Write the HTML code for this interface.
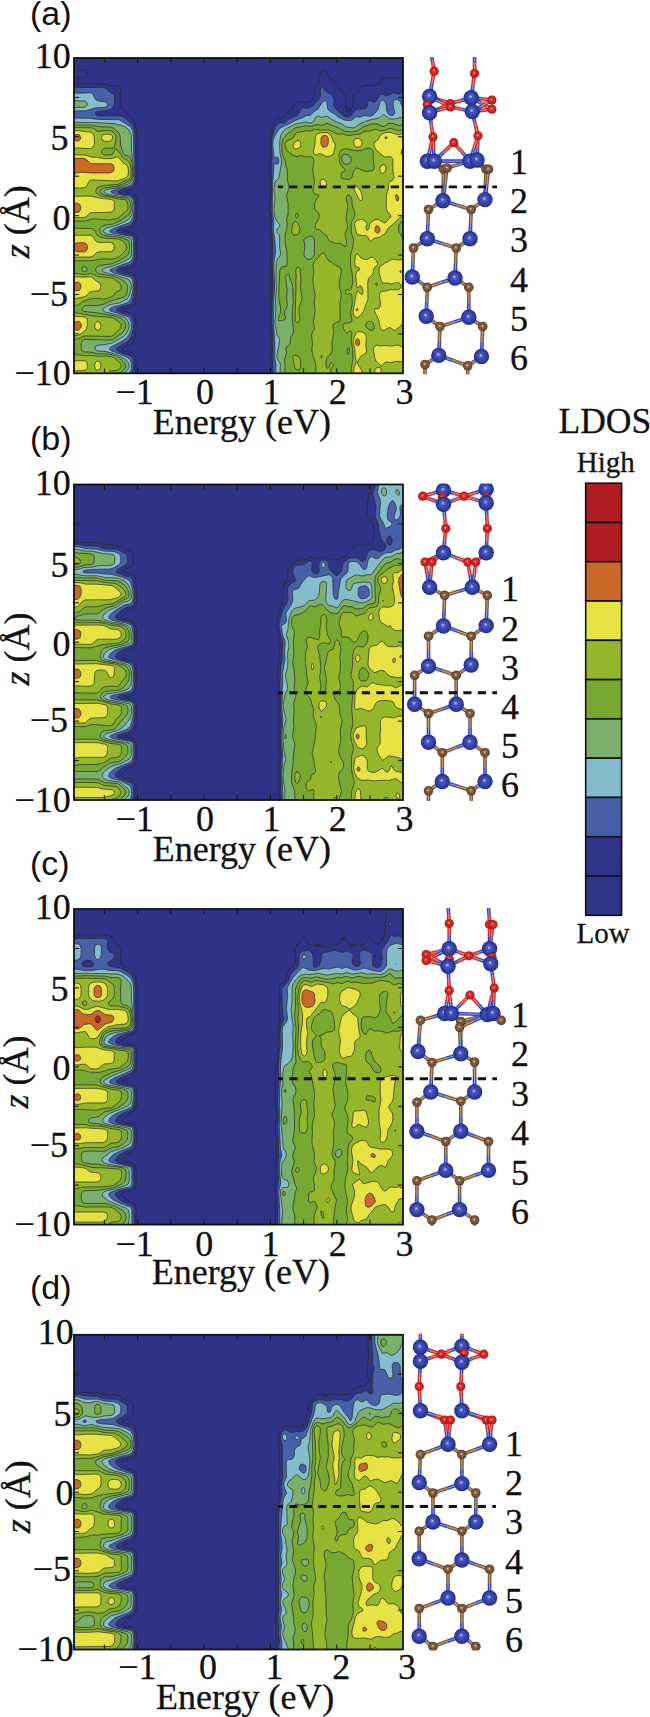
<!DOCTYPE html>
<html><head><meta charset="utf-8"><style>
html,body{margin:0;padding:0;background:#fff;}
svg{display:block;}
</style></head><body>
<svg width="650" height="1717" viewBox="0 0 650 1717">
<defs>
<radialGradient id="gB" cx="0.5" cy="0.5" r="0.5" fx="0.45" fy="0.42"><stop offset="0" stop-color="#c8d0f8"/><stop offset="0.25" stop-color="#4a58c0"/><stop offset="0.8" stop-color="#2c3a9c"/><stop offset="1" stop-color="#1f2a7a"/></radialGradient>
<radialGradient id="gN" cx="0.5" cy="0.5" r="0.5" fx="0.45" fy="0.42"><stop offset="0" stop-color="#e8d0b8"/><stop offset="0.3" stop-color="#8a6444"/><stop offset="0.85" stop-color="#6a4a30"/><stop offset="1" stop-color="#4a3220"/></radialGradient>
<radialGradient id="gO" cx="0.5" cy="0.5" r="0.5" fx="0.45" fy="0.42"><stop offset="0" stop-color="#f8b0b0"/><stop offset="0.3" stop-color="#d83030"/><stop offset="0.85" stop-color="#c01c1c"/><stop offset="1" stop-color="#901010"/></radialGradient>
</defs>
<rect width="650" height="1717" fill="#fff"/>

<svg x="74.0" y="58.0" width="329.0" height="315.3" viewBox="74.0 58.0 329.0 315.3" overflow="hidden">
<rect x="74.0" y="58.0" width="329.0" height="315.3" fill="#2e3388"/>
<path d="M78 69.9L83 69.9 86 70.7 87.4 73 86.8 76 85 77.3 83 77.7 78 77.6 75.9 77 74.2 75 74.1 73 75.2 71ZM322 70.8L324 70.5 325 71 326 72 328 76.1 332 79.1 335 84.4 338.6 87 341.5 92 345 94.4 346 95.6 346.5 97 345.4 98 345.7 109 346.4 111 348 112 350.3 111 349 110.4 349 109.3 350 109.4 351 110.3 351 109 352 108 353 106 353.2 100 354 95.9 355 94.5 358.6 92 362 86.6 365 85.6 375 85.5 378 84.7 379 85.2 380.3 84 380 83.7 379 84.6 378.8 84 380 81.6 381 82.4 381.3 81 381 79.7 382 78.6 384 77.9 406 77.7 406 376 270.8 376 270.4 365 271.2 357 270.5 342 271.1 332 270.3 324 270.3 303 271.2 289 270.4 264 270.8 237 270.3 230 270.3 221 269.5 209 270.3 196 270.3 185 269.8 180 269.8 149 270.2 148 269.7 140 270.7 132 272.2 127 276 119.3 278 118.1 283 117.8 284.5 117 288.6 111 291 109.5 292 110.1 292 108.7 293 109.2 292.6 108 294.1 104 296 102 298 101.6 305 102.1 305.7 103 307 103.2 307.6 103 308 102.2 311 101.4 312.7 100 314 97 314.2 91 315.1 89 314.7 88 315 87.4 316 87.5 317.2 86 317.3 85 319.7 82 320.1 74 320.9 72ZM96 84L105 84 111 86 117 85.9 119.7 87 120.8 90 120.5 103 121 107.4 122.1 109 126 111 129.3 116 133.1 120 135.2 124 136.3 129 136.9 136 137.4 169 137.3 177 136.6 183 135.7 186 134 188.5 132 189.7 125 191 124.9 192 132 193.4 134.5 195 135.9 197 136.7 200 137.1 206 136.5 219 135.4 224 133.7 227 131 228.6 123.9 230 123 231 124.8 232 131 232.5 133 233.1 135 234.4 136 236 136.8 240 136.6 258 135.6 263 134 266.1 131 267.9 124 269.4 122.8 270 122.8 271 125 271.9 132 272.9 134.9 275 135.9 277 136.5 280 136.6 290 135.7 301 134.5 305 132 307.2 124 308.8 122.7 310 123.8 311 131 312.8 134 315 135 317 135.7 320 136.1 328 134.7 338 133 343 130.9 345 124 347.2 122.5 348 121.9 349 122.1 350 123.6 351 132 352.7 134.6 355 135.6 358 136.1 364 135.6 376 71 376 71 84.2ZM347 106.3L347.6 108 347 108.2 346.5 108ZM348 108.6L348.5 109 348 109.1Z" fill="#2e3488" fill-rule="evenodd" stroke="#2a2a2a" stroke-width="0.7"/>
<path d="M72 87.8L102 87.3 106 88.3 109 91.6 113 93.7 114.2 95 114.8 99 114 106 112.7 108 110 109.8 106 110.8 98 111.2 96 112 95.4 113 95.4 114 97 115.5 99 115.9 118 115.8 122 116.3 124 117.3 131.6 124 133 126.1 134.2 130 135 136 135.1 154 135.7 168 135.7 177 134.8 182 133.5 185 132 186.6 130 187.5 122.7 189 118.3 191 117.6 192 118.8 193 121 193.7 130 195.1 133.2 197 134.6 200 135.2 205 135.3 210 134.6 217 133.2 222 131 224.9 128.5 226 120.8 228 117.2 230 116.7 231 117.6 232 122 233.6 132 235.1 134 237 134.6 239 134.7 256 134.2 259 133 262 132 263.4 130 264.9 119.5 268 116.6 270 116.6 271 117.7 272 121 273.4 130 275 132 275.9 133.6 278 134.4 281 134.5 290 133 300 132 302.7 130 304.4 123 306.2 118.6 308 116.9 309 116.4 310 117.1 311 118.9 312 127 314.2 130 315.6 132 317.8 133.2 321 133.7 325 133.5 329 132 335 130.2 339 127.2 342 117.5 347 116 349 116.5 350 119.7 352 124 353.9 130 355.5 132 357.1 133.2 360 133.8 365 132.4 376 71 376 71 87.8ZM321 87.8L322 87.3 323 87.5 325.8 91 332 95.2 333.2 97 334.1 100 334.1 102 333.4 105 333.7 107 343 115.6 346 116.8 349 116.5 351 115.7 355 110.6 357 109.1 364 108.9 366 108 366.7 107 368 101.8 369 100.9 370 100.8 374 102 376 101.5 379 95.8 381 94.2 383 94.3 385 95.6 387 96.1 393 93.1 395 93 399 94.2 403 91.8 406 91.5 406 376 272.8 376 272.8 332 271.9 323 272.1 301 273 289 272.2 263 273 254 272.7 238 271.7 228 272.1 221 271.1 210 272 154 271.4 143 272 137.2 274 130.2 276 125.9 278 123.3 280 122.8 283 123.2 285 122.7 290 118.6 295 116.5 297.5 115 299.1 113 301 109 302 107.9 303 107.6 307 108.5 309 108.3 311 107.3 315 103.8 320.1 97 320.7 94 320 90Z" fill="#4760a8" fill-rule="evenodd" stroke="#2a2a2a" stroke-width="0.7"/>
<path d="M88 92.9L91 92.9 92.9 94 95.2 99 97 100.7 106.3 102 107.7 104 107.2 106 105.7 107 104 107.4 96 107.8 86 110.7 71 111 71 93.2ZM395 99.4L397 99.3 399.9 101 402.7 108 404.5 110 406 110.8 406 376 275.7 376 276 365 274.8 358 274.8 341 273.4 323 273.7 300 274.6 289 273.9 263 275.7 252 274.8 239 273.4 230 273.8 222 272.4 211 272.5 189 274 163.4 275 162.8 275.9 164 277 164.5 278 164 279.1 161 278 157.6 277 157.1 275 158.2 274.1 156 272.7 144 273 140.7 274 137.4 277 132 280 128.1 292 122.6 296 120.2 303 117.5 307 115.2 310 115.6 313.6 112 318.1 109 321.6 103 324 100.8 326 100.8 326.8 102 327.5 108 328.5 110 330 111.5 334 113.5 338 116.9 343 119.4 346 120.4 350 120.6 352 120.1 356 116.7 360 117.2 364 115.6 370 116.3 373 115.2 378 109.7 380.2 102 381 100.6 382 100.1 384 101.1 385.4 103 386.1 105 386.9 111 388.2 114 390 115.5 391 115.8 393 115.4 394.4 114 394.7 112 393.1 106 393.1 103 393.6 101ZM72 118.1L89 118.2 98 119.4 119 119.7 130 126.2 131.9 129 133 132.7 133.5 137 133.6 154 134.6 169 134.5 177 133.7 181 132 184 130 185.4 113.8 190 111.2 191 110.7 192 112.1 193 116 194.2 128.1 196 131.9 198 133.4 201 134 206 133.9 211 133 216.9 131.1 221 129 222.8 112.6 229 110.5 230 109.6 231 110.1 232 112.3 233 131 236.5 132.6 238 133.2 240 133.2 255 132.7 258 131.6 260 130 261.7 128 262.7 116.1 267 111.3 269 110 270 110 271 114.1 273 130 277.3 132 279.4 133 283 132.9 290 131 298 129.4 301 127 302.6 120 305.2 112 307.2 109.5 309 109.4 310 110.5 311 127 316.4 129 318 131.1 322 131.7 326 131.3 329 129.8 333 127.5 337 124 340.1 110.8 347 109.8 348 109.5 349 110.1 350 111.9 351 119 353.6 128 357.9 130.3 360 131.6 364 131.5 368 131 370.1 128.5 374 127.8 376 71 376 71 118.1Z" fill="#84bccc" fill-rule="evenodd" stroke="#2a2a2a" stroke-width="0.7"/>
<path d="M72 100.7L85 101 87 102.8 87.2 105 86 106.6 84 107.3 71 107.5 71 100.7ZM383 114.6L384 114.8 389 118.5 391 119.1 395 118.9 400 117.6 406 118 406 376 279.8 376 280.5 364 277.6 359 276.9 356 279.8 340 279.1 338 277 335 274.9 323 275.7 310 275.5 299 276.4 288 275.9 280 276.2 264 277 260.1 279.8 256 280.6 254 279.6 247 279.6 237 279 234.8 277 232.1 276.7 230 277 229 279.3 227 279.9 226 279.9 225 276 220 274.6 216 273.9 209 274.9 199 273.9 190 274.9 182 278 179.2 279.1 177 281.5 163 281.6 160 280 153 279.6 146 279.9 140 280.9 135 282.7 132 286 128.7 296 123.8 306 121.9 310 123.2 312 122.8 313.7 121 315.8 117 317 116.1 318 116 322 117.5 326 116.2 327 116.3 336 121.8 341.6 124 346 127 353 127.9 355.5 127 361 123.2 368 120.5 380 117.6ZM72 122.5L91 122.5 114 123.5 124 126.4 127 127.9 130 131.8 131.3 135 131.6 152 133.6 168 133.6 176 132.7 180 131 182.5 129 183.7 119 187.4 106 189.7 104.1 191 104 192 104.8 193 107.6 194 118 196 126 196.7 130 198.4 131.8 201 132.6 205 132.8 209 132 214.2 130.2 218 128 219.8 121.9 223 114.5 226 106 228.2 104 229.5 103.4 231 104.5 233 106.9 234 119 235.6 130 238.1 131 239.1 131.5 241 131.6 253 131.2 256 130.1 258 129 258.9 122.8 262 113 266 105 268 103.2 269 102.4 270 102.6 271 103.8 272 106 272.8 114 274.7 127.6 279 129.1 280 130.5 282 131.3 285 131.2 289 129.1 296 127.2 299 119 303.1 110 304.5 103.9 308 103 309 102.8 310 103.4 311 105.2 312 115 314.4 123 316.8 125.4 318 127 319.6 128.3 322 129.2 325 129.2 327 128.3 330 126 334 124.2 336 122 337.6 112 343 105 344.6 97 345.3 95.9 346 94.9 348 95.6 350 97.3 351 105 351.3 117 354.5 120.1 356 127.1 361 129 364 129 367.4 127.6 370 124 373.1 123 376 71 376 71 122.5Z" fill="#7ab06a" fill-rule="evenodd" stroke="#2a2a2a" stroke-width="0.7"/>
<path d="M404 123L406 122.6 406 376 284.5 376 285.2 367 284.6 359 286.6 353 285.9 348 286.3 347 289 345.4 290 344.3 290.4 342 290.2 338 292.8 334 293.5 331 292.2 318 292.4 309 293.3 302 292.8 288 292 283.7 289.7 278 289 274.4 288 273.3 286 275.6 285.6 278 287.2 290 286.6 298 287.3 305 286.9 307 284.7 311 284.1 313 285.8 318 285.5 319 284 320 279 321.1 278.4 320 278.8 317 280.4 313 280.7 311 280.5 307 278.7 299 279.7 271 281 268 283 266.7 286 266.4 287 265.2 287.2 264 287.1 252 285.2 244 285.1 235 287.3 226 286.7 219 288.1 214 288 203 286.9 198 286.8 195 289.2 187 287.2 179 287.3 170 285.7 165 285.2 161 283 155.9 282.3 153 281.8 144 283 138.8 287 134.1 291 131.5 295 127.9 306 125.6 311 126.4 316 124.6 322 125.2 327 123.3 338 127.6 345 131.3 351 131.9 357.6 131 362.7 127 371.1 124 377 123.8 381 126.1 383 126.6 384.8 126 387 124.1 389 123.3 394 123.7 399 125.8 400 125.7ZM342.9 155L342 156.8 341.8 159 342 161 343 162.8 345 164 347 164.3 349 164 350 163.3 350.8 162 351.3 160 350.9 158 350 156.4 348.2 155 346 154.3 344 154.3ZM307.6 237L304 239 303.7 240 305 246 303.9 254 304.4 256 305.5 258 307 259.1 309 259.5 312 258.4 314.3 255 314.5 242 313.6 238 312 236.3 310 236.1ZM348.2 348L347 351 347.1 353 348 354.5 349 353.1 349.4 350 349 347.7ZM72 125.1L91 125.1 99 126.7 110 127 113.2 128 118 132 119.5 134 120.2 137 120.6 145 123 153 125 155 129 156.4 130 157.3 131 159.3 132 163.4 132.5 168 132.5 176 131.7 179 130.1 181 118 186.2 103.7 188 101.6 189 100.2 191 100.7 193 104 194.9 118 197.3 125.8 198 128.1 199 130 201.4 131 205 131.2 209 130.1 213 128.6 215 121 220.4 113.2 224 104 225.4 102 226.2 100.2 228 99.7 230 100.3 233 103 235.2 108 236.2 119 237 127.9 240 129 241.7 129.5 245 129.5 249 128.9 253 127 255.7 120 260.3 112 263.8 102 265.1 98.3 266 96 267.9 95.4 270 96.3 272 99 273.8 113 276.1 120.6 279 123.8 281 126.7 284 127.6 286 127.6 289 126.6 294 125.6 296 124 297.1 110 301.1 104.2 304 97 305.5 85 305.7 83 307 81.9 309 82 310 82.9 311 85 311.6 98 313 114 315.8 121.9 319 124.8 322 126 326 124.7 330 122 333.2 113.8 339 112 339.7 109 340.1 85 339.4 83.3 340 82.1 341 81.2 344 81.2 348 81.7 350 82.4 351 84 351.9 91 352.1 97 353.7 105 353.7 111 354.5 116 355.9 119.5 358 124.8 363 125.8 366 125.1 368 120.6 373 119.8 376 71 376 71 125.1ZM82.9 267L81.7 269 82.3 271 84 271.8 86.6 271 87.2 269 86.1 267 84 266.5Z" fill="#76a832" fill-rule="evenodd" stroke="#2a2a2a" stroke-width="0.7"/>
<path d="M72 127.6L91 127.7 93 128.3 98 131.4 105 130.6 111 130.8 113 131.7 115.1 134 115.9 136 116 139 114.1 148 104 148.3 102 150 101.5 152 101.8 153 103 154.4 104.7 155 110.6 155 113 153.9 115 149.4 116 149.4 118 150.6 122 156.5 124 158.2 128 160.6 130 163.3 131.1 168 130.8 177 129 179.3 123 181.6 118 184.4 104 185.4 99 186.6 96.9 188 95.6 191 96.3 193 97.3 194 101.3 196 112 197.5 118 199 124 199.6 125.4 200 126.6 201 128 205 127.9 209 126.5 211 118.5 218 110 219.9 94 218.9 91 219.2 85 221.1 71 220.9 71 127.6ZM406 127.8L406 220.5 403 220.6 400.8 222 399 225 398.4 229 399 232.3 401.5 236 402.7 240 404 241.3 406 241.7 406 376 351.8 376 351.1 369 352.8 360 352.6 349 351.2 340 352 332.8 351 331.1 350 331.1 347 332.9 346 332.7 343.5 329 342.8 326 343.3 324 351 322.2 351.9 321 352 320 350.5 313 352.3 303 352 296.2 351 293.8 350 293.2 348 294.3 347 294.3 346 293.5 345.3 292 345.9 290 347 289.2 350 290.6 351 289.5 352.7 283 352.1 273 350.4 265 350.6 256 351 253 352.6 248 353.8 240 351.4 233 351.1 225 351.6 222 354.6 216 354.9 214 354.3 211 352.1 205 351.9 199 351 196.9 349 195 348 195 347 195.7 346.2 198 347.8 206 346 218 347.7 226 347.2 229 345.5 232 345 234 346.5 241 346.3 244 345.6 246 345 247.1 341 243.6 335 243.3 329.5 241 326 235 323 233 319 229.3 316 229.5 315 228.5 315.5 224 318.5 219 319.3 216 318.6 213 314.8 209 314.3 205 315.4 201 318.9 196 318.8 195 315 194.1 313.9 193 313.1 191 313.1 189 314.7 182 312.6 170 314 161 313.6 159 313 158 311 156.7 306 156.9 301 155.7 297 156.7 293 155.3 287 150.5 285 146.3 284.8 144 285.7 142 287 140.8 293 138 295.2 134 297 132.2 303 131.6 306 130.6 310 131.3 315 129.2 321 130.1 328 129.8 332 131.3 337 134.3 341 133.7 349 135.8 353 134.7 359 134.2 364 131.6 371 130.7 375 129.3 377 129.4 379 130.5 381 130.9 385 130.2 389 128.6 391 128.5 399 131.1ZM343.9 149L342 149.7 340.5 151 339.3 153 339 155 339.3 161 340.2 164 342 166.5 345 169 345.3 170 344.8 171 342 172.5 341.1 174 340.9 177 342 178.8 349 179.4 351 178.6 352 177 353.6 171 356 168.1 358 168.2 365 171.5 372 170.8 373.5 170 374.3 167 373.3 160 373.3 153 372.8 151 371 148.6 369 148 366 148.3 362 150.4 360 150.6 354 150.5 347 148.8ZM375.8 283L375.6 284 376 284.9 377 285.7 377.7 285 377.4 284 377 283ZM367.6 322L366.6 323 365.6 325 366 327 368 328.8 370 329.9 372 330.4 373 330.2 374 329 374.4 327 373.2 323 371 321.5 369 321.5ZM296 213.8L297 213.4 298 214 298.2 216 297 217.5 296 217.5 295.4 216ZM295 221.3L296 221.4 298.3 224 299.4 226 299.9 229 299 233.4 298 234.5 296 235.1 294 234.9 293 234.3 292.1 233 291.6 231 291.9 228 293 223.8ZM72 228.2L92 228.5 94 229.7 97.1 235 100 237.2 105 238.1 119 239 122.6 241 125.8 244 126.5 247 126 249.7 119.2 257 117 258 112 259.1 99 259.1 93 260.5 89 260.8 71 260.7 71 228.2ZM323 252.9L324 252.9 325 253.7 326.6 258 328 260 331.3 262 334.6 265 340 267.1 341 269 341.3 271 339.1 284 339.4 288 341.5 294 339.9 303 340.2 320 339.5 321 333.5 324 332.9 325 333.6 332 333.2 336 331.9 342 332.4 350 331 353.9 327 357.3 326 361 326 366 327 368.1 328 368.3 329 367.6 330 364.2 331 362.7 332 362.5 333.3 364 333 366.3 330.8 369 330.5 370 331.2 376 316.2 376 315.6 363 313.3 357 311.8 350 312.5 343 311.5 335 312 333 314.4 329 314.4 327 313.4 322 315.1 311 314.2 303 315.2 296 313.8 289 312.9 280 313.9 272 313.1 265 313.6 263 314.8 261 318 258 321 254ZM321 356L321 358.1 322 357.2 322.2 356 322 355.2ZM297 267.5L298 267.2 299 267.6 300.2 270 300.9 279 300.3 288 302.1 297 301.7 300 299.6 306 299 309 299.7 320 298.5 322 297 322.6 295.6 321 295 318 296 289 295.8 281 296.2 276 295.7 271 296 269ZM72 273.2L77 273.5 84 274.6 91 273.5 93 274 98 276.7 112 278 114.1 279 120 283.7 121.2 286 121 288.6 120 290.1 116 292.3 113 295.9 111 297.1 104 299.1 97 298.4 91 298.7 83 301.2 79 304.4 77 305.4 71 305.6 71 273.1ZM72 312.6L78 313 92 315.9 112 317.5 114.9 319 120 322.9 121.2 325 121.2 327 120 329 116.3 332 113.6 335 111 336.4 85 335.9 83 336.4 78 338.9 71 339.5 71 312.5ZM72 354.3L77 354.4 84 355.7 91 355.5 97 356.2 106 356.1 112 356.8 114.5 358 120 363 121.1 365 121 366.8 120 368.5 118 370.1 110 371.1 108.3 373 107.7 376 71 376 71 354.3ZM294 355.1L298 356.1 299.2 357 300 358.6 300.7 362 300.8 366 300 369 299 369.9 297 370.1 296 369.5 294.5 367 292.8 358 293.1 356Z" fill="#94b62a" fill-rule="evenodd" stroke="#2a2a2a" stroke-width="0.7"/>
<path d="M73 131L79 130.6 85 131.7 90 132 92 132.8 93.7 135 94.4 138 94.4 144 93.4 147 92 148.1 90 148.6 77.7 148 71 148.5 71 131.4ZM321 132.8L326 132.4 329.7 134 331.3 136 333 140.7 334.9 144 335.4 146 333.5 153 332.2 155 331 155.7 328 156.5 326 156.4 320 153.4 316 155.1 314 154 313.5 153 313.4 151 314.9 145 315.6 136 317 133.9ZM385 132.8L390 132.2 397 134.5 399 134.7 404 132.9 406 132.7 406 209.2 401.7 216 392.1 225 388.3 228 385.6 233 380 237.2 374 238.5 371 241.3 370 241 367.6 237 366 235.5 360 235.4 357.1 234 356.1 232 354.8 226 354.7 223 355.9 221 357 220.4 361 219.4 364 220 366.9 223 367 224 365.8 228 366 229.4 367 230.2 368 229.8 369 228.4 369.7 224 370.3 223 374 220.2 376 219.4 378 219.4 385 223.1 390.6 217 390.5 215 387.6 212 386.2 209 386.4 196 386.6 194 388.4 189 388.3 185 388.7 183 390 181.5 393 179.9 394.2 178 392.7 169 393 159.6 392.3 158 391 156.9 389 156.5 385 157.2 384 156.8 377 150.7 375 147.9 373.9 145 374.2 143 374.9 142 378 139.7 380.6 135 382 133.9ZM103 134.8L106 134.1 111 134.5 112 135.3 112.7 137 112 139.9 111 140.8 109 141.4 105 141.3 103 140.6 101.5 138 101.9 136ZM355 138.7L358 138.4 359.9 139 361 140 361.8 142 361.9 144 361.1 146 360 146.9 358 147.3 356.3 147 354 145 353.7 141ZM297 140.6L299 140.4 300 141.6 300.8 144 300.8 146 300.1 147 297 149 295 149.2 293.3 147 293 145 294.2 143ZM72 154.8L85 155 92 157.1 97 157.3 105 158.7 112 158.5 117 156.9 118 157 123 162.5 127 165.7 127.9 167 128.4 171 128 175.9 126 177.7 117 181 91 179.9 89 181.3 86.8 186 85 187.6 80 188.1 71 187.5 71 154.8ZM383 164.7L384 164.7 385 165.2 385.8 167 385.9 169 384.8 172 383 173.4 382 173.3 381 172.7 380 171.1 379.8 168 381 165.7ZM321 179.5L322 179.2 324 179.6 326 181.1 326.6 183 326.5 185 325 187.5 323 187.6 322 187 320.6 185 320 182ZM355 185L359 188.2 361 191.9 362.6 198 362.1 200 361 200.9 360 200.7 359 199.2 354 189.4 353.7 186 354 185.3ZM85 196L91 196.1 101 198.4 110 199.2 112.8 200 113.8 201 114.3 203 114.2 208 113.7 210 112 211.9 110 212.3 91 212.7 89 213.9 86 217 84 217.6 71 217.4 71 196.6ZM72 234.9L78 235.3 91 235.2 93 236.9 95.6 241 97 242 99 242.4 110 242.3 112.5 243 114 245.5 113.9 249 113 250.5 111 251.6 100 251.8 97 252.4 93.2 256 91 257 71 257.2 71 234.8ZM357 253.7L358 254.3 360.9 258 364 259.3 367 259.5 371 257.3 373 257.3 376.6 261 377.6 264 377.2 265 374.1 268 372.9 274 369 277.8 368.1 280 367.7 284 368 299 363.7 311 361.6 314 358 317.4 357 317.8 355 316.9 354 315.5 353 312 356 295.2 357 291.4 358 291.1 361 294.3 362 294.4 362.5 294 363.1 292 362.6 289 361 286.1 360 285.8 359 286.3 358 287.9 357 287.7 355.8 278 355.8 274 357 270.9 359 270.4 359.6 269 359 267.5 356 267.1 354.6 264 355.3 257 356 254.5ZM406 256.6L406 283 404.8 284 404.1 286 404.8 287 406 287.5 406 318.4 401 325.5 395 330.5 394 330.3 390 327.4 389 327.5 384 330.4 382 330.3 381 329.5 380.3 328 378.7 320 377 315.9 375.2 313 374.5 310 375 308.6 378 308.9 379 308.3 380.3 306 380.5 303 379.4 297 379.5 294 380.9 292 382 291.3 386 291 390 289.7 397 289.8 399 289.4 400.7 288 401.6 286 400 283.7 397 282.2 391 284 387 282.8 384 283.3 382.9 283 381.4 281 379.1 273 379 270 379.6 267 384.8 263 388 261.7 391 259.8 393 259.3 400 260 402 259.3ZM400 271L400 272 401 272.5 401.5 272 401 270.5ZM72 276.7L83 277.2 90 276.8 92 277.2 96 280.7 100 283.3 100.9 286 100.3 289 99.6 290 98 290.9 92 291.3 90 292 86.1 296 85 296.6 78 298.2 71 298.9 71 276.6ZM72 316.1L85 317 86.8 318 87.4 319 87.3 325 86.3 329 84.6 331 81 333.8 78 335.4 71 336 71 316ZM97 321.8L99.1 322 100.1 323 100.8 325 100.8 327 100.1 329 98 330.3 96 329.7 94.7 327 95 323.8 96 322.3ZM358 331.6L363 332.2 364.3 333 365.8 335 366.3 338 365.8 345 366.5 351 365.8 353 361 356.2 357.3 362 358.2 365 361.7 370 361.9 376 353.7 376 353.9 368 356.4 362 355.2 356 354.8 349 353.6 344 353.4 341 354 337.8 356 333.3ZM397 345L402 346.6 406 346.4 406 359.8 401 361.9 396 361.3 391 362.6 386 361.9 384.3 363 382 365.7 381 366 375.9 361 374.7 358 373.5 350 373.7 348 375 345.8 377 345.2 381 346 384 345.4 392 346ZM72 360.8L83 360.6 85.1 361 86.6 362 87.5 364 87.6 366 87 368.6 86 369.9 84 370.6 71 370.8 71 360.8ZM98 361L100 362.1 100.8 364 100.9 366 100 369 98 370.2 96.7 370 95.5 369 94.6 366 94.8 364 95.7 362 97 361.1ZM377 367.6L380 367.3 380.8 368 381.6 376 374 376 375 370 376 368.3Z" fill="#e6e244" fill-rule="evenodd" stroke="#2a2a2a" stroke-width="0.7"/>
<path d="M75 134.9L78 134.3 80 135.4 80.7 138 79.9 140 79 140.7 77 141.1 74.6 140 74 139 73.7 137ZM323 135.6L326 135.4 327.1 136 328.2 138 328.3 142 327.8 145 327 146.3 325 147.1 323 147 322 146.2 320.9 144 321.1 138 322 136.2ZM386 136.8L387.1 137 387.1 138 386 138.6 385 138.4 385 137.2ZM402 149.1L403.1 150 404.3 155 406 155.7 406 160.8 405 159.5 403.7 156 401.5 154 401.1 153ZM72 158.3L82 158.3 85 158.7 87 160 90 163 92 163.6 111 163.7 113 164.8 113.7 166 114.1 168 113.9 170 112.6 172 110 172.9 92 173 82 172.3 77 172.7 75 174 72.3 179 71 180 71 158.3ZM406 169.1L406 176.1 405.1 174 404.9 172ZM396 194.7L397 194.7 398.5 197 398.8 199 398 200.8 397 200.9 395.9 199 395.5 196ZM72 203.1L78 203.4 80 204.7 80.9 208 80 211.1 78.9 212 77 212.5 71 212.6 71 203.1ZM377 225.6L379 226.8 380.2 230 379.7 232 378 233.1 376.9 233 375.5 232 374.9 230 375.4 227 376 226.1ZM77 242.8L83 242.6 86 243.5 87.5 246 87.5 248 87 250 85 251.7 83 252 78 251.9 75.4 251 74.1 249 74 246 75 243.9ZM75 282.8L78 282.1 79.7 283 80.4 284 80.9 286 80.8 288 80 289.7 79 290.5 76 290.7 74.1 289 73.5 286 74.1 284ZM405 292.6L406 292.4 406 297 404 295 404 293.6ZM357 308.3L358 309 357.9 310 357 311.1 356.1 310ZM76 321.7L79 321.6 80 322.2 81.2 324 81.4 326 80.7 328 78 330.3 75.4 330 73.8 328 73.5 326 73.8 324 75 322.2ZM357 338.7L358 338.7 359 339.7 359.7 342 359.5 344 359 345.1 358 345.8 357 345.7 356.3 345 355.5 343 355.8 340Z" fill="#c8692a" fill-rule="evenodd" stroke="#2a2a2a" stroke-width="0.7"/>
</svg>
<path d="M104.4 58.0v5M104.4 373.3v-5M137.6 58.0v5M137.6 373.3v-5M170.8 58.0v5M170.8 373.3v-5M204.0 58.0v5M204.0 373.3v-5M237.2 58.0v5M237.2 373.3v-5M270.4 58.0v5M270.4 373.3v-5M303.6 58.0v5M303.6 373.3v-5M336.8 58.0v5M336.8 373.3v-5M370.0 58.0v5M370.0 373.3v-5M74.0 333.9h5M403.0 333.9h-5M74.0 294.5h5M403.0 294.5h-5M74.0 255.1h5M403.0 255.1h-5M74.0 215.7h5M403.0 215.7h-5M74.0 176.2h5M403.0 176.2h-5M74.0 136.8h5M403.0 136.8h-5M74.0 97.4h5M403.0 97.4h-5" stroke="#111" stroke-width="1" fill="none"/>
<rect x="74.0" y="58.0" width="329.0" height="315.3" fill="none" stroke="#111" stroke-width="1.8"/>
<text x="52.7" y="68.2" text-anchor="middle" style="font-family:'Liberation Serif',serif;stroke:#111;stroke-width:0.3px;font-size:36px" fill="#111">10</text>
<text x="59.6" y="150.3" text-anchor="middle" style="font-family:'Liberation Serif',serif;stroke:#111;stroke-width:0.3px;font-size:36px" fill="#111">5</text>
<text x="61.6" y="229.5" text-anchor="middle" style="font-family:'Liberation Serif',serif;stroke:#111;stroke-width:0.3px;font-size:36px" fill="#111">0</text>
<text x="48.85" y="305.8" text-anchor="middle" style="font-family:'Liberation Serif',serif;stroke:#111;stroke-width:0.3px;font-size:36px" fill="#111">−5</text>
<text x="42.7" y="385.4" text-anchor="middle" style="font-family:'Liberation Serif',serif;stroke:#111;stroke-width:0.3px;font-size:36px" fill="#111">−10</text>
<text x="134.6" y="404.4" text-anchor="middle" style="font-family:'Liberation Serif',serif;stroke:#111;stroke-width:0.3px;font-size:36px" fill="#111">−1</text>
<text x="205" y="404.4" text-anchor="middle" style="font-family:'Liberation Serif',serif;stroke:#111;stroke-width:0.3px;font-size:36px" fill="#111">0</text>
<text x="271.4" y="404.4" text-anchor="middle" style="font-family:'Liberation Serif',serif;stroke:#111;stroke-width:0.3px;font-size:36px" fill="#111">1</text>
<text x="337.8" y="404.4" text-anchor="middle" style="font-family:'Liberation Serif',serif;stroke:#111;stroke-width:0.3px;font-size:36px" fill="#111">2</text>
<text x="404.5" y="404.4" text-anchor="middle" style="font-family:'Liberation Serif',serif;stroke:#111;stroke-width:0.3px;font-size:36px" fill="#111">3</text>
<text x="152.8" y="433.9" style="font-family:'Liberation Serif',serif;stroke:#111;stroke-width:0.3px;font-size:36px" fill="#111">Energy (eV)</text>
<text transform="translate(29 221.7) rotate(-90)" text-anchor="middle" style="font-family:'Liberation Serif',serif;stroke:#111;stroke-width:0.3px;font-size:36px" fill="#111"><tspan font-style="italic">z</tspan> (Å)</text>
<text x="30" y="24.5" style="font-family:'Liberation Sans',sans-serif;font-size:34px" fill="#111">(a)</text>
<clipPath id="cla"><rect x="380" y="57.0" width="150" height="317.3"/></clipPath><g clip-path="url(#cla)">
<line x1="431.0" y1="53.0" x2="432.6" y2="62.1" stroke="#3645ad" stroke-width="3.7"/><line x1="431.0" y1="53.0" x2="432.6" y2="62.1" stroke="#8f98e6" stroke-width="1.1"/><line x1="432.6" y1="62.1" x2="434.2" y2="71.2" stroke="#cc2a2a" stroke-width="3.7"/><line x1="432.6" y1="62.1" x2="434.2" y2="71.2" stroke="#f08a8a" stroke-width="1.1"/><line x1="474.6" y1="53.0" x2="474.6" y2="63.2" stroke="#3645ad" stroke-width="3.7"/><line x1="474.6" y1="53.0" x2="474.6" y2="63.2" stroke="#8f98e6" stroke-width="1.1"/><line x1="474.6" y1="63.2" x2="474.6" y2="73.5" stroke="#cc2a2a" stroke-width="3.7"/><line x1="474.6" y1="63.2" x2="474.6" y2="73.5" stroke="#f08a8a" stroke-width="1.1"/><line x1="434.2" y1="71.2" x2="431.9" y2="83.8" stroke="#cc2a2a" stroke-width="3.7"/><line x1="434.2" y1="71.2" x2="431.9" y2="83.8" stroke="#f08a8a" stroke-width="1.1"/><line x1="431.9" y1="83.8" x2="429.6" y2="96.5" stroke="#3645ad" stroke-width="3.7"/><line x1="431.9" y1="83.8" x2="429.6" y2="96.5" stroke="#8f98e6" stroke-width="1.1"/><line x1="474.6" y1="73.5" x2="472.9" y2="85.6" stroke="#cc2a2a" stroke-width="3.7"/><line x1="474.6" y1="73.5" x2="472.9" y2="85.6" stroke="#f08a8a" stroke-width="1.1"/><line x1="472.9" y1="85.6" x2="471.2" y2="97.7" stroke="#3645ad" stroke-width="3.7"/><line x1="472.9" y1="85.6" x2="471.2" y2="97.7" stroke="#8f98e6" stroke-width="1.1"/><line x1="429.6" y1="96.5" x2="429.6" y2="104.6" stroke="#3645ad" stroke-width="3.7"/><line x1="429.6" y1="96.5" x2="429.6" y2="104.6" stroke="#8f98e6" stroke-width="1.1"/><line x1="429.6" y1="104.6" x2="429.6" y2="112.7" stroke="#3645ad" stroke-width="3.7"/><line x1="429.6" y1="104.6" x2="429.6" y2="112.7" stroke="#8f98e6" stroke-width="1.1"/><line x1="471.2" y1="97.7" x2="471.8" y2="104.6" stroke="#3645ad" stroke-width="3.7"/><line x1="471.2" y1="97.7" x2="471.8" y2="104.6" stroke="#8f98e6" stroke-width="1.1"/><line x1="471.8" y1="104.6" x2="472.3" y2="111.5" stroke="#3645ad" stroke-width="3.7"/><line x1="471.8" y1="104.6" x2="472.3" y2="111.5" stroke="#8f98e6" stroke-width="1.1"/><line x1="429.6" y1="96.5" x2="440.0" y2="100.0" stroke="#3645ad" stroke-width="3.7"/><line x1="429.6" y1="96.5" x2="440.0" y2="100.0" stroke="#8f98e6" stroke-width="1.1"/><line x1="440.0" y1="100.0" x2="450.4" y2="103.5" stroke="#cc2a2a" stroke-width="3.7"/><line x1="440.0" y1="100.0" x2="450.4" y2="103.5" stroke="#f08a8a" stroke-width="1.1"/><line x1="429.6" y1="96.5" x2="440.0" y2="101.7" stroke="#3645ad" stroke-width="3.7"/><line x1="429.6" y1="96.5" x2="440.0" y2="101.7" stroke="#8f98e6" stroke-width="1.1"/><line x1="440.0" y1="101.7" x2="450.4" y2="106.9" stroke="#cc2a2a" stroke-width="3.7"/><line x1="440.0" y1="101.7" x2="450.4" y2="106.9" stroke="#f08a8a" stroke-width="1.1"/><line x1="429.6" y1="112.7" x2="440.0" y2="108.1" stroke="#3645ad" stroke-width="3.7"/><line x1="429.6" y1="112.7" x2="440.0" y2="108.1" stroke="#8f98e6" stroke-width="1.1"/><line x1="440.0" y1="108.1" x2="450.4" y2="103.5" stroke="#cc2a2a" stroke-width="3.7"/><line x1="440.0" y1="108.1" x2="450.4" y2="103.5" stroke="#f08a8a" stroke-width="1.1"/><line x1="429.6" y1="112.7" x2="440.0" y2="109.8" stroke="#3645ad" stroke-width="3.7"/><line x1="429.6" y1="112.7" x2="440.0" y2="109.8" stroke="#8f98e6" stroke-width="1.1"/><line x1="440.0" y1="109.8" x2="450.4" y2="106.9" stroke="#cc2a2a" stroke-width="3.7"/><line x1="440.0" y1="109.8" x2="450.4" y2="106.9" stroke="#f08a8a" stroke-width="1.1"/><line x1="450.4" y1="103.5" x2="460.8" y2="100.6" stroke="#cc2a2a" stroke-width="3.7"/><line x1="450.4" y1="103.5" x2="460.8" y2="100.6" stroke="#f08a8a" stroke-width="1.1"/><line x1="460.8" y1="100.6" x2="471.2" y2="97.7" stroke="#3645ad" stroke-width="3.7"/><line x1="460.8" y1="100.6" x2="471.2" y2="97.7" stroke="#8f98e6" stroke-width="1.1"/><line x1="450.4" y1="106.9" x2="461.4" y2="109.2" stroke="#cc2a2a" stroke-width="3.7"/><line x1="450.4" y1="106.9" x2="461.4" y2="109.2" stroke="#f08a8a" stroke-width="1.1"/><line x1="461.4" y1="109.2" x2="472.3" y2="111.5" stroke="#3645ad" stroke-width="3.7"/><line x1="461.4" y1="109.2" x2="472.3" y2="111.5" stroke="#8f98e6" stroke-width="1.1"/><line x1="471.2" y1="97.7" x2="481.5" y2="98.8" stroke="#3645ad" stroke-width="3.7"/><line x1="471.2" y1="97.7" x2="481.5" y2="98.8" stroke="#8f98e6" stroke-width="1.1"/><line x1="481.5" y1="98.8" x2="491.9" y2="100.0" stroke="#cc2a2a" stroke-width="3.7"/><line x1="481.5" y1="98.8" x2="491.9" y2="100.0" stroke="#f08a8a" stroke-width="1.1"/><line x1="471.2" y1="97.7" x2="481.5" y2="103.5" stroke="#3645ad" stroke-width="3.7"/><line x1="471.2" y1="97.7" x2="481.5" y2="103.5" stroke="#8f98e6" stroke-width="1.1"/><line x1="481.5" y1="103.5" x2="491.9" y2="109.2" stroke="#cc2a2a" stroke-width="3.7"/><line x1="481.5" y1="103.5" x2="491.9" y2="109.2" stroke="#f08a8a" stroke-width="1.1"/><line x1="472.3" y1="111.5" x2="482.1" y2="105.8" stroke="#3645ad" stroke-width="3.7"/><line x1="472.3" y1="111.5" x2="482.1" y2="105.8" stroke="#8f98e6" stroke-width="1.1"/><line x1="482.1" y1="105.8" x2="491.9" y2="100.0" stroke="#cc2a2a" stroke-width="3.7"/><line x1="482.1" y1="105.8" x2="491.9" y2="100.0" stroke="#f08a8a" stroke-width="1.1"/><line x1="472.3" y1="111.5" x2="482.1" y2="110.3" stroke="#3645ad" stroke-width="3.7"/><line x1="472.3" y1="111.5" x2="482.1" y2="110.3" stroke="#8f98e6" stroke-width="1.1"/><line x1="482.1" y1="110.3" x2="491.9" y2="109.2" stroke="#cc2a2a" stroke-width="3.7"/><line x1="482.1" y1="110.3" x2="491.9" y2="109.2" stroke="#f08a8a" stroke-width="1.1"/><line x1="427.3" y1="104.6" x2="428.5" y2="100.5" stroke="#cc2a2a" stroke-width="3.7"/><line x1="427.3" y1="104.6" x2="428.5" y2="100.5" stroke="#f08a8a" stroke-width="1.1"/><line x1="428.5" y1="100.5" x2="429.6" y2="96.5" stroke="#3645ad" stroke-width="3.7"/><line x1="428.5" y1="100.5" x2="429.6" y2="96.5" stroke="#8f98e6" stroke-width="1.1"/><line x1="427.3" y1="104.6" x2="428.5" y2="108.7" stroke="#cc2a2a" stroke-width="3.7"/><line x1="427.3" y1="104.6" x2="428.5" y2="108.7" stroke="#f08a8a" stroke-width="1.1"/><line x1="428.5" y1="108.7" x2="429.6" y2="112.7" stroke="#3645ad" stroke-width="3.7"/><line x1="428.5" y1="108.7" x2="429.6" y2="112.7" stroke="#8f98e6" stroke-width="1.1"/><line x1="429.6" y1="112.7" x2="431.3" y2="124.8" stroke="#3645ad" stroke-width="3.7"/><line x1="429.6" y1="112.7" x2="431.3" y2="124.8" stroke="#8f98e6" stroke-width="1.1"/><line x1="431.3" y1="124.8" x2="433.0" y2="136.9" stroke="#cc2a2a" stroke-width="3.7"/><line x1="431.3" y1="124.8" x2="433.0" y2="136.9" stroke="#f08a8a" stroke-width="1.1"/><line x1="472.3" y1="111.5" x2="475.1" y2="123.7" stroke="#3645ad" stroke-width="3.7"/><line x1="472.3" y1="111.5" x2="475.1" y2="123.7" stroke="#8f98e6" stroke-width="1.1"/><line x1="475.1" y1="123.7" x2="478.0" y2="135.8" stroke="#cc2a2a" stroke-width="3.7"/><line x1="475.1" y1="123.7" x2="478.0" y2="135.8" stroke="#f08a8a" stroke-width="1.1"/><line x1="433.0" y1="136.9" x2="430.1" y2="149.1" stroke="#cc2a2a" stroke-width="3.7"/><line x1="433.0" y1="136.9" x2="430.1" y2="149.1" stroke="#f08a8a" stroke-width="1.1"/><line x1="430.1" y1="149.1" x2="427.3" y2="161.2" stroke="#3645ad" stroke-width="3.7"/><line x1="430.1" y1="149.1" x2="427.3" y2="161.2" stroke="#8f98e6" stroke-width="1.1"/><line x1="433.0" y1="136.9" x2="433.6" y2="149.1" stroke="#cc2a2a" stroke-width="3.7"/><line x1="433.0" y1="136.9" x2="433.6" y2="149.1" stroke="#f08a8a" stroke-width="1.1"/><line x1="433.6" y1="149.1" x2="434.2" y2="161.2" stroke="#3645ad" stroke-width="3.7"/><line x1="433.6" y1="149.1" x2="434.2" y2="161.2" stroke="#8f98e6" stroke-width="1.1"/><line x1="478.0" y1="135.8" x2="477.5" y2="147.9" stroke="#cc2a2a" stroke-width="3.7"/><line x1="478.0" y1="135.8" x2="477.5" y2="147.9" stroke="#f08a8a" stroke-width="1.1"/><line x1="477.5" y1="147.9" x2="477.0" y2="160.0" stroke="#3645ad" stroke-width="3.7"/><line x1="477.5" y1="147.9" x2="477.0" y2="160.0" stroke="#8f98e6" stroke-width="1.1"/><line x1="478.0" y1="135.8" x2="474.0" y2="148.5" stroke="#cc2a2a" stroke-width="3.7"/><line x1="478.0" y1="135.8" x2="474.0" y2="148.5" stroke="#f08a8a" stroke-width="1.1"/><line x1="474.0" y1="148.5" x2="470.0" y2="161.2" stroke="#3645ad" stroke-width="3.7"/><line x1="474.0" y1="148.5" x2="470.0" y2="161.2" stroke="#8f98e6" stroke-width="1.1"/><line x1="453.8" y1="142.7" x2="444.0" y2="151.9" stroke="#cc2a2a" stroke-width="3.7"/><line x1="453.8" y1="142.7" x2="444.0" y2="151.9" stroke="#f08a8a" stroke-width="1.1"/><line x1="444.0" y1="151.9" x2="434.2" y2="161.2" stroke="#3645ad" stroke-width="3.7"/><line x1="444.0" y1="151.9" x2="434.2" y2="161.2" stroke="#8f98e6" stroke-width="1.1"/><line x1="453.8" y1="142.7" x2="461.9" y2="151.9" stroke="#cc2a2a" stroke-width="3.7"/><line x1="453.8" y1="142.7" x2="461.9" y2="151.9" stroke="#f08a8a" stroke-width="1.1"/><line x1="461.9" y1="151.9" x2="470.0" y2="161.2" stroke="#3645ad" stroke-width="3.7"/><line x1="461.9" y1="151.9" x2="470.0" y2="161.2" stroke="#8f98e6" stroke-width="1.1"/><line x1="434.2" y1="161.2" x2="452.1" y2="161.2" stroke="#3645ad" stroke-width="3.7"/><line x1="434.2" y1="161.2" x2="452.1" y2="161.2" stroke="#8f98e6" stroke-width="1.1"/><line x1="452.1" y1="161.2" x2="470.0" y2="161.2" stroke="#3645ad" stroke-width="3.7"/><line x1="452.1" y1="161.2" x2="470.0" y2="161.2" stroke="#8f98e6" stroke-width="1.1"/><line x1="427.3" y1="161.2" x2="435.4" y2="165.2" stroke="#3645ad" stroke-width="3.7"/><line x1="427.3" y1="161.2" x2="435.4" y2="165.2" stroke="#8f98e6" stroke-width="1.1"/><line x1="435.4" y1="165.2" x2="443.5" y2="169.2" stroke="#7a5a3c" stroke-width="3.7"/><line x1="435.4" y1="165.2" x2="443.5" y2="169.2" stroke="#c0a080" stroke-width="1.1"/><line x1="434.2" y1="161.2" x2="438.9" y2="165.2" stroke="#3645ad" stroke-width="3.7"/><line x1="434.2" y1="161.2" x2="438.9" y2="165.2" stroke="#8f98e6" stroke-width="1.1"/><line x1="438.9" y1="165.2" x2="443.5" y2="169.2" stroke="#7a5a3c" stroke-width="3.7"/><line x1="438.9" y1="165.2" x2="443.5" y2="169.2" stroke="#c0a080" stroke-width="1.1"/><line x1="470.0" y1="161.2" x2="458.5" y2="164.6" stroke="#3645ad" stroke-width="3.7"/><line x1="470.0" y1="161.2" x2="458.5" y2="164.6" stroke="#8f98e6" stroke-width="1.1"/><line x1="458.5" y1="164.6" x2="447.0" y2="168.0" stroke="#7a5a3c" stroke-width="3.7"/><line x1="458.5" y1="164.6" x2="447.0" y2="168.0" stroke="#c0a080" stroke-width="1.1"/><line x1="477.0" y1="160.0" x2="481.5" y2="164.6" stroke="#3645ad" stroke-width="3.7"/><line x1="477.0" y1="160.0" x2="481.5" y2="164.6" stroke="#8f98e6" stroke-width="1.1"/><line x1="481.5" y1="164.6" x2="486.0" y2="169.2" stroke="#7a5a3c" stroke-width="3.7"/><line x1="481.5" y1="164.6" x2="486.0" y2="169.2" stroke="#c0a080" stroke-width="1.1"/><line x1="470.0" y1="161.2" x2="479.2" y2="165.2" stroke="#3645ad" stroke-width="3.7"/><line x1="470.0" y1="161.2" x2="479.2" y2="165.2" stroke="#8f98e6" stroke-width="1.1"/><line x1="479.2" y1="165.2" x2="488.5" y2="169.2" stroke="#7a5a3c" stroke-width="3.7"/><line x1="479.2" y1="165.2" x2="488.5" y2="169.2" stroke="#c0a080" stroke-width="1.1"/><line x1="443.5" y1="169.2" x2="443.2" y2="185.0" stroke="#7a5a3c" stroke-width="3.7"/><line x1="443.5" y1="169.2" x2="443.2" y2="185.0" stroke="#c0a080" stroke-width="1.1"/><line x1="443.2" y1="185.0" x2="443.0" y2="200.8" stroke="#3645ad" stroke-width="3.7"/><line x1="443.2" y1="185.0" x2="443.0" y2="200.8" stroke="#8f98e6" stroke-width="1.1"/><line x1="447.0" y1="168.0" x2="445.0" y2="184.4" stroke="#7a5a3c" stroke-width="3.7"/><line x1="447.0" y1="168.0" x2="445.0" y2="184.4" stroke="#c0a080" stroke-width="1.1"/><line x1="445.0" y1="184.4" x2="443.0" y2="200.8" stroke="#3645ad" stroke-width="3.7"/><line x1="445.0" y1="184.4" x2="443.0" y2="200.8" stroke="#8f98e6" stroke-width="1.1"/><line x1="486.0" y1="169.2" x2="485.5" y2="184.4" stroke="#7a5a3c" stroke-width="3.7"/><line x1="486.0" y1="169.2" x2="485.5" y2="184.4" stroke="#c0a080" stroke-width="1.1"/><line x1="485.5" y1="184.4" x2="485.0" y2="199.6" stroke="#3645ad" stroke-width="3.7"/><line x1="485.5" y1="184.4" x2="485.0" y2="199.6" stroke="#8f98e6" stroke-width="1.1"/><line x1="488.5" y1="169.2" x2="486.8" y2="184.4" stroke="#7a5a3c" stroke-width="3.7"/><line x1="488.5" y1="169.2" x2="486.8" y2="184.4" stroke="#c0a080" stroke-width="1.1"/><line x1="486.8" y1="184.4" x2="485.0" y2="199.6" stroke="#3645ad" stroke-width="3.7"/><line x1="486.8" y1="184.4" x2="485.0" y2="199.6" stroke="#8f98e6" stroke-width="1.1"/><line x1="443.0" y1="200.8" x2="435.8" y2="205.2" stroke="#3645ad" stroke-width="3.7"/><line x1="443.0" y1="200.8" x2="435.8" y2="205.2" stroke="#8f98e6" stroke-width="1.1"/><line x1="435.8" y1="205.2" x2="428.5" y2="209.5" stroke="#7a5a3c" stroke-width="3.7"/><line x1="435.8" y1="205.2" x2="428.5" y2="209.5" stroke="#c0a080" stroke-width="1.1"/><line x1="443.0" y1="200.8" x2="457.1" y2="205.2" stroke="#3645ad" stroke-width="3.7"/><line x1="443.0" y1="200.8" x2="457.1" y2="205.2" stroke="#8f98e6" stroke-width="1.1"/><line x1="457.1" y1="205.2" x2="471.2" y2="209.5" stroke="#7a5a3c" stroke-width="3.7"/><line x1="457.1" y1="205.2" x2="471.2" y2="209.5" stroke="#c0a080" stroke-width="1.1"/><line x1="485.0" y1="199.6" x2="478.1" y2="204.6" stroke="#3645ad" stroke-width="3.7"/><line x1="485.0" y1="199.6" x2="478.1" y2="204.6" stroke="#8f98e6" stroke-width="1.1"/><line x1="478.1" y1="204.6" x2="471.2" y2="209.5" stroke="#7a5a3c" stroke-width="3.7"/><line x1="478.1" y1="204.6" x2="471.2" y2="209.5" stroke="#c0a080" stroke-width="1.1"/><line x1="428.5" y1="209.5" x2="427.9" y2="224.2" stroke="#7a5a3c" stroke-width="3.7"/><line x1="428.5" y1="209.5" x2="427.9" y2="224.2" stroke="#c0a080" stroke-width="1.1"/><line x1="427.9" y1="224.2" x2="427.3" y2="238.8" stroke="#3645ad" stroke-width="3.7"/><line x1="427.9" y1="224.2" x2="427.3" y2="238.8" stroke="#8f98e6" stroke-width="1.1"/><line x1="471.2" y1="209.5" x2="470.6" y2="224.2" stroke="#7a5a3c" stroke-width="3.7"/><line x1="471.2" y1="209.5" x2="470.6" y2="224.2" stroke="#c0a080" stroke-width="1.1"/><line x1="470.6" y1="224.2" x2="470.0" y2="238.8" stroke="#3645ad" stroke-width="3.7"/><line x1="470.6" y1="224.2" x2="470.0" y2="238.8" stroke="#8f98e6" stroke-width="1.1"/><line x1="427.3" y1="238.8" x2="420.4" y2="243.4" stroke="#3645ad" stroke-width="3.7"/><line x1="427.3" y1="238.8" x2="420.4" y2="243.4" stroke="#8f98e6" stroke-width="1.1"/><line x1="420.4" y1="243.4" x2="413.5" y2="248.0" stroke="#7a5a3c" stroke-width="3.7"/><line x1="420.4" y1="243.4" x2="413.5" y2="248.0" stroke="#c0a080" stroke-width="1.1"/><line x1="427.3" y1="238.8" x2="441.8" y2="243.4" stroke="#3645ad" stroke-width="3.7"/><line x1="427.3" y1="238.8" x2="441.8" y2="243.4" stroke="#8f98e6" stroke-width="1.1"/><line x1="441.8" y1="243.4" x2="456.2" y2="248.0" stroke="#7a5a3c" stroke-width="3.7"/><line x1="441.8" y1="243.4" x2="456.2" y2="248.0" stroke="#c0a080" stroke-width="1.1"/><line x1="470.0" y1="238.8" x2="463.1" y2="243.4" stroke="#3645ad" stroke-width="3.7"/><line x1="470.0" y1="238.8" x2="463.1" y2="243.4" stroke="#8f98e6" stroke-width="1.1"/><line x1="463.1" y1="243.4" x2="456.2" y2="248.0" stroke="#7a5a3c" stroke-width="3.7"/><line x1="463.1" y1="243.4" x2="456.2" y2="248.0" stroke="#c0a080" stroke-width="1.1"/><line x1="413.5" y1="248.0" x2="412.9" y2="262.5" stroke="#7a5a3c" stroke-width="3.7"/><line x1="413.5" y1="248.0" x2="412.9" y2="262.5" stroke="#c0a080" stroke-width="1.1"/><line x1="412.9" y1="262.5" x2="412.3" y2="277.0" stroke="#3645ad" stroke-width="3.7"/><line x1="412.9" y1="262.5" x2="412.3" y2="277.0" stroke="#8f98e6" stroke-width="1.1"/><line x1="456.2" y1="248.0" x2="455.6" y2="263.0" stroke="#7a5a3c" stroke-width="3.7"/><line x1="456.2" y1="248.0" x2="455.6" y2="263.0" stroke="#c0a080" stroke-width="1.1"/><line x1="455.6" y1="263.0" x2="455.0" y2="278.0" stroke="#3645ad" stroke-width="3.7"/><line x1="455.6" y1="263.0" x2="455.0" y2="278.0" stroke="#8f98e6" stroke-width="1.1"/><line x1="412.3" y1="277.0" x2="419.8" y2="282.1" stroke="#3645ad" stroke-width="3.7"/><line x1="412.3" y1="277.0" x2="419.8" y2="282.1" stroke="#8f98e6" stroke-width="1.1"/><line x1="419.8" y1="282.1" x2="427.3" y2="287.3" stroke="#7a5a3c" stroke-width="3.7"/><line x1="419.8" y1="282.1" x2="427.3" y2="287.3" stroke="#c0a080" stroke-width="1.1"/><line x1="455.0" y1="278.0" x2="441.1" y2="282.6" stroke="#3645ad" stroke-width="3.7"/><line x1="455.0" y1="278.0" x2="441.1" y2="282.6" stroke="#8f98e6" stroke-width="1.1"/><line x1="441.1" y1="282.6" x2="427.3" y2="287.3" stroke="#7a5a3c" stroke-width="3.7"/><line x1="441.1" y1="282.6" x2="427.3" y2="287.3" stroke="#c0a080" stroke-width="1.1"/><line x1="455.0" y1="278.0" x2="461.9" y2="282.6" stroke="#3645ad" stroke-width="3.7"/><line x1="455.0" y1="278.0" x2="461.9" y2="282.6" stroke="#8f98e6" stroke-width="1.1"/><line x1="461.9" y1="282.6" x2="468.8" y2="287.3" stroke="#7a5a3c" stroke-width="3.7"/><line x1="461.9" y1="282.6" x2="468.8" y2="287.3" stroke="#c0a080" stroke-width="1.1"/><line x1="427.3" y1="287.3" x2="426.8" y2="301.8" stroke="#7a5a3c" stroke-width="3.7"/><line x1="427.3" y1="287.3" x2="426.8" y2="301.8" stroke="#c0a080" stroke-width="1.1"/><line x1="426.8" y1="301.8" x2="426.2" y2="316.2" stroke="#3645ad" stroke-width="3.7"/><line x1="426.8" y1="301.8" x2="426.2" y2="316.2" stroke="#8f98e6" stroke-width="1.1"/><line x1="468.8" y1="287.3" x2="468.8" y2="302.3" stroke="#7a5a3c" stroke-width="3.7"/><line x1="468.8" y1="287.3" x2="468.8" y2="302.3" stroke="#c0a080" stroke-width="1.1"/><line x1="468.8" y1="302.3" x2="468.8" y2="317.3" stroke="#3645ad" stroke-width="3.7"/><line x1="468.8" y1="302.3" x2="468.8" y2="317.3" stroke="#8f98e6" stroke-width="1.1"/><line x1="426.2" y1="316.2" x2="433.1" y2="321.4" stroke="#3645ad" stroke-width="3.7"/><line x1="426.2" y1="316.2" x2="433.1" y2="321.4" stroke="#8f98e6" stroke-width="1.1"/><line x1="433.1" y1="321.4" x2="440.0" y2="326.5" stroke="#7a5a3c" stroke-width="3.7"/><line x1="433.1" y1="321.4" x2="440.0" y2="326.5" stroke="#c0a080" stroke-width="1.1"/><line x1="468.8" y1="317.3" x2="454.4" y2="321.9" stroke="#3645ad" stroke-width="3.7"/><line x1="468.8" y1="317.3" x2="454.4" y2="321.9" stroke="#8f98e6" stroke-width="1.1"/><line x1="454.4" y1="321.9" x2="440.0" y2="326.5" stroke="#7a5a3c" stroke-width="3.7"/><line x1="454.4" y1="321.9" x2="440.0" y2="326.5" stroke="#c0a080" stroke-width="1.1"/><line x1="468.8" y1="317.3" x2="475.8" y2="321.9" stroke="#3645ad" stroke-width="3.7"/><line x1="468.8" y1="317.3" x2="475.8" y2="321.9" stroke="#8f98e6" stroke-width="1.1"/><line x1="475.8" y1="321.9" x2="482.7" y2="326.5" stroke="#7a5a3c" stroke-width="3.7"/><line x1="475.8" y1="321.9" x2="482.7" y2="326.5" stroke="#c0a080" stroke-width="1.1"/><line x1="440.0" y1="326.5" x2="439.4" y2="340.9" stroke="#7a5a3c" stroke-width="3.7"/><line x1="440.0" y1="326.5" x2="439.4" y2="340.9" stroke="#c0a080" stroke-width="1.1"/><line x1="439.4" y1="340.9" x2="438.8" y2="355.4" stroke="#3645ad" stroke-width="3.7"/><line x1="439.4" y1="340.9" x2="438.8" y2="355.4" stroke="#8f98e6" stroke-width="1.1"/><line x1="482.7" y1="326.5" x2="482.1" y2="341.5" stroke="#7a5a3c" stroke-width="3.7"/><line x1="482.7" y1="326.5" x2="482.1" y2="341.5" stroke="#c0a080" stroke-width="1.1"/><line x1="482.1" y1="341.5" x2="481.5" y2="356.5" stroke="#3645ad" stroke-width="3.7"/><line x1="482.1" y1="341.5" x2="481.5" y2="356.5" stroke="#8f98e6" stroke-width="1.1"/><line x1="438.8" y1="355.4" x2="431.9" y2="360.0" stroke="#3645ad" stroke-width="3.7"/><line x1="438.8" y1="355.4" x2="431.9" y2="360.0" stroke="#8f98e6" stroke-width="1.1"/><line x1="431.9" y1="360.0" x2="425.0" y2="364.6" stroke="#7a5a3c" stroke-width="3.7"/><line x1="431.9" y1="360.0" x2="425.0" y2="364.6" stroke="#c0a080" stroke-width="1.1"/><line x1="438.8" y1="355.4" x2="453.2" y2="360.6" stroke="#3645ad" stroke-width="3.7"/><line x1="438.8" y1="355.4" x2="453.2" y2="360.6" stroke="#8f98e6" stroke-width="1.1"/><line x1="453.2" y1="360.6" x2="467.7" y2="365.8" stroke="#7a5a3c" stroke-width="3.7"/><line x1="453.2" y1="360.6" x2="467.7" y2="365.8" stroke="#c0a080" stroke-width="1.1"/><line x1="481.5" y1="356.5" x2="474.6" y2="361.1" stroke="#3645ad" stroke-width="3.7"/><line x1="481.5" y1="356.5" x2="474.6" y2="361.1" stroke="#8f98e6" stroke-width="1.1"/><line x1="474.6" y1="361.1" x2="467.7" y2="365.8" stroke="#7a5a3c" stroke-width="3.7"/><line x1="474.6" y1="361.1" x2="467.7" y2="365.8" stroke="#c0a080" stroke-width="1.1"/><line x1="425.0" y1="364.6" x2="425.0" y2="374.8" stroke="#7a5a3c" stroke-width="3.7"/><line x1="425.0" y1="364.6" x2="425.0" y2="374.8" stroke="#c0a080" stroke-width="1.1"/><line x1="425.0" y1="374.8" x2="425.0" y2="385.0" stroke="#3645ad" stroke-width="3.7"/><line x1="425.0" y1="374.8" x2="425.0" y2="385.0" stroke="#8f98e6" stroke-width="1.1"/><line x1="467.7" y1="365.8" x2="467.7" y2="375.4" stroke="#7a5a3c" stroke-width="3.7"/><line x1="467.7" y1="365.8" x2="467.7" y2="375.4" stroke="#c0a080" stroke-width="1.1"/><line x1="467.7" y1="375.4" x2="467.7" y2="385.0" stroke="#3645ad" stroke-width="3.7"/><line x1="467.7" y1="375.4" x2="467.7" y2="385.0" stroke="#8f98e6" stroke-width="1.1"/>
<circle cx="434.2" cy="71.2" r="4.6" fill="url(#gO)"/><circle cx="474.6" cy="73.5" r="4.6" fill="url(#gO)"/><circle cx="429.6" cy="96.5" r="7.7" fill="url(#gB)"/><circle cx="471.2" cy="97.7" r="7.7" fill="url(#gB)"/><circle cx="427.3" cy="104.6" r="4.6" fill="url(#gO)"/><circle cx="450.4" cy="103.5" r="4.6" fill="url(#gO)"/><circle cx="450.4" cy="106.9" r="4.6" fill="url(#gO)"/><circle cx="491.9" cy="100.0" r="4.6" fill="url(#gO)"/><circle cx="491.9" cy="109.2" r="4.6" fill="url(#gO)"/><circle cx="429.6" cy="112.7" r="7.7" fill="url(#gB)"/><circle cx="472.3" cy="111.5" r="7.7" fill="url(#gB)"/><circle cx="433.0" cy="136.9" r="4.6" fill="url(#gO)"/><circle cx="478.0" cy="135.8" r="4.6" fill="url(#gO)"/><circle cx="453.8" cy="142.7" r="4.6" fill="url(#gO)"/><circle cx="427.3" cy="161.2" r="7.7" fill="url(#gB)"/><circle cx="434.2" cy="161.2" r="7.7" fill="url(#gB)"/><circle cx="470.0" cy="161.2" r="7.7" fill="url(#gB)"/><circle cx="477.0" cy="160.0" r="7.7" fill="url(#gB)"/><circle cx="443.5" cy="169.2" r="4.8" fill="url(#gN)"/><circle cx="447.0" cy="168.0" r="4.8" fill="url(#gN)"/><circle cx="486.0" cy="169.2" r="4.8" fill="url(#gN)"/><circle cx="488.5" cy="169.2" r="4.8" fill="url(#gN)"/><circle cx="443.0" cy="200.8" r="7.7" fill="url(#gB)"/><circle cx="485.0" cy="199.6" r="7.7" fill="url(#gB)"/><circle cx="428.5" cy="209.5" r="4.8" fill="url(#gN)"/><circle cx="471.2" cy="209.5" r="4.8" fill="url(#gN)"/><circle cx="427.3" cy="238.8" r="7.7" fill="url(#gB)"/><circle cx="470.0" cy="238.8" r="7.7" fill="url(#gB)"/><circle cx="413.5" cy="248.0" r="4.8" fill="url(#gN)"/><circle cx="456.2" cy="248.0" r="4.8" fill="url(#gN)"/><circle cx="412.3" cy="277.0" r="7.7" fill="url(#gB)"/><circle cx="455.0" cy="278.0" r="7.7" fill="url(#gB)"/><circle cx="427.3" cy="287.3" r="4.8" fill="url(#gN)"/><circle cx="468.8" cy="287.3" r="4.8" fill="url(#gN)"/><circle cx="426.2" cy="316.2" r="7.7" fill="url(#gB)"/><circle cx="468.8" cy="317.3" r="7.7" fill="url(#gB)"/><circle cx="440.0" cy="326.5" r="4.8" fill="url(#gN)"/><circle cx="482.7" cy="326.5" r="4.8" fill="url(#gN)"/><circle cx="438.8" cy="355.4" r="7.7" fill="url(#gB)"/><circle cx="481.5" cy="356.5" r="7.7" fill="url(#gB)"/><circle cx="425.0" cy="364.6" r="4.8" fill="url(#gN)"/><circle cx="467.7" cy="365.8" r="4.8" fill="url(#gN)"/>
</g>
<line x1="278" y1="186.9" x2="497" y2="186.9" stroke="#111" stroke-width="2.9" stroke-dasharray="8.2 6.3" stroke-dashoffset="3.2"/>
<text x="510" y="173.5" style="font-family:'Liberation Serif',serif;stroke:#111;stroke-width:0.3px;font-size:36px" fill="#111">1</text>
<text x="510" y="212.5" style="font-family:'Liberation Serif',serif;stroke:#111;stroke-width:0.3px;font-size:36px" fill="#111">2</text>
<text x="510" y="252" style="font-family:'Liberation Serif',serif;stroke:#111;stroke-width:0.3px;font-size:36px" fill="#111">3</text>
<text x="510" y="291.5" style="font-family:'Liberation Serif',serif;stroke:#111;stroke-width:0.3px;font-size:36px" fill="#111">4</text>
<text x="510" y="330.5" style="font-family:'Liberation Serif',serif;stroke:#111;stroke-width:0.3px;font-size:36px" fill="#111">5</text>
<text x="510" y="370" style="font-family:'Liberation Serif',serif;stroke:#111;stroke-width:0.3px;font-size:36px" fill="#111">6</text>
<svg x="74.0" y="484.5" width="329.0" height="315.5" viewBox="74.0 484.5 329.0 315.5" overflow="hidden">
<rect x="74.0" y="484.5" width="329.0" height="315.5" fill="#2e3388"/>
<path d="M373 481.5L406 481.5 406 802.5 279.7 802.5 279.1 789.5 279 698.5 278 690.5 277.9 668.5 278.3 662.5 279 658.5 279.4 649.5 280 647.6 280.3 643.5 280 640.8 279 640.8 278.8 639.5 279.3 638.5 278.4 636.5 277.8 633.5 277.2 624.5 278.4 613.5 280 609.5 280 608.5 281 607.6 280.9 606.5 281.7 605.5 284.1 586.5 285.5 583.5 285 583.1 284 583.9 283.5 583.5 286.4 580.5 287.6 578.5 287.7 571.5 288.8 568.5 296 560.8 298 560.2 303 560 309 557.7 312 557.7 317 559 321 557.5 324 557.1 327 557.8 330 559.5 332 559.9 337 559.3 341 558.2 342 558.4 345 556.6 348 553.7 351.5 551.5 354 546.4 356 544.3 359 543.7 361 546.2 362 546.5 366.3 545.5 365 545.1 365 543.9 370 544.1 371.9 543.5 372.9 542.5 373.8 538.5 373.8 523.5 368.3 518.5 367.2 515.5 367.1 512.5 367.3 502.5 368.3 498.5 368.6 494.5 368.5 492.5 367.4 491.5 368.6 488.5 371.6 484.5 372 481.5ZM285.6 582.5L286 582.9 286.4 582.5 286 582ZM72 541.7L79 541.7 86 542.6 98 542.6 105 544.5 118 544.9 120 546 124 549.4 131 551.6 132.2 552.5 133.3 554.5 133.7 561.5 132.8 565.5 130 567.7 123.7 569.5 122.3 570.5 122.1 571.5 124 572.8 132 574.3 133.8 575.5 135 577.5 135.7 580.5 136.6 591.5 136.4 603.5 135.9 605.5 134.5 607.5 128 610.3 122.3 615.5 121.5 617.5 122.3 618.5 124 619.2 132 620.7 134 621.9 135.2 623.5 136.5 629.5 136.6 643.5 136 645.5 134.6 647.5 127.7 650.5 122.6 654.5 121.4 656.5 121.8 657.5 123.4 658.5 131 659.8 133 660.6 135 662.6 136.2 666.5 136.8 682.5 135.8 691.5 134.8 693.5 133 695 130 696 125.8 696.5 124.6 697.5 133 699 135 700.5 136.2 702.5 136.7 705.5 136.8 714.5 135.6 728.5 134.6 731.5 133 733.3 131 734.3 124.6 735.5 123.4 736.5 126 737.5 132 738.2 134 739 135.5 740.5 136.7 744.5 136.7 756.5 136.1 761.5 134.8 764.5 133 766 127.8 768.5 122 773.5 121.3 775.5 121.8 776.5 123.1 777.5 132 779.4 134.5 781.5 135.6 784.5 136.1 790.5 135.6 802.5 71 802.5 71 541.7ZM283 584.5L283.6 585.5 283 585.7 282.6 585.5Z" fill="#2e3488" fill-rule="evenodd" stroke="#2a2a2a" stroke-width="0.7"/>
<path d="M376 481.5L406 481.5 406 802.5 281.4 802.5 280.5 769.5 281.3 756.5 280.5 737.5 281.4 721.5 280.4 707.5 280.8 697.5 279.8 689.5 280.7 665.5 282.3 658.5 282.2 650.5 282.7 643.5 282.4 640.5 279.9 632.5 279.1 625.5 280 619.6 282.8 610.5 284 607.6 286.8 603.5 287.5 601.5 288 597.5 287.3 591.5 288 587.5 290 584.6 294.8 581.5 295.3 580.5 295 578.5 292.8 573.5 292.9 569.5 294 567.1 296 565.5 299 564.9 304 565 308 561.4 310 560.8 311.7 561.5 312.3 562.5 311.7 569.5 312 571.5 314 573.7 317 573.9 319 572.5 319.3 571.5 318.8 565.5 319.3 562.5 321 560.4 324 559.8 326 560.4 327.4 561.5 328.3 563.5 329 568.2 329.7 569.5 335 575 336 575.5 337 575.3 339.5 573.5 341.1 571.5 342.6 564.5 343.7 562.5 349 558.2 352 557.5 356 557.7 358 558.4 363 561.6 364 561.3 365 560.1 367.8 552.5 370 550.3 374 549.4 378 551.2 380 551.6 383 550.8 384.7 549.5 385.9 546.5 385.6 543.5 382.1 540.5 381 538.7 378.6 528.5 377.9 522.5 375 516.5 376 506.5 373 494.5 373.2 492.5 375 487.5 375.4 481.5ZM388.7 536.5L387 538.5 386.6 541.5 387.3 543.5 390 545.3 391 544.9 391.8 543.5 392.3 539.5 391 536.7 390 536.2ZM72 544.3L78 544.3 85 545.9 97 546.1 104 548.6 117 549.4 125 553.5 126.3 554.5 127.4 556.5 127.6 561.5 127 563.5 124.6 565.5 117.2 569.5 116.1 571.5 116.8 572.5 118.3 573.5 123 575.3 130 577.1 132 578.8 133.2 582.5 134.5 591.5 134.6 596.5 134.2 602.5 133.5 604.5 132.5 605.5 125.9 607.5 118.9 612.5 116 615.5 115.3 617.5 116 618.5 117.7 619.5 129.9 622.5 132.8 624.5 133.7 626.5 134.4 630.5 134.7 642.5 134.1 644.5 133 645.8 123.3 649.5 119.5 651.5 116.3 654.5 115.4 656.5 115.8 657.5 117.1 658.5 119.4 659.5 131 662.4 132.4 663.5 133.6 665.5 134.5 670.5 134.8 680.5 134.5 686.5 133.5 690.5 133 691.5 131 693 121 695 117.6 696.5 117.3 697.5 118.7 698.5 121.6 699.5 130 700.5 133 701.8 134.2 703.5 134.7 705.5 134.7 715.5 133.3 725.5 131.9 729.5 129.1 731.5 119 734.5 117.4 735.5 116.8 736.5 117.7 737.5 120.1 738.5 131 740.2 133.3 741.5 134.7 744.5 134.7 754.5 134.2 759.5 133 762.5 131 764 125.3 766.5 119.9 769.5 116.6 772.5 115.3 774.5 115.2 775.5 115.8 776.5 117.3 777.5 124 780.5 130 782.2 132 783.8 133.1 786.5 133.8 791.5 133.6 795.5 132.4 802.5 71 802.5 71 544.3Z" fill="#4760a8" fill-rule="evenodd" stroke="#2a2a2a" stroke-width="0.7"/>
<path d="M379 481.5L392.5 481.5 393 482.8 394 483 394.8 481.5 403.8 481.5 404.6 491.5 405 492.9 406 494 406 503.6 403 503.8 401.8 504.5 400.1 506.5 399.8 508.5 400.5 512.5 400.3 515.5 399 518.2 397 519.7 395 520.1 394.1 518.5 394.6 514.5 396.4 509.5 396.2 506.5 394 501.8 393 500.7 392 500.5 390 502.9 388.2 507.5 387.2 514.5 387.2 517.5 388 519.9 391.7 522.5 391.9 523.5 391.2 525.5 390.3 526.5 386 528.3 385 527.7 383.7 523.5 380.6 518.5 379.5 515.5 380.5 501.5 380.2 499.5 378.3 495.5 377.8 492.5 378.6 481.5ZM404 546.4L406 546.1 406 802.5 282.6 802.5 282.7 791.5 281.9 773.5 282.8 756.5 281.7 737.5 282.9 720.5 281.8 706.5 282.4 696.5 282 690.5 282.7 683.5 282.5 672.5 285.1 659.5 284.5 651.5 285.3 643.5 284.9 640.5 282.6 634.5 281.3 627.5 282 624.8 285 623.6 286 622 286.4 619.5 285.9 614.5 286.2 612.5 290.8 605.5 292.3 602.5 292.9 598.5 292.4 592.5 293 590.5 294 589.6 297 589 299 587.9 302 582.4 308 576 309 575.8 313 577.3 316 577.4 329 574.7 331 575.6 332.7 578.5 333.3 595.5 334.5 598.5 336.3 599.5 337 599.2 338 597.4 338.3 591.5 339.8 585.5 340.6 579.5 341.8 577.5 347.3 572.5 348.2 569.5 348.2 564.5 349 562.4 351 561.3 357 561.8 359 563.4 362.3 568.5 364 569.5 365 569.4 366 568.7 366.7 567.5 368 560.5 370 557.2 372 556.7 375 558.5 377 558.7 379 557.8 382 555.1 385 553.4 387 552.7 391 552.6 395 550.2 399 549.4ZM360.6 586.5L359 587.5 358.1 589.5 358.1 593.5 358.8 596.5 360 598 362 598.9 364 598.7 367.2 597.5 369 595.6 369.4 593.5 369.1 590.5 368 587.5 367 586.4 365 585.7ZM72 546.5L78 546.7 85 548.6 97 549.2 104 551.1 113 551.4 116 552.2 118.6 553.5 119.7 554.5 120.8 556.5 120.7 562.5 119.3 564.5 114 567.8 110 569 98 569.2 86 570 83.6 570.5 82.9 571.5 83.6 572.5 85 572.9 98 573.1 104 574 111 574.3 121 576.8 127 579 129.3 580.5 130.9 583.5 132.2 588.5 133.1 595.5 132.8 599.5 132 602.5 130 603.9 124 605 113.7 611.5 110.2 614.5 108.8 616.5 108.7 617.5 109.1 618.5 110.5 619.5 113 620.4 126 623.1 129.8 624.5 131 625.5 132 627.3 133 632.3 133.2 641.5 132 644.4 130 645.5 119.6 648.5 114.4 650.5 110.6 653.5 108.6 656.5 108.9 657.5 110.4 658.5 127 662.8 130 664.1 131.9 666.5 132.9 670.5 133.2 683.5 132.5 687.5 131 690.3 128.9 691.5 111.8 695.5 110.1 696.5 109.9 697.5 111.3 698.5 114.6 699.5 130 702.1 132 703.2 133.1 705.5 133 716.5 131.2 723.5 129.9 726.5 128 728.5 126.2 729.5 112.7 734.5 110.6 735.5 109.8 736.5 110.5 737.5 112.9 738.5 130 741.6 132 742.6 133 744.5 133.1 755.5 132.2 759.5 131 761.4 129 762.6 114.7 768.5 110 772.5 108.5 775.5 109 776.8 111 778.2 120 780.6 128 784.6 130 786.2 131.4 789.5 131.6 794.5 130.7 797.5 127.8 802.5 71 802.5 71 546.5ZM323 562.4L324 562.5 325 563.5 325.2 564.5 324.8 566.5 324 567.6 323 567.9 322 567.3 321.4 565.5 321.7 563.5Z" fill="#84bccc" fill-rule="evenodd" stroke="#2a2a2a" stroke-width="0.7"/>
<path d="M383 487.9L384 487.6 385 488 386.5 490.5 386.5 493.5 386 495 385 496.1 383 495.6 381.6 493.5 381.4 490.5 382 488.9ZM396 490.3L397 489.6 398 489.7 399 490.9 399.6 493.5 399 495.3 397.1 494.5 396 493.3 395.6 491.5ZM72 548.8L78 549.5 84 550.9 93 551.3 103 553.6 112 554.1 114 555.3 114.7 556.5 114.6 562.5 113.2 564.5 111 565.4 98 565.8 92 567.2 84 567.5 77 569.7 71 569.9 71 548.8ZM403 552.3L406 551.6 406 802.5 284.4 802.5 284.8 789.5 283.4 780.5 283.2 775.5 284 764.8 285.8 759.5 284 751.3 282.8 736.5 284 726.5 286.1 719.5 283.6 709.5 283.1 704.5 285 694.5 287.1 690.5 287.6 688.5 287.5 685.5 285.8 678.5 285.4 674.5 287.5 667.5 287.9 660.5 287.4 653.5 288.8 647.5 288.9 644.5 288.5 641.5 286.3 634.5 287.9 629.5 289.2 617.5 290.5 613.5 292 610.6 294 608.5 303 606.2 305 604.9 309 600.7 314 600.3 317 598.2 318.4 596.5 319.1 594.5 320 583.8 321 582.2 323 581.4 325 581.7 326.2 582.5 326.7 583.5 325.7 599.5 326.9 603.5 329 605.6 333 606.1 336 607.7 337 607.7 338.5 606.5 342 601.1 344 599.8 346 599.3 362 602.9 364 602.5 369 600.4 371.3 598.5 372.1 595.5 371.7 586.5 370.6 583.5 369 582.6 364 581.9 354 583.4 352.7 584.5 351.4 589.5 350.2 590.5 349 590.6 347 589.7 346 587.5 346 582.5 347 579.8 355 575.1 357 574.9 362 576 367 574.8 371 574.7 372.4 573.5 376.5 567.5 383 559.4 385 557.5 387 557.1 391 557.2 396 553.7 400 553.3ZM72 574.2L77 574.3 84 575.7 98 575.9 105 577.5 113 577.7 119.2 578.5 123.7 580.5 127 582.9 129 586 131 591.5 131.4 596.5 131 598.5 130 600.2 128 601.2 123 602.5 117.6 606.5 108.5 610.5 104 614.3 102.5 617.5 102.9 618.5 104.2 619.5 109.5 621.5 121.7 623.5 127.8 625.5 130 627.8 131.3 632.5 131.5 640.5 131 642.5 130 643.5 121 646.3 113 648.1 109.3 649.5 105 652.7 103.9 654.5 103.4 656.5 104.1 658.5 105.7 659.5 119.9 662.5 127 664.5 128.6 665.5 130 667.2 131.3 671.5 131.4 682.5 130.8 685.5 129 688.3 127 689.5 120 691.9 107 694 105 694.9 103.8 696.5 103.9 697.5 104.8 698.5 108 699.8 129 703.6 130.5 704.5 131.4 706.5 131.5 712.5 130.9 716.5 129 720 123.4 726.5 121 728.5 117.2 730.5 105 734.2 103.9 735.5 103.8 736.5 104.3 737.5 105.9 738.5 108.9 739.5 129 743.1 131 744.5 131.3 745.5 131.3 754.5 130.4 757.5 129 759.4 121 763.5 113.4 765.5 110 767 104.5 771.5 103 773.5 102.2 775.5 102.8 777.5 105 779.3 109.1 780.5 119 782 121.7 783.5 127.9 788.5 129.2 791.5 128.9 794.5 127.8 796.5 124 799.8 123 802.5 71 802.5 71 574.2Z" fill="#7ab06a" fill-rule="evenodd" stroke="#2a2a2a" stroke-width="0.7"/>
<path d="M72 551.3L78 553.1 90 553.7 92.9 554.5 94.2 556.5 94.1 562.5 93 563.9 91 564.7 85 565 78 567.1 71 567.3 71 551.1ZM397 558.5L406 561.8 406 802.5 295.6 802.5 294.5 790.5 292.1 783.5 291.4 778.5 292 770.5 293 764.5 293.2 755.5 294.9 745.5 292.7 735.5 293.9 726.5 293.4 719.5 294.1 712.5 293.7 704.5 294.1 701.5 295.6 697.5 295.9 695.5 294.1 688.5 294.9 679.5 294 669.5 292.6 662.5 293.9 654.5 293.4 641.5 294.5 633.5 294.2 631.5 292 626.5 291.6 624.5 291.7 620.5 292.4 617.5 294 615.4 299 614.4 305 611.4 308.1 607.5 310 606 315 606.8 320 604.2 321 604.1 323 605.4 329 611.9 331 612.8 336 613.6 338 613.1 342 607.2 344 605.6 345 605.5 348 606.6 352 606.8 355 608.6 357 609.1 363 608.4 368 604.5 374 603.3 375 602.4 375.4 600.5 374.8 579.5 375.9 575.5 385 563.8 387 562.9 391 562.1 395 559.1ZM72 577.6L97 578.1 104 580.1 113 580.4 118 581.1 121.1 582.5 125 585.5 127.7 589.5 129.1 593.5 128.9 596.5 127.1 598.5 122 600.6 115 605.4 104.8 608.5 98 613.5 96 613.9 85 614.1 76.4 616.5 75 617.6 74.9 618.5 75.7 619.5 78 620.1 98 620.2 111 623.5 122 625 125 626.2 126.7 627.5 128.5 630.5 129.3 633.5 129.2 638.5 127.9 641.5 121 644.5 109.5 646.5 104 648.3 102.4 649.5 101 651.5 100 656.5 100.6 658.5 101.4 659.5 104 660.9 115 662.7 124.7 665.5 127.3 667.5 129 670.8 129.5 674.5 128.9 679.5 127.5 682.5 123.4 687.5 120.6 689.5 118 690.3 107 691.1 104 691.8 102 693.5 100.5 696.5 101.1 698.5 104 700.4 110 702 121.2 703.5 126.5 705.5 127.5 706.5 128 710.5 127.3 714.5 120.8 721.5 116.1 727.5 114 729.1 112 729.9 105 730.7 102.6 731.5 101 732.9 100.2 735.5 100.7 737.5 101.6 738.5 104 739.8 111 741.6 119.4 742.5 125.7 744.5 127.1 745.5 127.7 746.5 127.8 752.5 126.5 755.5 121.1 760.5 118 761.8 110 763.2 104 766.6 99 770.8 97 771.5 71 771.5 71 577.6ZM286 734.4L286.3 737.5 286 738.4 285 738.9 284.7 736.5 285 734.6ZM72 778.9L97 779 99 779.6 105 782.5 117.2 783.5 120 784.9 124.6 789.5 125.7 791.5 125.7 793.5 124.4 795.5 120.7 799.5 119.8 802.5 71 802.5 71 778.9Z" fill="#76a832" fill-rule="evenodd" stroke="#2a2a2a" stroke-width="0.7"/>
<path d="M71.9 554.5L75 557.2 79 559.1 80 560.1 80.6 561.5 80 563.5 77 564.7 71 564.8 71 554.2ZM395 565.4L398 565.6 402 565.1 406 565.7 406 802.5 391.4 802.5 390.7 800.5 389 798.6 386 797.3 384 798.1 383 799.3 382 802.5 351.2 802.5 351.8 790.5 354.4 782.5 351.3 769.5 351.7 756.5 353.5 748.5 351.3 740.5 350.6 734.5 350.8 732.5 352.9 724.5 351.7 708.5 353.5 683.5 353 680.8 351.3 677.5 350.9 675.5 352.6 665.5 352.6 656.5 353.7 650.5 355.7 647.5 358 646.3 363 647 364 646.5 366 644.4 367.7 640.5 368 635.5 367.5 633.5 366.1 631.5 365 630.9 363 631.1 360.3 633.5 357 640.5 355 642.2 353 641.8 350 638.3 348 637.1 343 637.1 342 636.7 341.4 635.5 341 629.5 339.2 624.5 339.4 621.5 340.9 615.5 343 612.7 344 612.3 347 612.7 351 612.4 353 613.4 355 615.4 357 616.1 360.5 614.5 364 613.8 365 613.2 367.4 609.5 369 608 375 607.1 377 606.2 378.4 603.5 378.6 596.5 380.8 589.5 380.5 587.5 378 581.5 378 577.5 379.4 575.5 383.9 572.5 388 568.7ZM361.1 668.5L360 669.9 359.1 672.5 358.8 675.5 359.2 678.5 360 679.8 361.1 680.5 364 681.1 366 680.8 367.2 679.5 368.5 676.5 368.8 674.5 368.3 672.5 366 669.4 364 667.7 363 667.6ZM72 580.3L97 580.8 104 582.4 114 583.1 117.4 584.5 122.8 588.5 125.1 591.5 125.8 594.5 125.5 595.5 124 597 113 603.6 104 604.9 97 606.7 86 606.9 84 607.6 81 610.6 79 611.9 71 613.5 71 580.3ZM324 614.4L325.4 615.5 326.5 617.5 326.8 619.5 326.1 625.5 326.4 628.5 327.7 635.5 330.4 640.5 330.4 641.5 329 643.7 328 643.8 324 642.8 320 643.7 319 644.6 318 646.6 318 649.5 319.6 655.5 320.8 666.5 320.8 669.5 319.5 677.5 321 684.5 320.5 690.5 321 693 322 694.1 323 694.3 324 693.8 325.1 692.5 325.6 690.5 326.4 679.5 324.5 667.5 328 652.4 330 650.3 333 649.4 334.3 646.5 335.2 641.5 336 640.3 337 640 338 640.1 339 641.3 341 649.5 339.8 656.5 340.5 663.5 340.2 670.5 338.7 677.5 340.4 684.5 340.4 687.5 339 690.8 335 693.1 334 695.5 335 699.3 339.1 704.5 339.6 707.5 339.6 713.5 341.6 718.5 342.1 721.5 340.3 729.5 340.7 740.5 338.9 748.5 338.7 751.5 339.4 755.5 343.1 761.5 343.8 765.5 343 768.5 340 771.6 338.6 775.5 338.7 779.5 341.6 791.5 339.5 797.5 339 802.5 314.5 802.5 313.7 796.5 313.9 790.5 313 789.2 310 790.4 308 790.4 306.8 789.5 305.9 786.5 306 784.5 307 782.2 311 778.7 310.7 775.5 311 775 314 773.6 315.5 771.5 315.5 769.5 314.4 765.5 313.9 760.5 312.1 753.5 315.1 739.5 315.4 733.5 316.3 726.5 315.7 722.5 313.3 716.5 313.4 708.5 311.7 703.5 310.7 698.5 306.4 694.5 305.5 692.5 305.6 690.5 308.1 682.5 306.7 675.5 306.4 669.5 305.5 663.5 305.4 653.5 307.4 646.5 306 639.5 307 638.1 310 637.2 317 639.6 318 639.7 319 639.1 319.7 636.5 319.8 629.5 321 623.5 321.1 617.5 322 615.4 323 614.6ZM330.6 761.5L331 762.9 331.7 762.5 331.5 761.5 331 761.2ZM72 621.8L78 622.8 99 622.7 105 623.6 111 625.4 120 626.4 123 628 125 630.5 126 633.5 125.9 636.5 125 638.5 123.3 640.5 120.1 642.5 118 643.1 103 644.5 91 647.8 71 647.5 71 621.6ZM81 660.5L96 660.3 104 662.7 112 663.5 116.1 664.5 120.5 666.5 125 669.9 126.3 672.5 126.2 675.5 125.1 677.5 122.2 680.5 119 685.6 117 686.4 110 686.1 104 686.9 102 688.1 99 691.8 97 693.1 71 692.8 71 660.6ZM72 700L97 699.8 111 704.1 118 704.8 120 705.5 121 706.5 121.5 708.5 121.2 713.5 120 715.7 115.9 719.5 113 724.3 111 725.6 109 725.8 94 724.4 91 724.7 85 726.6 71 726.4 71 700ZM72 739.1L97 739.3 110 743.3 119 744.5 120.7 745.5 121.3 746.5 121.5 750.5 121.2 753.5 120 755.7 118 757.2 111 758 105 762.2 99 764 96 764.5 79 764.6 71 766.5 71 739.1ZM296 772.4L297 771.9 298.8 772.5 299.7 773.5 300.4 775.5 299.9 778.5 298 782.7 297 783.8 295.7 782.5 294.7 778.5 294.9 774.5ZM72 782.4L96.3 782.5 99 783.1 104 785.6 115 786.3 117 787 119 788.7 120.6 791.5 120.5 793.5 119.3 795.5 117.3 797.5 115 798.6 110 799.7 108.8 800.5 107.9 802.5 71 802.5 71 782.4Z" fill="#94b62a" fill-rule="evenodd" stroke="#2a2a2a" stroke-width="0.7"/>
<path d="M403 568.5L406 568.2 406 629.2 403 630.2 396 630.7 393.2 629.5 391.4 627.5 391 626.4 390 625.7 388 626.4 387 626.3 384.8 624.5 381 622.5 379.6 619.5 378.7 612.5 379.8 609.5 382 607.3 383 606.8 387 607.3 391 606.8 393 605.6 393.8 604.5 394.6 601.5 394.6 597.5 392.2 586.5 393.5 581.5 393 574.1 394 572.6 397 572.9 399 572.3 401.4 569.5ZM382 577.5L385 576.6 386.7 577.5 387.3 580.5 386 583.1 384 583.6 382 582.3 381 579.5ZM72 582.5L79 582.7 86 584.1 97 584.2 111.9 585.5 113.8 586.5 119.5 591.5 120.9 593.5 121 594.5 120 596 118 597.4 111 599.7 85 599.9 83 601 78 606.3 76 606.9 71 606.8 71 582.5ZM383 600.2L383.3 600.5 383 601.5ZM370 614.3L371 613.6 372 613.6 373.1 615.5 372.7 618.5 372 619.6 371 620.1 369 619.6 368.5 618.5 368.8 616.5ZM72 624.9L78 625.2 97 625 104 625.5 111 629.1 117 629.4 119 630.1 121 632.5 121.2 635.5 120 637.7 117 639.2 98 639.2 96 640.2 92.7 643.5 90 644.4 71 644 71 624.8ZM381 641.3L382 641.1 383 641.7 386 645.1 388 646.6 395 646.8 400 645.8 404 648.4 406 648.5 406 679.5 403 677.1 398 677.7 391 676.6 388 674.9 385 671.4 383 670.6 380 670.5 375 672.6 374 672.5 369 667.5 368.1 665.5 368 662.5 369.2 648.5 370 647.3 372 646 377 645.3ZM400.3 655.5L399.8 656.5 399.9 657.5 401 657.6 401.3 655.5 401 655ZM393.3 658.5L392.8 659.5 392.8 661.5 394 662.8 395.3 661.5 395.5 659.5 394.9 658.5 394 658.1ZM357 655.2L358 654.6 359 655 360 657.5 359.7 660.5 358 661.9 356.6 661.5 355.7 659.5 356 656.5ZM312 663.4L313 664 313.5 665.5 313.6 668.5 313 669.9 312 669.2 311.3 666.5 311.3 664.5ZM72 664.1L96 663.7 112 665.5 113.9 666.5 114.5 667.5 114.1 674.5 113.3 676.5 112.3 677.5 110 677.5 108.9 676.5 107 672.3 105.2 670.5 103 669.9 98 670.1 96 671 94.9 672.5 94.2 682.5 93.5 684.5 92 685.8 87 686.3 71 685.6 71 664.1ZM371 683.4L373 682.7 377 684.3 387 685.6 391 685.4 396 688.1 406 682.7 406 711.3 396.5 707.5 395 705.7 393.5 702.5 392 701.1 386 700.6 381 700.5 377 701.8 375.5 703.5 373.4 708.5 372 709.9 370 710.9 368 711 361 708.2 360 708.2 356 709.9 354.9 708.5 354.5 705.5 355 695.6 356.5 690.5 357.1 689.5 361 686.5 363 686 367 687 368 686.5ZM321 701L325 701 326 701.9 326.6 703.5 326.5 705.5 325.5 707.5 322 711 321 711.1 320 709.8 318.9 706.5 319.3 702.5ZM80 703.5L97 703.2 105 704.7 106.5 705.5 107.6 707.5 107.7 712.5 107.1 715.5 106 716.9 104 717.7 91 718.2 89 719.3 86 722.4 84 723.1 71 722.9 71 703.6ZM321 715.8L321.3 717.5 321 718.1 320.6 716.5ZM398 716.3L406 715.8 406 760.9 398 757.5 390 755.9 388 756.3 384 759.9 383 760.1 381 758.4 379.1 755.5 377.6 752.5 376.9 749.5 377.4 747.5 379.6 744.5 380.3 742.5 379.9 735.5 380.6 729.5 380.3 723.5 380.6 720.5 382 718.2 384 717.1 390 717.2 394 718ZM361 726.4L363 725.8 365 725.9 366 727.3 366.3 729.5 366.1 736.5 366.8 741.5 366.6 744.5 365 747.3 363 748.7 362 748.8 359 748 357 746.3 354.2 740.5 353.4 736.5 353.9 732.5 356 728.3 357 727.5ZM72 742.6L97 742.6 105 744.1 107 745.4 107.5 746.5 107.3 753.5 105.3 756.5 103 757.4 81 757.3 77 757.7 75 758.7 72.5 761.5 71 762.4 71 742.6ZM362 755.3L363 755.3 364.8 756.5 366.8 759.5 367.5 762.5 367.3 768.5 367.9 770.5 369 771.4 373 772.5 375 772.5 382 768.4 383 768.7 385.6 771.5 387 772.1 388 771.8 389.2 770.5 391 766.1 392 766 393.7 769.5 395 770.8 396.6 771.5 401 772.4 406 770.7 406 779.8 403 782.9 402 783.3 397 779.4 395 778.5 389 780.6 386 780.2 373 780.8 368 780 362 780.3 360 779.8 357 777.2 355 774.1 353.8 769.5 353.8 765.5 355 758.7 356 757.1ZM72 787.3L97 787.4 103 789.1 112 789.6 113.6 790.5 114.4 792.5 113.3 794.5 112 795.3 104 797.6 71 797.5 71 787.3ZM357 789.4L358 788.7 359 788.6 360.2 790.5 360.8 795.5 360.7 802.5 354.2 802.5 355.6 792.5ZM397 793L398 793.1 399.4 795.5 399.6 797.5 399 798.9 398 799 396.4 796.5 396.2 794.5ZM335 797.2L335 802.2 334 798.5 334.2 797.5Z" fill="#e6e244" fill-rule="evenodd" stroke="#2a2a2a" stroke-width="0.7"/>
<path d="M404 571.5L406 570.9 406 598.2 404 598.3 402 597.6 401 595.5 399.5 588.5 398.6 580.5 399.3 577.5ZM72 585.2L78.4 585.5 80.2 586.5 80.8 587.5 81.2 591.5 80.8 595.5 79.8 597.5 78 599 76 599.5 71 599.6 71 585.2ZM72 629.5L78 629.7 80 630.9 80.7 632.5 80.9 635.5 80.1 637.5 79.1 638.5 77 639.1 71 639.2 71 629.5ZM72 668.9L78 669.2 80 670.5 80.8 672.5 80.9 674.5 80.3 676.5 79.4 677.5 77 678.3 71 678.4 71 668.9ZM72 708.4L77 708.5 79.6 709.5 80.9 712.5 80.9 714.5 80 716.6 78.9 717.5 77 718 71 718.1 71 708.4ZM357 734.1L358 734.2 359.1 735.5 359.1 737.5 358 739 357 738.7 356 736.5ZM358 766.9L359 767.2 359.9 768.5 359.8 770.5 359 771.2 358 771.2 357 769.7 357 768.1Z" fill="#c8692a" fill-rule="evenodd" stroke="#2a2a2a" stroke-width="0.7"/>
<path d="M406 576.3L406 580.6 405 580.3 404.4 578.5 405 577Z" fill="#b01e24" fill-rule="evenodd" stroke="#2a2a2a" stroke-width="0.7"/>
</svg>
<path d="M104.4 484.5v5M104.4 800.0v-5M137.6 484.5v5M137.6 800.0v-5M170.8 484.5v5M170.8 800.0v-5M204.0 484.5v5M204.0 800.0v-5M237.2 484.5v5M237.2 800.0v-5M270.4 484.5v5M270.4 800.0v-5M303.6 484.5v5M303.6 800.0v-5M336.8 484.5v5M336.8 800.0v-5M370.0 484.5v5M370.0 800.0v-5M74.0 760.6h5M403.0 760.6h-5M74.0 721.1h5M403.0 721.1h-5M74.0 681.7h5M403.0 681.7h-5M74.0 642.2h5M403.0 642.2h-5M74.0 602.8h5M403.0 602.8h-5M74.0 563.4h5M403.0 563.4h-5M74.0 523.9h5M403.0 523.9h-5" stroke="#111" stroke-width="1" fill="none"/>
<rect x="74.0" y="484.5" width="329.0" height="315.5" fill="none" stroke="#111" stroke-width="1.8"/>
<text x="52.7" y="494.7" text-anchor="middle" style="font-family:'Liberation Serif',serif;stroke:#111;stroke-width:0.3px;font-size:36px" fill="#111">10</text>
<text x="59.6" y="576.9" text-anchor="middle" style="font-family:'Liberation Serif',serif;stroke:#111;stroke-width:0.3px;font-size:36px" fill="#111">5</text>
<text x="61.6" y="656.0" text-anchor="middle" style="font-family:'Liberation Serif',serif;stroke:#111;stroke-width:0.3px;font-size:36px" fill="#111">0</text>
<text x="48.85" y="732.4" text-anchor="middle" style="font-family:'Liberation Serif',serif;stroke:#111;stroke-width:0.3px;font-size:36px" fill="#111">−5</text>
<text x="42.7" y="812.1" text-anchor="middle" style="font-family:'Liberation Serif',serif;stroke:#111;stroke-width:0.3px;font-size:36px" fill="#111">−10</text>
<text x="134.6" y="831.4" text-anchor="middle" style="font-family:'Liberation Serif',serif;stroke:#111;stroke-width:0.3px;font-size:36px" fill="#111">−1</text>
<text x="205" y="831.4" text-anchor="middle" style="font-family:'Liberation Serif',serif;stroke:#111;stroke-width:0.3px;font-size:36px" fill="#111">0</text>
<text x="271.4" y="831.4" text-anchor="middle" style="font-family:'Liberation Serif',serif;stroke:#111;stroke-width:0.3px;font-size:36px" fill="#111">1</text>
<text x="337.8" y="831.4" text-anchor="middle" style="font-family:'Liberation Serif',serif;stroke:#111;stroke-width:0.3px;font-size:36px" fill="#111">2</text>
<text x="404.5" y="831.4" text-anchor="middle" style="font-family:'Liberation Serif',serif;stroke:#111;stroke-width:0.3px;font-size:36px" fill="#111">3</text>
<text x="152.8" y="861.4" style="font-family:'Liberation Serif',serif;stroke:#111;stroke-width:0.3px;font-size:36px" fill="#111">Energy (eV)</text>
<text transform="translate(29 649.0) rotate(-90)" text-anchor="middle" style="font-family:'Liberation Serif',serif;stroke:#111;stroke-width:0.3px;font-size:36px" fill="#111"><tspan font-style="italic">z</tspan> (Å)</text>
<text x="30" y="450" style="font-family:'Liberation Sans',sans-serif;font-size:34px" fill="#111">(b)</text>
<clipPath id="clb"><rect x="380" y="483.5" width="150" height="317.5"/></clipPath><g clip-path="url(#clb)">
<line x1="422.7" y1="496.2" x2="433.1" y2="493.3" stroke="#cc2a2a" stroke-width="3.7"/><line x1="422.7" y1="496.2" x2="433.1" y2="493.3" stroke="#f08a8a" stroke-width="1.1"/><line x1="433.1" y1="493.3" x2="443.5" y2="490.4" stroke="#3645ad" stroke-width="3.7"/><line x1="433.1" y1="493.3" x2="443.5" y2="490.4" stroke="#8f98e6" stroke-width="1.1"/><line x1="422.7" y1="496.2" x2="433.1" y2="500.2" stroke="#cc2a2a" stroke-width="3.7"/><line x1="422.7" y1="496.2" x2="433.1" y2="500.2" stroke="#f08a8a" stroke-width="1.1"/><line x1="433.1" y1="500.2" x2="443.5" y2="504.2" stroke="#3645ad" stroke-width="3.7"/><line x1="433.1" y1="500.2" x2="443.5" y2="504.2" stroke="#8f98e6" stroke-width="1.1"/><line x1="443.5" y1="490.4" x2="453.9" y2="493.3" stroke="#3645ad" stroke-width="3.7"/><line x1="443.5" y1="490.4" x2="453.9" y2="493.3" stroke="#8f98e6" stroke-width="1.1"/><line x1="453.9" y1="493.3" x2="464.2" y2="496.2" stroke="#cc2a2a" stroke-width="3.7"/><line x1="453.9" y1="493.3" x2="464.2" y2="496.2" stroke="#f08a8a" stroke-width="1.1"/><line x1="443.5" y1="504.2" x2="453.9" y2="500.2" stroke="#3645ad" stroke-width="3.7"/><line x1="443.5" y1="504.2" x2="453.9" y2="500.2" stroke="#8f98e6" stroke-width="1.1"/><line x1="453.9" y1="500.2" x2="464.2" y2="496.2" stroke="#cc2a2a" stroke-width="3.7"/><line x1="453.9" y1="500.2" x2="464.2" y2="496.2" stroke="#f08a8a" stroke-width="1.1"/><line x1="464.2" y1="496.2" x2="475.2" y2="492.7" stroke="#cc2a2a" stroke-width="3.7"/><line x1="464.2" y1="496.2" x2="475.2" y2="492.7" stroke="#f08a8a" stroke-width="1.1"/><line x1="475.2" y1="492.7" x2="486.2" y2="489.2" stroke="#3645ad" stroke-width="3.7"/><line x1="475.2" y1="492.7" x2="486.2" y2="489.2" stroke="#8f98e6" stroke-width="1.1"/><line x1="464.2" y1="496.2" x2="475.2" y2="499.6" stroke="#cc2a2a" stroke-width="3.7"/><line x1="464.2" y1="496.2" x2="475.2" y2="499.6" stroke="#f08a8a" stroke-width="1.1"/><line x1="475.2" y1="499.6" x2="486.2" y2="503.0" stroke="#3645ad" stroke-width="3.7"/><line x1="475.2" y1="499.6" x2="486.2" y2="503.0" stroke="#8f98e6" stroke-width="1.1"/><line x1="486.2" y1="489.2" x2="486.2" y2="493.2" stroke="#3645ad" stroke-width="3.7"/><line x1="486.2" y1="489.2" x2="486.2" y2="493.2" stroke="#8f98e6" stroke-width="1.1"/><line x1="486.2" y1="493.2" x2="486.2" y2="497.3" stroke="#cc2a2a" stroke-width="3.7"/><line x1="486.2" y1="493.2" x2="486.2" y2="497.3" stroke="#f08a8a" stroke-width="1.1"/><line x1="486.2" y1="503.0" x2="486.2" y2="500.1" stroke="#3645ad" stroke-width="3.7"/><line x1="486.2" y1="503.0" x2="486.2" y2="500.1" stroke="#8f98e6" stroke-width="1.1"/><line x1="486.2" y1="500.1" x2="486.2" y2="497.3" stroke="#cc2a2a" stroke-width="3.7"/><line x1="486.2" y1="500.1" x2="486.2" y2="497.3" stroke="#f08a8a" stroke-width="1.1"/><line x1="443.5" y1="490.4" x2="443.5" y2="497.3" stroke="#3645ad" stroke-width="3.7"/><line x1="443.5" y1="490.4" x2="443.5" y2="497.3" stroke="#8f98e6" stroke-width="1.1"/><line x1="443.5" y1="497.3" x2="443.5" y2="504.2" stroke="#3645ad" stroke-width="3.7"/><line x1="443.5" y1="497.3" x2="443.5" y2="504.2" stroke="#8f98e6" stroke-width="1.1"/><line x1="486.2" y1="489.2" x2="486.2" y2="496.1" stroke="#3645ad" stroke-width="3.7"/><line x1="486.2" y1="489.2" x2="486.2" y2="496.1" stroke="#8f98e6" stroke-width="1.1"/><line x1="486.2" y1="496.1" x2="486.2" y2="503.0" stroke="#3645ad" stroke-width="3.7"/><line x1="486.2" y1="496.1" x2="486.2" y2="503.0" stroke="#8f98e6" stroke-width="1.1"/><line x1="442.3" y1="497.3" x2="442.9" y2="493.9" stroke="#cc2a2a" stroke-width="3.7"/><line x1="442.3" y1="497.3" x2="442.9" y2="493.9" stroke="#f08a8a" stroke-width="1.1"/><line x1="442.9" y1="493.9" x2="443.5" y2="490.4" stroke="#3645ad" stroke-width="3.7"/><line x1="442.9" y1="493.9" x2="443.5" y2="490.4" stroke="#8f98e6" stroke-width="1.1"/><line x1="443.5" y1="504.2" x2="444.6" y2="516.4" stroke="#3645ad" stroke-width="3.7"/><line x1="443.5" y1="504.2" x2="444.6" y2="516.4" stroke="#8f98e6" stroke-width="1.1"/><line x1="444.6" y1="516.4" x2="445.8" y2="528.5" stroke="#cc2a2a" stroke-width="3.7"/><line x1="444.6" y1="516.4" x2="445.8" y2="528.5" stroke="#f08a8a" stroke-width="1.1"/><line x1="445.8" y1="528.5" x2="444.6" y2="540.6" stroke="#cc2a2a" stroke-width="3.7"/><line x1="445.8" y1="528.5" x2="444.6" y2="540.6" stroke="#f08a8a" stroke-width="1.1"/><line x1="444.6" y1="540.6" x2="443.5" y2="552.7" stroke="#3645ad" stroke-width="3.7"/><line x1="444.6" y1="540.6" x2="443.5" y2="552.7" stroke="#8f98e6" stroke-width="1.1"/><line x1="486.2" y1="503.0" x2="486.8" y2="515.8" stroke="#3645ad" stroke-width="3.7"/><line x1="486.2" y1="503.0" x2="486.8" y2="515.8" stroke="#8f98e6" stroke-width="1.1"/><line x1="486.8" y1="515.8" x2="487.3" y2="528.5" stroke="#cc2a2a" stroke-width="3.7"/><line x1="486.8" y1="515.8" x2="487.3" y2="528.5" stroke="#f08a8a" stroke-width="1.1"/><line x1="487.3" y1="528.5" x2="486.8" y2="540.6" stroke="#cc2a2a" stroke-width="3.7"/><line x1="487.3" y1="528.5" x2="486.8" y2="540.6" stroke="#f08a8a" stroke-width="1.1"/><line x1="486.8" y1="540.6" x2="486.2" y2="552.7" stroke="#3645ad" stroke-width="3.7"/><line x1="486.8" y1="540.6" x2="486.2" y2="552.7" stroke="#8f98e6" stroke-width="1.1"/><line x1="443.5" y1="552.7" x2="434.2" y2="557.4" stroke="#3645ad" stroke-width="3.7"/><line x1="443.5" y1="552.7" x2="434.2" y2="557.4" stroke="#8f98e6" stroke-width="1.1"/><line x1="434.2" y1="557.4" x2="425.0" y2="562.0" stroke="#cc2a2a" stroke-width="3.7"/><line x1="434.2" y1="557.4" x2="425.0" y2="562.0" stroke="#f08a8a" stroke-width="1.1"/><line x1="443.5" y1="552.7" x2="437.8" y2="557.4" stroke="#3645ad" stroke-width="3.7"/><line x1="443.5" y1="552.7" x2="437.8" y2="557.4" stroke="#8f98e6" stroke-width="1.1"/><line x1="437.8" y1="557.4" x2="432.0" y2="562.0" stroke="#cc2a2a" stroke-width="3.7"/><line x1="437.8" y1="557.4" x2="432.0" y2="562.0" stroke="#f08a8a" stroke-width="1.1"/><line x1="443.5" y1="552.7" x2="455.6" y2="557.4" stroke="#3645ad" stroke-width="3.7"/><line x1="443.5" y1="552.7" x2="455.6" y2="557.4" stroke="#8f98e6" stroke-width="1.1"/><line x1="455.6" y1="557.4" x2="467.7" y2="562.0" stroke="#cc2a2a" stroke-width="3.7"/><line x1="455.6" y1="557.4" x2="467.7" y2="562.0" stroke="#f08a8a" stroke-width="1.1"/><line x1="486.2" y1="552.7" x2="481.0" y2="557.4" stroke="#3645ad" stroke-width="3.7"/><line x1="486.2" y1="552.7" x2="481.0" y2="557.4" stroke="#8f98e6" stroke-width="1.1"/><line x1="481.0" y1="557.4" x2="475.8" y2="562.0" stroke="#cc2a2a" stroke-width="3.7"/><line x1="481.0" y1="557.4" x2="475.8" y2="562.0" stroke="#f08a8a" stroke-width="1.1"/><line x1="425.0" y1="562.0" x2="427.3" y2="574.6" stroke="#cc2a2a" stroke-width="3.7"/><line x1="425.0" y1="562.0" x2="427.3" y2="574.6" stroke="#f08a8a" stroke-width="1.1"/><line x1="427.3" y1="574.6" x2="429.6" y2="587.3" stroke="#3645ad" stroke-width="3.7"/><line x1="427.3" y1="574.6" x2="429.6" y2="587.3" stroke="#8f98e6" stroke-width="1.1"/><line x1="432.0" y1="562.0" x2="430.8" y2="574.6" stroke="#cc2a2a" stroke-width="3.7"/><line x1="432.0" y1="562.0" x2="430.8" y2="574.6" stroke="#f08a8a" stroke-width="1.1"/><line x1="430.8" y1="574.6" x2="429.6" y2="587.3" stroke="#3645ad" stroke-width="3.7"/><line x1="430.8" y1="574.6" x2="429.6" y2="587.3" stroke="#8f98e6" stroke-width="1.1"/><line x1="467.7" y1="562.0" x2="470.0" y2="574.6" stroke="#cc2a2a" stroke-width="3.7"/><line x1="467.7" y1="562.0" x2="470.0" y2="574.6" stroke="#f08a8a" stroke-width="1.1"/><line x1="470.0" y1="574.6" x2="472.3" y2="587.3" stroke="#3645ad" stroke-width="3.7"/><line x1="470.0" y1="574.6" x2="472.3" y2="587.3" stroke="#8f98e6" stroke-width="1.1"/><line x1="475.8" y1="562.0" x2="474.1" y2="574.6" stroke="#cc2a2a" stroke-width="3.7"/><line x1="475.8" y1="562.0" x2="474.1" y2="574.6" stroke="#f08a8a" stroke-width="1.1"/><line x1="474.1" y1="574.6" x2="472.3" y2="587.3" stroke="#3645ad" stroke-width="3.7"/><line x1="474.1" y1="574.6" x2="472.3" y2="587.3" stroke="#8f98e6" stroke-width="1.1"/><line x1="429.6" y1="587.3" x2="437.1" y2="591.3" stroke="#3645ad" stroke-width="3.7"/><line x1="429.6" y1="587.3" x2="437.1" y2="591.3" stroke="#8f98e6" stroke-width="1.1"/><line x1="437.1" y1="591.3" x2="444.6" y2="595.4" stroke="#7a5a3c" stroke-width="3.7"/><line x1="437.1" y1="591.3" x2="444.6" y2="595.4" stroke="#c0a080" stroke-width="1.1"/><line x1="472.3" y1="587.3" x2="458.5" y2="591.3" stroke="#3645ad" stroke-width="3.7"/><line x1="472.3" y1="587.3" x2="458.5" y2="591.3" stroke="#8f98e6" stroke-width="1.1"/><line x1="458.5" y1="591.3" x2="444.6" y2="595.4" stroke="#7a5a3c" stroke-width="3.7"/><line x1="458.5" y1="591.3" x2="444.6" y2="595.4" stroke="#c0a080" stroke-width="1.1"/><line x1="472.3" y1="587.3" x2="479.8" y2="591.3" stroke="#3645ad" stroke-width="3.7"/><line x1="472.3" y1="587.3" x2="479.8" y2="591.3" stroke="#8f98e6" stroke-width="1.1"/><line x1="479.8" y1="591.3" x2="487.3" y2="595.4" stroke="#7a5a3c" stroke-width="3.7"/><line x1="479.8" y1="591.3" x2="487.3" y2="595.4" stroke="#c0a080" stroke-width="1.1"/><line x1="444.6" y1="595.4" x2="444.1" y2="610.7" stroke="#7a5a3c" stroke-width="3.7"/><line x1="444.6" y1="595.4" x2="444.1" y2="610.7" stroke="#c0a080" stroke-width="1.1"/><line x1="444.1" y1="610.7" x2="443.5" y2="626.0" stroke="#3645ad" stroke-width="3.7"/><line x1="444.1" y1="610.7" x2="443.5" y2="626.0" stroke="#8f98e6" stroke-width="1.1"/><line x1="487.3" y1="595.4" x2="486.8" y2="610.5" stroke="#7a5a3c" stroke-width="3.7"/><line x1="487.3" y1="595.4" x2="486.8" y2="610.5" stroke="#c0a080" stroke-width="1.1"/><line x1="486.8" y1="610.5" x2="486.2" y2="625.6" stroke="#3645ad" stroke-width="3.7"/><line x1="486.8" y1="610.5" x2="486.2" y2="625.6" stroke="#8f98e6" stroke-width="1.1"/><line x1="443.5" y1="626.0" x2="436.0" y2="631.1" stroke="#3645ad" stroke-width="3.7"/><line x1="443.5" y1="626.0" x2="436.0" y2="631.1" stroke="#8f98e6" stroke-width="1.1"/><line x1="436.0" y1="631.1" x2="428.5" y2="636.2" stroke="#7a5a3c" stroke-width="3.7"/><line x1="436.0" y1="631.1" x2="428.5" y2="636.2" stroke="#c0a080" stroke-width="1.1"/><line x1="443.5" y1="626.0" x2="457.4" y2="631.1" stroke="#3645ad" stroke-width="3.7"/><line x1="443.5" y1="626.0" x2="457.4" y2="631.1" stroke="#8f98e6" stroke-width="1.1"/><line x1="457.4" y1="631.1" x2="471.2" y2="636.2" stroke="#7a5a3c" stroke-width="3.7"/><line x1="457.4" y1="631.1" x2="471.2" y2="636.2" stroke="#c0a080" stroke-width="1.1"/><line x1="486.2" y1="625.6" x2="478.7" y2="630.9" stroke="#3645ad" stroke-width="3.7"/><line x1="486.2" y1="625.6" x2="478.7" y2="630.9" stroke="#8f98e6" stroke-width="1.1"/><line x1="478.7" y1="630.9" x2="471.2" y2="636.2" stroke="#7a5a3c" stroke-width="3.7"/><line x1="478.7" y1="630.9" x2="471.2" y2="636.2" stroke="#c0a080" stroke-width="1.1"/><line x1="428.5" y1="636.2" x2="428.5" y2="651.2" stroke="#7a5a3c" stroke-width="3.7"/><line x1="428.5" y1="636.2" x2="428.5" y2="651.2" stroke="#c0a080" stroke-width="1.1"/><line x1="428.5" y1="651.2" x2="428.5" y2="666.2" stroke="#3645ad" stroke-width="3.7"/><line x1="428.5" y1="651.2" x2="428.5" y2="666.2" stroke="#8f98e6" stroke-width="1.1"/><line x1="471.2" y1="636.2" x2="471.2" y2="650.6" stroke="#7a5a3c" stroke-width="3.7"/><line x1="471.2" y1="636.2" x2="471.2" y2="650.6" stroke="#c0a080" stroke-width="1.1"/><line x1="471.2" y1="650.6" x2="471.2" y2="665.0" stroke="#3645ad" stroke-width="3.7"/><line x1="471.2" y1="650.6" x2="471.2" y2="665.0" stroke="#8f98e6" stroke-width="1.1"/><line x1="428.5" y1="666.2" x2="421.6" y2="670.8" stroke="#3645ad" stroke-width="3.7"/><line x1="428.5" y1="666.2" x2="421.6" y2="670.8" stroke="#8f98e6" stroke-width="1.1"/><line x1="421.6" y1="670.8" x2="414.6" y2="675.4" stroke="#7a5a3c" stroke-width="3.7"/><line x1="421.6" y1="670.8" x2="414.6" y2="675.4" stroke="#c0a080" stroke-width="1.1"/><line x1="428.5" y1="666.2" x2="442.4" y2="670.8" stroke="#3645ad" stroke-width="3.7"/><line x1="428.5" y1="666.2" x2="442.4" y2="670.8" stroke="#8f98e6" stroke-width="1.1"/><line x1="442.4" y1="670.8" x2="456.2" y2="675.4" stroke="#7a5a3c" stroke-width="3.7"/><line x1="442.4" y1="670.8" x2="456.2" y2="675.4" stroke="#c0a080" stroke-width="1.1"/><line x1="471.2" y1="665.0" x2="463.7" y2="670.2" stroke="#3645ad" stroke-width="3.7"/><line x1="471.2" y1="665.0" x2="463.7" y2="670.2" stroke="#8f98e6" stroke-width="1.1"/><line x1="463.7" y1="670.2" x2="456.2" y2="675.4" stroke="#7a5a3c" stroke-width="3.7"/><line x1="463.7" y1="670.2" x2="456.2" y2="675.4" stroke="#c0a080" stroke-width="1.1"/><line x1="414.6" y1="675.4" x2="414.6" y2="689.8" stroke="#7a5a3c" stroke-width="3.7"/><line x1="414.6" y1="675.4" x2="414.6" y2="689.8" stroke="#c0a080" stroke-width="1.1"/><line x1="414.6" y1="689.8" x2="414.6" y2="704.2" stroke="#3645ad" stroke-width="3.7"/><line x1="414.6" y1="689.8" x2="414.6" y2="704.2" stroke="#8f98e6" stroke-width="1.1"/><line x1="456.2" y1="675.4" x2="456.2" y2="689.8" stroke="#7a5a3c" stroke-width="3.7"/><line x1="456.2" y1="675.4" x2="456.2" y2="689.8" stroke="#c0a080" stroke-width="1.1"/><line x1="456.2" y1="689.8" x2="456.2" y2="704.2" stroke="#3645ad" stroke-width="3.7"/><line x1="456.2" y1="689.8" x2="456.2" y2="704.2" stroke="#8f98e6" stroke-width="1.1"/><line x1="414.6" y1="704.2" x2="421.6" y2="708.9" stroke="#3645ad" stroke-width="3.7"/><line x1="414.6" y1="704.2" x2="421.6" y2="708.9" stroke="#8f98e6" stroke-width="1.1"/><line x1="421.6" y1="708.9" x2="428.5" y2="713.5" stroke="#7a5a3c" stroke-width="3.7"/><line x1="421.6" y1="708.9" x2="428.5" y2="713.5" stroke="#c0a080" stroke-width="1.1"/><line x1="456.2" y1="704.2" x2="442.4" y2="708.9" stroke="#3645ad" stroke-width="3.7"/><line x1="456.2" y1="704.2" x2="442.4" y2="708.9" stroke="#8f98e6" stroke-width="1.1"/><line x1="442.4" y1="708.9" x2="428.5" y2="713.5" stroke="#7a5a3c" stroke-width="3.7"/><line x1="442.4" y1="708.9" x2="428.5" y2="713.5" stroke="#c0a080" stroke-width="1.1"/><line x1="456.2" y1="704.2" x2="463.1" y2="708.9" stroke="#3645ad" stroke-width="3.7"/><line x1="456.2" y1="704.2" x2="463.1" y2="708.9" stroke="#8f98e6" stroke-width="1.1"/><line x1="463.1" y1="708.9" x2="470.0" y2="713.5" stroke="#7a5a3c" stroke-width="3.7"/><line x1="463.1" y1="708.9" x2="470.0" y2="713.5" stroke="#c0a080" stroke-width="1.1"/><line x1="428.5" y1="713.5" x2="428.5" y2="727.9" stroke="#7a5a3c" stroke-width="3.7"/><line x1="428.5" y1="713.5" x2="428.5" y2="727.9" stroke="#c0a080" stroke-width="1.1"/><line x1="428.5" y1="727.9" x2="428.5" y2="742.3" stroke="#3645ad" stroke-width="3.7"/><line x1="428.5" y1="727.9" x2="428.5" y2="742.3" stroke="#8f98e6" stroke-width="1.1"/><line x1="470.0" y1="713.5" x2="470.0" y2="727.9" stroke="#7a5a3c" stroke-width="3.7"/><line x1="470.0" y1="713.5" x2="470.0" y2="727.9" stroke="#c0a080" stroke-width="1.1"/><line x1="470.0" y1="727.9" x2="470.0" y2="742.3" stroke="#3645ad" stroke-width="3.7"/><line x1="470.0" y1="727.9" x2="470.0" y2="742.3" stroke="#8f98e6" stroke-width="1.1"/><line x1="428.5" y1="742.3" x2="435.4" y2="747.5" stroke="#3645ad" stroke-width="3.7"/><line x1="428.5" y1="742.3" x2="435.4" y2="747.5" stroke="#8f98e6" stroke-width="1.1"/><line x1="435.4" y1="747.5" x2="442.3" y2="752.7" stroke="#7a5a3c" stroke-width="3.7"/><line x1="435.4" y1="747.5" x2="442.3" y2="752.7" stroke="#c0a080" stroke-width="1.1"/><line x1="470.0" y1="742.3" x2="456.1" y2="747.5" stroke="#3645ad" stroke-width="3.7"/><line x1="470.0" y1="742.3" x2="456.1" y2="747.5" stroke="#8f98e6" stroke-width="1.1"/><line x1="456.1" y1="747.5" x2="442.3" y2="752.7" stroke="#7a5a3c" stroke-width="3.7"/><line x1="456.1" y1="747.5" x2="442.3" y2="752.7" stroke="#c0a080" stroke-width="1.1"/><line x1="470.0" y1="742.3" x2="477.5" y2="747.5" stroke="#3645ad" stroke-width="3.7"/><line x1="470.0" y1="742.3" x2="477.5" y2="747.5" stroke="#8f98e6" stroke-width="1.1"/><line x1="477.5" y1="747.5" x2="485.0" y2="752.7" stroke="#7a5a3c" stroke-width="3.7"/><line x1="477.5" y1="747.5" x2="485.0" y2="752.7" stroke="#c0a080" stroke-width="1.1"/><line x1="442.3" y1="752.7" x2="442.3" y2="767.1" stroke="#7a5a3c" stroke-width="3.7"/><line x1="442.3" y1="752.7" x2="442.3" y2="767.1" stroke="#c0a080" stroke-width="1.1"/><line x1="442.3" y1="767.1" x2="442.3" y2="781.5" stroke="#3645ad" stroke-width="3.7"/><line x1="442.3" y1="767.1" x2="442.3" y2="781.5" stroke="#8f98e6" stroke-width="1.1"/><line x1="485.0" y1="752.7" x2="485.0" y2="767.1" stroke="#7a5a3c" stroke-width="3.7"/><line x1="485.0" y1="752.7" x2="485.0" y2="767.1" stroke="#c0a080" stroke-width="1.1"/><line x1="485.0" y1="767.1" x2="485.0" y2="781.5" stroke="#3645ad" stroke-width="3.7"/><line x1="485.0" y1="767.1" x2="485.0" y2="781.5" stroke="#8f98e6" stroke-width="1.1"/><line x1="442.3" y1="781.5" x2="435.4" y2="786.1" stroke="#3645ad" stroke-width="3.7"/><line x1="442.3" y1="781.5" x2="435.4" y2="786.1" stroke="#8f98e6" stroke-width="1.1"/><line x1="435.4" y1="786.1" x2="428.5" y2="790.8" stroke="#7a5a3c" stroke-width="3.7"/><line x1="435.4" y1="786.1" x2="428.5" y2="790.8" stroke="#c0a080" stroke-width="1.1"/><line x1="442.3" y1="781.5" x2="456.8" y2="786.1" stroke="#3645ad" stroke-width="3.7"/><line x1="442.3" y1="781.5" x2="456.8" y2="786.1" stroke="#8f98e6" stroke-width="1.1"/><line x1="456.8" y1="786.1" x2="471.2" y2="790.8" stroke="#7a5a3c" stroke-width="3.7"/><line x1="456.8" y1="786.1" x2="471.2" y2="790.8" stroke="#c0a080" stroke-width="1.1"/><line x1="485.0" y1="781.5" x2="478.1" y2="786.1" stroke="#3645ad" stroke-width="3.7"/><line x1="485.0" y1="781.5" x2="478.1" y2="786.1" stroke="#8f98e6" stroke-width="1.1"/><line x1="478.1" y1="786.1" x2="471.2" y2="790.8" stroke="#7a5a3c" stroke-width="3.7"/><line x1="478.1" y1="786.1" x2="471.2" y2="790.8" stroke="#c0a080" stroke-width="1.1"/><line x1="428.5" y1="790.8" x2="428.5" y2="800.4" stroke="#7a5a3c" stroke-width="3.7"/><line x1="428.5" y1="790.8" x2="428.5" y2="800.4" stroke="#c0a080" stroke-width="1.1"/><line x1="428.5" y1="800.4" x2="428.5" y2="810.0" stroke="#3645ad" stroke-width="3.7"/><line x1="428.5" y1="800.4" x2="428.5" y2="810.0" stroke="#8f98e6" stroke-width="1.1"/><line x1="471.2" y1="790.8" x2="471.2" y2="800.4" stroke="#7a5a3c" stroke-width="3.7"/><line x1="471.2" y1="790.8" x2="471.2" y2="800.4" stroke="#c0a080" stroke-width="1.1"/><line x1="471.2" y1="800.4" x2="471.2" y2="810.0" stroke="#3645ad" stroke-width="3.7"/><line x1="471.2" y1="800.4" x2="471.2" y2="810.0" stroke="#8f98e6" stroke-width="1.1"/>
<circle cx="443.5" cy="490.4" r="7.7" fill="url(#gB)"/><circle cx="486.2" cy="489.2" r="7.7" fill="url(#gB)"/><circle cx="422.7" cy="496.2" r="4.6" fill="url(#gO)"/><circle cx="442.3" cy="497.3" r="4.6" fill="url(#gO)"/><circle cx="464.2" cy="496.2" r="4.6" fill="url(#gO)"/><circle cx="486.2" cy="497.3" r="4.6" fill="url(#gO)"/><circle cx="443.5" cy="504.2" r="7.7" fill="url(#gB)"/><circle cx="486.2" cy="503.0" r="7.7" fill="url(#gB)"/><circle cx="445.8" cy="528.5" r="4.6" fill="url(#gO)"/><circle cx="487.3" cy="528.5" r="4.6" fill="url(#gO)"/><circle cx="443.5" cy="552.7" r="7.7" fill="url(#gB)"/><circle cx="486.2" cy="552.7" r="7.7" fill="url(#gB)"/><circle cx="425.0" cy="562.0" r="4.6" fill="url(#gO)"/><circle cx="432.0" cy="562.0" r="4.6" fill="url(#gO)"/><circle cx="467.7" cy="562.0" r="4.6" fill="url(#gO)"/><circle cx="475.8" cy="562.0" r="4.6" fill="url(#gO)"/><circle cx="429.6" cy="587.3" r="7.7" fill="url(#gB)"/><circle cx="472.3" cy="587.3" r="7.7" fill="url(#gB)"/><circle cx="444.6" cy="595.4" r="4.8" fill="url(#gN)"/><circle cx="487.3" cy="595.4" r="4.8" fill="url(#gN)"/><circle cx="443.5" cy="626.0" r="7.7" fill="url(#gB)"/><circle cx="486.2" cy="625.6" r="7.7" fill="url(#gB)"/><circle cx="428.5" cy="636.2" r="4.8" fill="url(#gN)"/><circle cx="471.2" cy="636.2" r="4.8" fill="url(#gN)"/><circle cx="428.5" cy="666.2" r="7.7" fill="url(#gB)"/><circle cx="471.2" cy="665.0" r="7.7" fill="url(#gB)"/><circle cx="414.6" cy="675.4" r="4.8" fill="url(#gN)"/><circle cx="456.2" cy="675.4" r="4.8" fill="url(#gN)"/><circle cx="414.6" cy="704.2" r="7.7" fill="url(#gB)"/><circle cx="456.2" cy="704.2" r="7.7" fill="url(#gB)"/><circle cx="428.5" cy="713.5" r="4.8" fill="url(#gN)"/><circle cx="470.0" cy="713.5" r="4.8" fill="url(#gN)"/><circle cx="428.5" cy="742.3" r="7.7" fill="url(#gB)"/><circle cx="470.0" cy="742.3" r="7.7" fill="url(#gB)"/><circle cx="442.3" cy="752.7" r="4.8" fill="url(#gN)"/><circle cx="485.0" cy="752.7" r="4.8" fill="url(#gN)"/><circle cx="442.3" cy="781.5" r="7.7" fill="url(#gB)"/><circle cx="485.0" cy="781.5" r="7.7" fill="url(#gB)"/><circle cx="428.5" cy="790.8" r="4.8" fill="url(#gN)"/><circle cx="471.2" cy="790.8" r="4.8" fill="url(#gN)"/>
</g>
<line x1="278" y1="692.7" x2="497" y2="692.7" stroke="#111" stroke-width="2.9" stroke-dasharray="8.2 6.3" stroke-dashoffset="3.2"/>
<text x="501" y="601" style="font-family:'Liberation Serif',serif;stroke:#111;stroke-width:0.3px;font-size:36px" fill="#111">1</text>
<text x="501" y="640.5" style="font-family:'Liberation Serif',serif;stroke:#111;stroke-width:0.3px;font-size:36px" fill="#111">2</text>
<text x="501" y="679.5" style="font-family:'Liberation Serif',serif;stroke:#111;stroke-width:0.3px;font-size:36px" fill="#111">3</text>
<text x="501" y="719" style="font-family:'Liberation Serif',serif;stroke:#111;stroke-width:0.3px;font-size:36px" fill="#111">4</text>
<text x="501" y="758" style="font-family:'Liberation Serif',serif;stroke:#111;stroke-width:0.3px;font-size:36px" fill="#111">5</text>
<text x="501" y="797" style="font-family:'Liberation Serif',serif;stroke:#111;stroke-width:0.3px;font-size:36px" fill="#111">6</text>
<svg x="74.0" y="909.0" width="329.0" height="315.5999999999999" viewBox="74.0 909.0 329.0 315.5999999999999" overflow="hidden">
<rect x="74.0" y="909.0" width="329.0" height="315.5999999999999" fill="#2e3388"/>
<path d="M387 906L405.8 906 406 906.5 406 1227 275.3 1227 275.4 1213 275.9 1207 275.2 1189 275.9 1178 275.8 1165 276.4 1157 276.1 1150 276.6 1144 275.4 1134 275.4 1123 276.5 1116 275.4 1105 275.4 1075 275.8 1066 278 1059 278.2 1027 279.2 1023 278.7 1022 279 1019.9 280 1020.2 280.1 1019 279.4 1015 279.1 1008 279.3 986 281 983.7 284 981.7 285.7 980 287.2 973 288.1 971 292.5 967 294 964.1 295 963.8 295.7 960 295.3 954 295.5 949 296 947.6 297.4 946 296.1 945 297 944.6 298 945.5 298.5 945 298.1 944 299.2 943 301 939 303 937.4 305.3 938 308 943.3 310 944.8 320.9 945 315 945.6 314.3 946 317 946.6 322 946.3 327 947.1 331 945.2 337 944.8 339 943.3 341 938.9 342 939.8 344 939 346 939.1 348 943.4 349 944.4 350.9 945 349.9 946 351 946.4 354.4 946 352.4 945 357 944.7 363 944.9 365 944 368 938.3 370 937.3 372 938.3 375 943.3 378 944.3 379 944 378.3 943 379 942.4 380 943.3 382.6 940 382 939.6 381 940.3 380.7 940 382 938.2 383 939.3 384.4 937 383.8 936 385 935.9 385.3 935 384.7 934 385.2 922 386.5 916 386.6 906ZM83 935L106 935.1 109 935.7 111.4 937 113.1 939 115 943 119 945.3 120.4 947 120.9 950 120.5 959 121.3 964 122 965.1 124 966.6 130 968.6 132.1 970 134.8 974 136.2 979 136.9 986 137.4 1019 136.8 1029 135 1032.6 133 1033.8 127.3 1036 122.2 1040 121.6 1042 122.6 1043 124 1043.3 133 1044.4 135.4 1046 136.8 1049 136.9 1065 136.5 1069 135.5 1072 134 1074.7 132 1076.9 129 1078.5 124 1080 122.5 1081 122.3 1082 124 1083 132 1083.9 134 1084.7 135.3 1086 136.3 1088 136.8 1091 136.5 1105 135.5 1109 134 1111 128 1114 122.2 1119 121.6 1121 122.5 1122 124 1122.5 133 1123.7 135.7 1126 136.7 1130 136.6 1143 135.7 1148 134.5 1150 127.4 1154 122.6 1158 121.5 1160 121.9 1161 124 1162 132 1163.3 134 1164.4 135.2 1166 136.1 1170 136.2 1185 135.1 1189 133 1190.8 131 1191.4 124 1192.1 121.9 1193 121.4 1194 122 1195.8 123.1 1197 128 1201 134 1203.8 135.6 1206 136.3 1210 136.3 1227 71 1227 71 935.2ZM342 937.8L344 937.4 345.1 938 344 939 342 938.3ZM294 947.7L294.4 950 294 952.4Z" fill="#2e3488" fill-rule="evenodd" stroke="#2a2a2a" stroke-width="0.7"/>
<path d="M390 921.8L391 922.5 391.4 924 391 926.4 390 926.8 388.9 924 389 922.7ZM391 934.7L394 936.5 399 936 403 938.1 406 938.5 406 1227 277.6 1227 277.8 1207 277.1 1191 278.3 1181 278 1164 279.1 1155 278.4 1149 278.5 1142 277.6 1126 278.4 1116 277.5 1102 278.5 1079 278.1 1066 279.2 1054 280.5 1046 280 1036 280.4 1028 283.5 1019 282 1005 282.2 998 281.6 991 282.2 988 287.8 982 291 973.8 296 968.9 298.2 966 299 963 299.1 955 300 952.9 302 951.2 308 950.3 310 950.9 311 951.7 312.3 954 313 957 313.3 966 314.3 967 316 967.3 318 966.5 319.4 965 321.2 960 322 955 323 953.2 325 952.2 328 951.9 334 950.3 342 952.4 347 951 348 951.1 351.5 953 352.5 954 353.2 956 352.1 962 352.7 964 355 966.3 358 966.5 359.9 965 360.6 963 359.3 956 359.7 952 360.5 951 362 950.4 366 950.5 372.2 953 372.9 955 373 958 372.2 965 374 967 378 967.6 379.7 967 380.6 966 381.6 963 382.3 958 381.5 951 381.8 949 388.1 941 390 935.8ZM72 938.8L89 938.4 104 938.6 106.1 939 107.8 941 107.4 948 107.8 950 109 951.4 113 953 114 954 114.6 956 114.2 958 113.5 959 110 960.9 108.8 962 108.2 964 108.5 965 109.3 966 111 966.8 119 967.6 129 972.9 132.3 976 134.2 981 135 987 135.1 1006 135.7 1019 135.4 1026 134.8 1029 133.6 1031 132 1032 122.7 1035 118.9 1037 116 1040 115.4 1042 116.1 1043 118 1044 121 1044.9 132 1046.2 134.3 1048 135.2 1051 135.1 1064 134.5 1068 133.2 1071 130 1073.7 118.6 1079 116.3 1081 116.1 1082 117.1 1083 121 1084.4 131 1085.9 133 1086.9 133.9 1088 134.6 1090 134.8 1094 134.7 1101 134 1106 133.1 1108 132 1109.1 123.7 1113 118.8 1116 115.9 1119 115.4 1121 116.2 1122 118.1 1123 121.2 1124 132 1125.7 133.6 1127 134.5 1129 134.7 1140 134.3 1144 133.4 1147 131.3 1149 124.6 1152 119.4 1155 116.3 1158 115.4 1160 115.7 1161 117.1 1162 119.7 1163 131 1165.6 132.8 1167 133.6 1169 133.9 1184 133 1187.4 132 1188.3 130 1189.1 123 1190 119.4 1191 115.9 1193 115.3 1194 115.4 1195 116.7 1197 120 1200 125.6 1203 131 1205 133.3 1207 133.9 1210 134 1227 71 1227 71 938.8ZM84 961L82.8 962 81.8 964 82.6 966 84 966.8 91 966.9 93 966 93.6 965 93.5 963 91 960.7 87 960.3Z" fill="#4760a8" fill-rule="evenodd" stroke="#2a2a2a" stroke-width="0.7"/>
<path d="M72 943.6L78 943.9 79.9 945 80.5 946 81.1 949 80.9 956 80 958.1 78 959.7 76 960.2 71 960.3 71 943.6ZM394 943.9L397 943.1 402 945 406 944.7 406 1227 279.9 1227 279.8 1212 278.8 1192 280.8 1183 279.7 1173 279.5 1166 280 1162 281.9 1155 280.4 1148 279.3 1125 280 1115 279.5 1102 279.7 1090 280.6 1081 280.5 1065 282.6 1047 282.2 1030 283 1026.5 286.9 1021 287.6 1018 286.4 1008 287.7 996 287.1 989 287.6 987 293 977.5 302 968.1 303 967.6 304 967.7 308.7 970 313 970.6 318 970 323 968.6 329 969 337 967.1 339 967.4 342 968.6 346 966.9 354 970.1 358 969.8 364 968 371 970.1 379 971.6 381 971.4 384 969 386.7 965 386.6 952 387.6 948 389.4 946ZM395.8 964L396.3 964 396 963.7ZM96 944.7L98 944 100 944.7 101 946 101.5 948 101.4 953 100.7 957 99.5 959 98 959.5 97 959.3 95.6 958 94.5 955 94.6 948 95.1 946ZM304 954.9L306 955.5 306.5 957 305.8 958 304 959 303 958.9 302.2 957 303 955.3ZM72 969.2L77 969.3 83 970.4 88 970.6 93 970.4 99 969.3 103 969.2 110 970.4 118 970.7 121 971.8 129.6 977 131.8 980 133 983.7 133.5 988 133.6 1006 134.6 1019 134.3 1025 133.8 1028 132.5 1030 131 1030.9 118.4 1034 114 1035.9 110.1 1039 108.6 1041 108.5 1042 109.3 1043 111.3 1044 115 1045.1 120 1046.1 131 1047.3 133 1048.7 133.9 1051 133.8 1063 133.2 1067 132 1069.4 129 1071.5 114.1 1078 110.8 1080 109.3 1082 110 1083 112.2 1084 122 1086.1 129 1087 132 1088.3 133 1090 133.3 1093 133.2 1100 132.2 1105 131.1 1107 129.6 1108 119 1112.2 113.6 1115 110.1 1118 108.8 1120 108.7 1121 109.3 1122 110.9 1123 114 1123.9 130.8 1127 132.2 1128 133.1 1130 133.1 1140 132.4 1144 131.4 1146 129 1147.7 118.1 1152 114.1 1154 110.7 1157 108.8 1160 108.9 1161 111 1162.4 128 1166.3 130 1167.2 131.4 1169 131.8 1172 131.9 1183 131 1186.1 129 1187.2 121 1188.7 113.7 1191 110 1192.6 108.7 1194 108.9 1195 110.2 1197 113.5 1200 119.3 1203 129.9 1207 131.1 1208 131.9 1211 131.9 1227 71 1227 71 969.2Z" fill="#84bccc" fill-rule="evenodd" stroke="#2a2a2a" stroke-width="0.7"/>
<path d="M406 967.6L406 1227 281.9 1227 281.8 1220 282.7 1212 280.4 1194 280.5 1191 281.3 1189 283 1187.6 287 1187.4 288 1187 288.7 1186 288.9 1184 287.8 1181 284 1179.3 283 1178.3 282 1175.9 281.4 1172 281.4 1167 282 1163.3 285.8 1157 286.4 1154 285.8 1152 283.8 1149 283.1 1147 281.9 1130 280.9 1124 282.2 1104 281.3 1091 282.9 1084 282.7 1073 284 1067.4 285 1065.3 288 1063.7 291 1060.4 292 1058.2 292.8 1054 293.2 1045 292.8 1033 293.3 1026 291.9 1018 291.1 1010 292 1002 292.1 987 293 984 295.7 980 298.4 977 301 975.4 305 974 310 974.6 318 973.3 327 975.2 336 973.5 342 974 347 972.5 352 974.2 361 972.5 367 974.2 375 973.8 380 974.7 384 973.4 389 969.1 391 969 395 970.9 400 971 402 970.3ZM72 973.5L86 973.3 118 974 122 975.6 126.5 979 130 983 131.2 986 131.6 1003 133.6 1019 133.2 1025 132.4 1028 131 1029.4 129 1030.2 114 1032.9 109 1034.7 106.8 1036 105 1038 103.8 1042 104.8 1044 106.9 1045 118 1047.1 128.7 1048 131.3 1049 132.6 1051 132.8 1053 132.8 1060 132 1065.3 131 1067.5 129.2 1069 112 1075.8 105 1079.8 103.9 1081 103.7 1082 105 1083.7 108.2 1085 127 1088.3 130 1089.2 131 1090.3 131.5 1092 131.2 1101 130 1103.9 127.7 1106 110.7 1113 106.9 1115 103.8 1118 102.5 1121 102.9 1122 104.3 1123 109 1124.6 129 1128.2 130.4 1129 131.4 1131 131.2 1140 130.2 1143 129 1144.5 122 1148.2 111 1151.7 103.7 1157 102.8 1158 102.1 1160 103 1162 104.5 1163 109 1164.2 125.2 1167 127.5 1168 129.1 1170 129.3 1180 128.7 1183 128 1184.3 124.6 1186 113 1189.4 106 1191 103.6 1192 102.2 1194 102.5 1196 103.2 1197 108.8 1201 125.6 1208 128.3 1210 129 1212 129.4 1217 128 1227 71 1227 71 973.5Z" fill="#7ab06a" fill-rule="evenodd" stroke="#2a2a2a" stroke-width="0.7"/>
<path d="M389 973.7L390 973.6 391 974.1 394 977.7 395 978.3 399 977.9 404 978.1 406 977.6 406 1227 294.4 1227 294.9 1217 293.2 1210 292.9 1206 295 1194.3 296.6 1188 294.6 1183 291.6 1171 294.2 1162 293 1157 292.9 1154 295.3 1148 295 1146 293.4 1143 292.8 1140 294.2 1132 294.6 1125 294.2 1107 292.9 1100 293.3 1098 295.5 1094 296 1091 295.3 1087 292.7 1083 292.1 1080 293 1068.8 293.9 1066 295.8 1063 296 1061 295.2 1048 296 1028 294.6 1017 295.6 1005 295.3 993 295.6 989 296.4 986 300 979.8 302 978.4 305 977.4 311 978.4 315 977.1 317 976.9 326 979.2 333 978.8 337 977.5 342 977.5 346 976.4 352 978.1 357 976.7 360 976.4 366 978 371 978.2 375 977.3 380 977.3 384 976.7 386 975.9ZM337.3 1150L335.3 1152 335 1154 335.8 1156 337 1157.3 339 1157.5 340.6 1156 341.7 1154 341.9 1151 341 1149.7 340 1149.3ZM79 976L85 975.6 105 976.2 111 977.6 118 977.6 120 978.6 121.3 981 120.5 989 120.9 1002 122.1 1004 124 1004.9 128 1006 130 1007.6 131 1009.9 132 1014.7 132.5 1019 132.3 1023 131.7 1026 130.3 1028 126 1029.5 112 1031 107 1032.6 104.7 1034 103.2 1036 101.6 1042 102 1044 102.7 1045 105 1046.3 118 1048.4 127 1049.1 129.9 1050 130.8 1051 131.3 1054 131.1 1061 130.2 1064 129 1065.7 121 1070.1 112 1072.5 102.8 1077 101 1078.5 100.2 1081 100.6 1083 101.4 1084 104 1085.5 111 1087.3 120 1088.3 125.3 1090 127 1091 127.7 1092 128 1094 127.8 1098 127.2 1100 123.7 1104 119.1 1107 113 1109.9 104.7 1112 98 1116.9 90.1 1118 88.9 1119 88.4 1121 89 1122.2 91 1123.2 98 1123.6 110 1126.5 119 1127.6 126.3 1130 127.4 1131 127.9 1133 127.4 1139 126.2 1141 123.2 1144 119 1146.6 111 1148 106 1150.8 104 1151.3 89 1151 84 1151.4 81.8 1153 81.2 1156 81.7 1161 84 1162.7 91 1164 98 1164.2 106 1165.7 119 1167 122.9 1168 124.8 1169 125.7 1170 126.2 1173 125.9 1179 124.5 1182 122.2 1184 112 1188 98 1190.3 84 1190.8 82 1192.2 81.2 1195 81.6 1201 82.2 1202 84 1203.2 87 1203.5 106 1203.4 114 1205.6 122.4 1210 125.2 1213 126.1 1217 125.5 1220 122.2 1225 121.7 1227 71 1227 71 976.1ZM285 1089.2L286 1090 286 1091 285 1092.8 284 1091ZM285 1116.1L286 1116.5 287 1120 286.4 1123 285 1124.3 283.9 1124 283.1 1121 284 1117.4ZM283 1191.6L284 1191.4 285.4 1193 285.2 1195 284 1196 283 1195.3 282.6 1194Z" fill="#76a832" fill-rule="evenodd" stroke="#2a2a2a" stroke-width="0.7"/>
<path d="M72 978.6L85 978.2 103 978.7 105 978.9 107 979.8 112.6 984 113.9 986 114.3 988 114.3 994 113.8 997 112.4 999 108.9 1002 108.5 1004 109 1004.9 111 1006 118 1006.1 125.8 1008 127.8 1009 129 1010.5 130 1013.2 131.1 1019 130.7 1023 129.3 1026 128 1027 125 1027.9 111 1028.7 106 1030.6 103.7 1032 102 1034 99.5 1041 99.4 1043 100.1 1045 103 1047.4 112 1048.7 118 1050.2 126 1050.9 127.8 1052 128.4 1054 128.4 1057 127.5 1061 126 1062.7 119.1 1068 110 1069.3 102 1071.8 98 1072.4 90 1072.2 83 1070.1 71 1070 71 978.6ZM83.5 1001L82.5 1002 82.2 1004 84 1005.5 86 1005.3 87 1004 86.6 1002 85 1000.7ZM304 980.8L307 980.8 311 982.5 315 980.9 317 980.5 325 982.2 329 982.6 333 983.9 338 982.5 342 983.7 347 981.1 351 982.4 356 982 365 983.7 369 983.1 372 983.2 378 981 382 980.3 390 982 394 985 395 985.1 398 983.6 400 983.3 404 986.1 406 986.7 406 1013.7 400 1016.8 397.9 1020 394 1023 393 1023.4 392 1022.6 390.4 1018 386.9 1013 386 1011 386 1005 388 994 387 991.6 385 990.9 381.2 993 379.7 995 379.4 1001 380.4 1009 379.8 1012 378 1015.3 376 1017.5 375 1017.8 370 1016.7 363 1016.8 361.7 1019 361.1 1025 361.3 1028 362 1030.4 364 1033.7 365 1034.5 366 1033.9 369 1029.6 370 1029 371 1029.1 374.4 1031 381 1031 387 1033.1 393 1031 397 1031.2 400 1030.7 406 1027.2 406 1227 345.5 1227 347.9 1219 346.1 1210 347.6 1201 344.8 1187 345.8 1177 347.9 1170 347.4 1160 348 1148 349 1144 352.1 1140 352.9 1138 352 1136.3 348.5 1134 347.2 1132 347 1129 348.3 1119 347.7 1116 344.9 1109 344.9 1107 347.4 1101 348 1094 347.8 1091 346.2 1086 345.5 1082 346.5 1074 346.7 1066 346 1064.7 337 1062.3 334 1063.1 333 1064.1 332.4 1066 335 1073.6 335.6 1077 332.8 1089 335.1 1105 334.7 1108 332.4 1113 332 1115 334.2 1121 334.7 1124 333.3 1131 333.5 1146 332 1153 332.5 1156 335 1161 335.3 1163 333.9 1171 334.1 1179 331.5 1185 330.9 1188 336.5 1200 334.4 1211 333.2 1227 314.4 1227 313.9 1221 314.2 1216 315 1212.6 317.2 1208 317 1206 315 1201.8 314 1201.2 310 1202.8 308.8 1202 308.5 1200 308.7 1195 309.4 1193 310.5 1192 313 1191.6 314.4 1190 314.6 1187 313.3 1179 313.9 1176 316 1171.5 316.4 1169 316 1166.5 313.9 1162 314.5 1154 312.1 1144 311.9 1141 312.4 1133 312.2 1124 314.5 1116 313.8 1103 314.8 1095 312 1078.5 311 1075 308.9 1071 312 1068.1 312.2 1066 311.1 1064 309 1061.9 308 1061.4 304 1062.1 302 1061.2 301 1060.2 298.3 1055 297.3 1047 298.7 1027 297.9 1019 298.6 1009 297.4 1000 297.5 996 300 985 301.9 982ZM322.5 1010L320 1013.6 316 1015.7 314 1017.8 311.4 1026 311.5 1029 312.3 1031 316.2 1035 316.5 1036 314 1038.2 312.5 1041 312.3 1044 313.5 1053 315.6 1061 317 1062.2 319 1062.6 322 1061.9 324 1060.4 324.8 1059 325.1 1056 324.4 1051 321.4 1046 321 1037.8 320 1036.5 318.8 1036 321 1035.6 327 1032.1 333 1031.4 334.2 1030 334.8 1027 333.9 1019 332 1012.7 331 1011.2 328 1010.5 325 1009.2ZM367.4 1051L366.2 1053 365.8 1055 365.6 1059 366.1 1061 366.7 1062 370.4 1065 373.1 1070 375 1072.2 378 1073.1 380 1072.4 381.1 1070 380.3 1067 378.9 1065 374.2 1061 370.7 1051 369 1050.2ZM366.9 1096L366 1098 366.1 1099 366.9 1100 370 1100.4 374 1101.9 375 1101.6 375.5 1099 374 1096.8 372 1096 368 1095.7ZM394.9 1130L395 1131.3 396.1 1130ZM320.8 1211L321 1213.9 323 1218.5 324 1217.8 323.6 1214 322 1211ZM72 1084.9L96 1084.9 111 1089.3 118.4 1090 120.5 1091 121.2 1092 121.5 1095 121.2 1099 119 1102.2 113.1 1107 111 1107.8 104 1108.4 96 1110.2 80 1109.3 71 1109.4 71 1084.9ZM303 1099.7L305 1099.6 306 1100.4 306.7 1102 307.8 1113 307.2 1119 307.6 1126 307.3 1129 306 1132.1 305 1132.9 303 1133.3 301 1132.6 299.7 1131 299.1 1124 299.4 1119 301.3 1112 300.3 1104 301 1101.8ZM72 1124.4L84 1124.4 90 1125.8 100 1126.2 105.2 1127 111 1128.7 119 1129.7 121 1131 121.4 1132 121.5 1136 121.1 1139 120 1140.9 118.7 1142 117 1142.6 111 1143.2 106 1146.8 104 1147.5 85 1147.5 77 1148.7 71 1148.9 71 1124.3ZM72 1163.7L78 1163.9 92 1167.5 104 1167.9 118.9 1169 120.8 1170 121.4 1171 121.7 1175 121.4 1178 120.3 1180 119 1181.3 113.9 1185 111.3 1186 100 1186.9 84 1187 77 1188.3 71 1188.4 71 1163.7ZM297 1167.7L298 1167.6 299.1 1169 299.1 1171 298 1172.3 296.4 1172 295.8 1171 295.9 1169ZM72 1205.6L77 1205.7 85 1207 105 1206.8 111 1207.3 114 1208.7 120 1213.7 121.3 1216 121.3 1218 120 1220.4 118 1221.7 112 1222 110 1222.9 108.3 1225 107.8 1227 71 1227 71 1205.6Z" fill="#94b62a" fill-rule="evenodd" stroke="#2a2a2a" stroke-width="0.7"/>
<path d="M94 982L99 981.7 103 982.4 105 983.6 106.9 986 107.7 990 107.3 996 106 998.1 103 1000.4 99 1001.3 94 1000.9 91 999.4 89.1 997 88.3 993 88.7 986 89.8 984 91 983ZM72 982.9L78 983.2 79.6 984 80.7 986 81.1 989 81 995 80 997.5 78 999.2 76 999.7 71 999.7 71 982.9ZM317 984L324 984.9 327 987 327.9 990 327.6 997 326 1001.5 324 1002.5 321 1002.4 311 1015.4 310 1016.5 307.2 1018 306.7 1019 306.3 1024 307.6 1033 306.3 1044 307 1052 306 1055.1 305 1055.9 304 1056 302.7 1055 301.6 1053 300.6 1046 300.8 1033 302.3 1024 302.6 1014 299.6 1002 299.3 999 299.7 995 301.5 988 303.4 985 306 984.5 311 986.4 313 986ZM347 987.8L349 987.7 356 989.5 359 991 360.2 993 360 996.1 356.9 1003 354 1006.3 350 1009 349 1008.9 346.8 1007 342 1005.7 340.7 1004 339.6 1000 339.8 995 341 992ZM402 991.8L406 991.1 406 1007.9 403 1007.9 401.8 1007 400.8 1005 400.3 995 400.8 993ZM72 1005.9L78 1006.2 83 1009 85 1009.5 88 1009.2 95 1006.8 98 1006.4 109 1009.5 118 1009.5 124 1010.2 125.7 1011 127 1013 128.2 1018 128 1020.9 127 1022.7 125 1024.1 118 1024.6 108 1026.7 102 1030.7 97 1037.9 94 1038.8 91 1038.8 89 1037.4 86.9 1033 85 1031.3 77 1032.9 71 1031.4 71 1005.9ZM348 1010.9L349 1010.1 350 1010.5 351.8 1013 357 1016.9 357.7 1018 358.7 1029 360.2 1036 359.6 1038 356 1040.2 354.8 1042 354.4 1050 352.4 1055 351 1056.2 347 1056.8 343 1058.3 342 1057.8 341 1056.5 339.5 1052 339.4 1048 340.7 1041 338.9 1033 338.8 1029 341.6 1017 344 1014.1ZM394 1011.8L395 1012 395 1013 394 1013.4 393.7 1013ZM405 1031.6L406 1031.3 406 1054.3 404 1054.2 402 1052.9 400.3 1050 399.7 1047 400.4 1036 401.6 1034ZM72 1047.3L78 1047.7 85 1047.1 96 1047.2 103 1049.7 112 1050.8 113.8 1052 114.2 1053 114.3 1058 113.9 1061 113 1062.5 111 1063.5 104 1064 102.4 1065 99.6 1068 96.1 1069 92 1068.9 90 1068.3 86.5 1065 85 1064.1 77 1064.9 71 1064.1 71 1047.3ZM325 1069L326.6 1071 327.1 1074 326.5 1077 326 1077.6 325 1077.7 323.4 1076 322.9 1073 323.5 1070 324 1069.1ZM390 1076L394 1075.1 395.1 1076 395.7 1079 394.3 1086 393.2 1099 392 1102 389.6 1105 388.7 1107 389.4 1109 392.3 1113 392.9 1116 392.8 1120 392 1123 388 1130 386.8 1138 386.1 1140 384 1142.1 382 1142.4 381 1141.9 380 1140 380.8 1132 379.1 1122 379 1110 381 1100 380.2 1093 380.2 1083 381 1080.7 384 1077.8 386 1076.6ZM72 1088.4L97 1088.3 105 1089.8 106.9 1091 107.5 1092 107.7 1096 107.4 1100 106 1102.3 104 1103 86 1103 78 1104.4 71 1103.5 71 1088.4ZM355 1110.9L359 1110.9 364 1110.2 366 1111.5 368.6 1121 368.3 1124 367 1126.4 366 1126.9 364 1126.9 359 1124.2 358 1124.5 354 1127.8 353 1127.9 352.2 1127 351.9 1124 353 1118 353.1 1113 354 1111.4ZM72 1127.9L85 1127.8 104.2 1129 106.5 1130 107.6 1132 107.7 1136 107.2 1139 105 1141.9 103 1142.6 86 1142.7 78 1143.8 71 1143 71 1127.8ZM406 1130.6L406 1132.2 405.5 1132 405.4 1131ZM361 1140.5L363 1140.1 366 1141.1 367.6 1143 368.9 1146 370 1146.8 380 1149.1 388 1149 391 1149.9 392 1150.9 392.7 1153 392.6 1155 391.5 1157 388 1160.7 386 1166.7 385 1167.3 382 1165.4 380 1165.5 376.6 1168 373 1172.2 371 1172.5 370 1171.9 367 1167.4 361.4 1164 358 1160.5 357.6 1163 359.7 1174 359 1175 353 1172.5 352.1 1171 351.8 1169 353 1160 351.5 1152 351.7 1148 352.4 1146 354 1144ZM322 1164.7L324 1164 326 1164.4 327.7 1166 328.4 1168 328.4 1170 327.5 1172 326 1173.2 324 1173.9 322 1173.9 321 1173 320.3 1171 320.4 1167ZM72 1167.1L78 1167.2 84.2 1168 86.6 1169 89 1171.1 91 1172.1 98.8 1173 100 1174 100.8 1176 100.8 1178 100.3 1180 99 1181.4 96 1182.1 71 1181.9 71 1167.1ZM359 1179.4L360 1179.5 363 1183.6 364 1183.7 372 1181.5 375 1181.3 377.8 1182 379 1183 382 1189.2 385 1191.1 386 1190.8 389 1187.9 391 1186.9 395 1187.5 399 1186.8 404 1188.7 406 1189 406 1199.2 402 1198.3 399 1199.1 395.7 1205 394.1 1211 393 1211.9 392 1211.9 390.3 1211 388.8 1208 386 1205.2 385 1204.5 383 1204.5 377 1206.3 375 1207.5 372 1211.6 369.5 1214 366.7 1219 365 1219.7 362 1220.1 359 1222.5 358 1222.7 356 1222.2 353.9 1220 351 1210 351.2 1206 354.2 1197 354.7 1194 354.3 1190 352.5 1185 352.8 1184ZM328 1197.6L329 1198.1 329.3 1200 329 1201.4 328 1202.8 327 1202.1 326.7 1200 327 1198.5ZM80 1212L104 1212 106 1212.8 107 1214 107.5 1216 107.2 1218 105.3 1221 103 1222 71 1222.1 71 1212.1ZM400 1221.8L401 1222.2 402 1224 402.7 1227 397 1227 398 1224.3Z" fill="#e6e244" fill-rule="evenodd" stroke="#2a2a2a" stroke-width="0.7"/>
<path d="M96 985.7L99 985.5 100 986 101.3 988 101.4 995 100.1 997 99 997.5 96 997.3 95 996.6 94.1 995 94.2 988ZM305 989.8L307 990 312.8 992 313.8 993 314.6 995 314.9 1001 314.4 1004 313 1005.8 310 1007.2 307 1007.4 305 1006.8 303.3 1005 302.5 1003 301.8 999 302 995.5 303 992 304 990.4ZM72 1009.4L78 1009.7 80 1010.9 83 1013.7 87 1014.7 91 1014.4 96 1010.7 99 1010.4 105 1014.5 112 1015.2 113.7 1017 113.8 1020 112 1021.9 105 1024.2 98 1030.1 97 1030.3 96 1029.8 92.5 1025 90 1023.7 84 1024.5 79 1028.8 76 1029 71 1025.1 71 1009.4ZM76 1054.8L78 1054.7 80.1 1056 80.6 1059 79 1060.8 76 1061 74.5 1060 73.9 1059 74 1056.7ZM77 1093.8L79 1094.2 80 1095 80.7 1097 80.4 1099 79.4 1100 78 1100.5 75.1 1100 73.7 1098 74 1096 74.6 1095ZM76 1133.5L79 1133.7 80.3 1135 80.6 1138 79 1139.7 76 1139.9 74.5 1139 73.9 1138 74.2 1135ZM372 1153.5L374 1154 374.8 1155 375.3 1156 375 1157.4 373 1157.5 371 1156.2 371 1154.6ZM370 1193L372 1194 373.5 1196 375.4 1201 374.4 1203 372 1205.6 370 1206.9 368 1207.2 366 1206.2 365.4 1205 365 1200 365.8 1197 367 1194.9 368 1193.8Z" fill="#c8692a" fill-rule="evenodd" stroke="#2a2a2a" stroke-width="0.7"/>
<path d="M97 1015.8L99 1016.1 100.6 1019 100 1021.8 98 1023.2 96 1022.1 95 1020 95.2 1018Z" fill="#b01e24" fill-rule="evenodd" stroke="#2a2a2a" stroke-width="0.7"/>
</svg>
<path d="M104.4 909.0v5M104.4 1224.6v-5M137.6 909.0v5M137.6 1224.6v-5M170.8 909.0v5M170.8 1224.6v-5M204.0 909.0v5M204.0 1224.6v-5M237.2 909.0v5M237.2 1224.6v-5M270.4 909.0v5M270.4 1224.6v-5M303.6 909.0v5M303.6 1224.6v-5M336.8 909.0v5M336.8 1224.6v-5M370.0 909.0v5M370.0 1224.6v-5M74.0 1185.1h5M403.0 1185.1h-5M74.0 1145.7h5M403.0 1145.7h-5M74.0 1106.2h5M403.0 1106.2h-5M74.0 1066.8h5M403.0 1066.8h-5M74.0 1027.3h5M403.0 1027.3h-5M74.0 987.9h5M403.0 987.9h-5M74.0 948.5h5M403.0 948.5h-5" stroke="#111" stroke-width="1" fill="none"/>
<rect x="74.0" y="909.0" width="329.0" height="315.5999999999999" fill="none" stroke="#111" stroke-width="1.8"/>
<text x="52.7" y="918.7" text-anchor="middle" style="font-family:'Liberation Serif',serif;stroke:#111;stroke-width:0.3px;font-size:36px" fill="#111">10</text>
<text x="59.6" y="1000.9" text-anchor="middle" style="font-family:'Liberation Serif',serif;stroke:#111;stroke-width:0.3px;font-size:36px" fill="#111">5</text>
<text x="61.6" y="1080.1" text-anchor="middle" style="font-family:'Liberation Serif',serif;stroke:#111;stroke-width:0.3px;font-size:36px" fill="#111">0</text>
<text x="48.85" y="1156.5" text-anchor="middle" style="font-family:'Liberation Serif',serif;stroke:#111;stroke-width:0.3px;font-size:36px" fill="#111">−5</text>
<text x="42.7" y="1236.2" text-anchor="middle" style="font-family:'Liberation Serif',serif;stroke:#111;stroke-width:0.3px;font-size:36px" fill="#111">−10</text>
<text x="134.6" y="1255.5" text-anchor="middle" style="font-family:'Liberation Serif',serif;stroke:#111;stroke-width:0.3px;font-size:36px" fill="#111">−1</text>
<text x="204.2" y="1255.5" text-anchor="middle" style="font-family:'Liberation Serif',serif;stroke:#111;stroke-width:0.3px;font-size:36px" fill="#111">0</text>
<text x="270.6" y="1255.5" text-anchor="middle" style="font-family:'Liberation Serif',serif;stroke:#111;stroke-width:0.3px;font-size:36px" fill="#111">1</text>
<text x="337.8" y="1255.5" text-anchor="middle" style="font-family:'Liberation Serif',serif;stroke:#111;stroke-width:0.3px;font-size:36px" fill="#111">2</text>
<text x="404.5" y="1255.5" text-anchor="middle" style="font-family:'Liberation Serif',serif;stroke:#111;stroke-width:0.3px;font-size:36px" fill="#111">3</text>
<text x="151.8" y="1283.9" style="font-family:'Liberation Serif',serif;stroke:#111;stroke-width:0.3px;font-size:36px" fill="#111">Energy (eV)</text>
<text transform="translate(27.7 1072.1) rotate(-90)" text-anchor="middle" style="font-family:'Liberation Serif',serif;stroke:#111;stroke-width:0.3px;font-size:36px" fill="#111"><tspan font-style="italic">z</tspan> (Å)</text>
<text x="30" y="875" style="font-family:'Liberation Sans',sans-serif;font-size:34px" fill="#111">(c)</text>
<clipPath id="clc"><rect x="380" y="908.0" width="150" height="317.5999999999999"/></clipPath><g clip-path="url(#clc)">
<line x1="448.0" y1="905.0" x2="448.6" y2="914.2" stroke="#3645ad" stroke-width="3.7"/><line x1="448.0" y1="905.0" x2="448.6" y2="914.2" stroke="#8f98e6" stroke-width="1.1"/><line x1="448.6" y1="914.2" x2="449.2" y2="923.5" stroke="#cc2a2a" stroke-width="3.7"/><line x1="448.6" y1="914.2" x2="449.2" y2="923.5" stroke="#f08a8a" stroke-width="1.1"/><line x1="488.5" y1="905.0" x2="489.1" y2="914.8" stroke="#3645ad" stroke-width="3.7"/><line x1="488.5" y1="905.0" x2="489.1" y2="914.8" stroke="#8f98e6" stroke-width="1.1"/><line x1="489.1" y1="914.8" x2="489.6" y2="924.6" stroke="#cc2a2a" stroke-width="3.7"/><line x1="489.1" y1="914.8" x2="489.6" y2="924.6" stroke="#f08a8a" stroke-width="1.1"/><line x1="449.2" y1="923.5" x2="449.2" y2="936.1" stroke="#cc2a2a" stroke-width="3.7"/><line x1="449.2" y1="923.5" x2="449.2" y2="936.1" stroke="#f08a8a" stroke-width="1.1"/><line x1="449.2" y1="936.1" x2="449.2" y2="948.8" stroke="#3645ad" stroke-width="3.7"/><line x1="449.2" y1="936.1" x2="449.2" y2="948.8" stroke="#8f98e6" stroke-width="1.1"/><line x1="489.6" y1="924.6" x2="489.6" y2="936.7" stroke="#cc2a2a" stroke-width="3.7"/><line x1="489.6" y1="924.6" x2="489.6" y2="936.7" stroke="#f08a8a" stroke-width="1.1"/><line x1="489.6" y1="936.7" x2="489.6" y2="948.8" stroke="#3645ad" stroke-width="3.7"/><line x1="489.6" y1="936.7" x2="489.6" y2="948.8" stroke="#8f98e6" stroke-width="1.1"/><line x1="493.0" y1="924.6" x2="491.3" y2="936.7" stroke="#cc2a2a" stroke-width="3.7"/><line x1="493.0" y1="924.6" x2="491.3" y2="936.7" stroke="#f08a8a" stroke-width="1.1"/><line x1="491.3" y1="936.7" x2="489.6" y2="948.8" stroke="#3645ad" stroke-width="3.7"/><line x1="491.3" y1="936.7" x2="489.6" y2="948.8" stroke="#8f98e6" stroke-width="1.1"/><line x1="449.2" y1="948.8" x2="437.7" y2="951.7" stroke="#3645ad" stroke-width="3.7"/><line x1="449.2" y1="948.8" x2="437.7" y2="951.7" stroke="#8f98e6" stroke-width="1.1"/><line x1="437.7" y1="951.7" x2="426.2" y2="954.6" stroke="#cc2a2a" stroke-width="3.7"/><line x1="437.7" y1="951.7" x2="426.2" y2="954.6" stroke="#f08a8a" stroke-width="1.1"/><line x1="449.2" y1="948.8" x2="437.7" y2="954.6" stroke="#3645ad" stroke-width="3.7"/><line x1="449.2" y1="948.8" x2="437.7" y2="954.6" stroke="#8f98e6" stroke-width="1.1"/><line x1="437.7" y1="954.6" x2="426.2" y2="960.4" stroke="#cc2a2a" stroke-width="3.7"/><line x1="437.7" y1="954.6" x2="426.2" y2="960.4" stroke="#f08a8a" stroke-width="1.1"/><line x1="449.2" y1="948.8" x2="459.0" y2="952.3" stroke="#3645ad" stroke-width="3.7"/><line x1="449.2" y1="948.8" x2="459.0" y2="952.3" stroke="#8f98e6" stroke-width="1.1"/><line x1="459.0" y1="952.3" x2="468.8" y2="955.8" stroke="#cc2a2a" stroke-width="3.7"/><line x1="459.0" y1="952.3" x2="468.8" y2="955.8" stroke="#f08a8a" stroke-width="1.1"/><line x1="448.0" y1="966.2" x2="437.1" y2="960.4" stroke="#3645ad" stroke-width="3.7"/><line x1="448.0" y1="966.2" x2="437.1" y2="960.4" stroke="#8f98e6" stroke-width="1.1"/><line x1="437.1" y1="960.4" x2="426.2" y2="954.6" stroke="#cc2a2a" stroke-width="3.7"/><line x1="437.1" y1="960.4" x2="426.2" y2="954.6" stroke="#f08a8a" stroke-width="1.1"/><line x1="448.0" y1="966.2" x2="437.1" y2="963.3" stroke="#3645ad" stroke-width="3.7"/><line x1="448.0" y1="966.2" x2="437.1" y2="963.3" stroke="#8f98e6" stroke-width="1.1"/><line x1="437.1" y1="963.3" x2="426.2" y2="960.4" stroke="#cc2a2a" stroke-width="3.7"/><line x1="437.1" y1="963.3" x2="426.2" y2="960.4" stroke="#f08a8a" stroke-width="1.1"/><line x1="448.0" y1="966.2" x2="458.4" y2="961.0" stroke="#3645ad" stroke-width="3.7"/><line x1="448.0" y1="966.2" x2="458.4" y2="961.0" stroke="#8f98e6" stroke-width="1.1"/><line x1="458.4" y1="961.0" x2="468.8" y2="955.8" stroke="#cc2a2a" stroke-width="3.7"/><line x1="458.4" y1="961.0" x2="468.8" y2="955.8" stroke="#f08a8a" stroke-width="1.1"/><line x1="468.8" y1="955.8" x2="479.2" y2="952.3" stroke="#cc2a2a" stroke-width="3.7"/><line x1="468.8" y1="955.8" x2="479.2" y2="952.3" stroke="#f08a8a" stroke-width="1.1"/><line x1="479.2" y1="952.3" x2="489.6" y2="948.8" stroke="#3645ad" stroke-width="3.7"/><line x1="479.2" y1="952.3" x2="489.6" y2="948.8" stroke="#8f98e6" stroke-width="1.1"/><line x1="468.8" y1="955.8" x2="479.8" y2="959.8" stroke="#cc2a2a" stroke-width="3.7"/><line x1="468.8" y1="955.8" x2="479.8" y2="959.8" stroke="#f08a8a" stroke-width="1.1"/><line x1="479.8" y1="959.8" x2="490.8" y2="963.8" stroke="#3645ad" stroke-width="3.7"/><line x1="479.8" y1="959.8" x2="490.8" y2="963.8" stroke="#8f98e6" stroke-width="1.1"/><line x1="489.6" y1="948.8" x2="490.8" y2="952.9" stroke="#3645ad" stroke-width="3.7"/><line x1="489.6" y1="948.8" x2="490.8" y2="952.9" stroke="#8f98e6" stroke-width="1.1"/><line x1="490.8" y1="952.9" x2="492.0" y2="957.0" stroke="#cc2a2a" stroke-width="3.7"/><line x1="490.8" y1="952.9" x2="492.0" y2="957.0" stroke="#f08a8a" stroke-width="1.1"/><line x1="490.8" y1="963.8" x2="491.4" y2="960.4" stroke="#3645ad" stroke-width="3.7"/><line x1="490.8" y1="963.8" x2="491.4" y2="960.4" stroke="#8f98e6" stroke-width="1.1"/><line x1="491.4" y1="960.4" x2="492.0" y2="957.0" stroke="#cc2a2a" stroke-width="3.7"/><line x1="491.4" y1="960.4" x2="492.0" y2="957.0" stroke="#f08a8a" stroke-width="1.1"/><line x1="449.2" y1="948.8" x2="449.2" y2="954.0" stroke="#3645ad" stroke-width="3.7"/><line x1="449.2" y1="948.8" x2="449.2" y2="954.0" stroke="#8f98e6" stroke-width="1.1"/><line x1="449.2" y1="954.0" x2="449.2" y2="959.2" stroke="#cc2a2a" stroke-width="3.7"/><line x1="449.2" y1="954.0" x2="449.2" y2="959.2" stroke="#f08a8a" stroke-width="1.1"/><line x1="449.2" y1="959.2" x2="448.6" y2="962.7" stroke="#cc2a2a" stroke-width="3.7"/><line x1="449.2" y1="959.2" x2="448.6" y2="962.7" stroke="#f08a8a" stroke-width="1.1"/><line x1="448.6" y1="962.7" x2="448.0" y2="966.2" stroke="#3645ad" stroke-width="3.7"/><line x1="448.6" y1="962.7" x2="448.0" y2="966.2" stroke="#8f98e6" stroke-width="1.1"/><line x1="449.2" y1="948.8" x2="448.6" y2="957.5" stroke="#3645ad" stroke-width="3.7"/><line x1="449.2" y1="948.8" x2="448.6" y2="957.5" stroke="#8f98e6" stroke-width="1.1"/><line x1="448.6" y1="957.5" x2="448.0" y2="966.2" stroke="#3645ad" stroke-width="3.7"/><line x1="448.6" y1="957.5" x2="448.0" y2="966.2" stroke="#8f98e6" stroke-width="1.1"/><line x1="489.6" y1="948.8" x2="490.2" y2="956.3" stroke="#3645ad" stroke-width="3.7"/><line x1="489.6" y1="948.8" x2="490.2" y2="956.3" stroke="#8f98e6" stroke-width="1.1"/><line x1="490.2" y1="956.3" x2="490.8" y2="963.8" stroke="#3645ad" stroke-width="3.7"/><line x1="490.2" y1="956.3" x2="490.8" y2="963.8" stroke="#8f98e6" stroke-width="1.1"/><line x1="448.0" y1="966.2" x2="448.6" y2="978.3" stroke="#3645ad" stroke-width="3.7"/><line x1="448.0" y1="966.2" x2="448.6" y2="978.3" stroke="#8f98e6" stroke-width="1.1"/><line x1="448.6" y1="978.3" x2="449.2" y2="990.4" stroke="#cc2a2a" stroke-width="3.7"/><line x1="448.6" y1="978.3" x2="449.2" y2="990.4" stroke="#f08a8a" stroke-width="1.1"/><line x1="449.2" y1="990.4" x2="446.9" y2="1002.0" stroke="#cc2a2a" stroke-width="3.7"/><line x1="449.2" y1="990.4" x2="446.9" y2="1002.0" stroke="#f08a8a" stroke-width="1.1"/><line x1="446.9" y1="1002.0" x2="444.6" y2="1013.5" stroke="#3645ad" stroke-width="3.7"/><line x1="446.9" y1="1002.0" x2="444.6" y2="1013.5" stroke="#8f98e6" stroke-width="1.1"/><line x1="449.2" y1="990.4" x2="450.4" y2="1002.0" stroke="#cc2a2a" stroke-width="3.7"/><line x1="449.2" y1="990.4" x2="450.4" y2="1002.0" stroke="#f08a8a" stroke-width="1.1"/><line x1="450.4" y1="1002.0" x2="451.5" y2="1013.5" stroke="#3645ad" stroke-width="3.7"/><line x1="450.4" y1="1002.0" x2="451.5" y2="1013.5" stroke="#8f98e6" stroke-width="1.1"/><line x1="490.8" y1="963.8" x2="492.5" y2="975.9" stroke="#3645ad" stroke-width="3.7"/><line x1="490.8" y1="963.8" x2="492.5" y2="975.9" stroke="#8f98e6" stroke-width="1.1"/><line x1="492.5" y1="975.9" x2="494.2" y2="988.0" stroke="#cc2a2a" stroke-width="3.7"/><line x1="492.5" y1="975.9" x2="494.2" y2="988.0" stroke="#f08a8a" stroke-width="1.1"/><line x1="494.2" y1="988.0" x2="490.8" y2="1001.3" stroke="#cc2a2a" stroke-width="3.7"/><line x1="494.2" y1="988.0" x2="490.8" y2="1001.3" stroke="#f08a8a" stroke-width="1.1"/><line x1="490.8" y1="1001.3" x2="487.3" y2="1014.6" stroke="#3645ad" stroke-width="3.7"/><line x1="490.8" y1="1001.3" x2="487.3" y2="1014.6" stroke="#8f98e6" stroke-width="1.1"/><line x1="494.2" y1="988.0" x2="493.6" y2="1000.8" stroke="#cc2a2a" stroke-width="3.7"/><line x1="494.2" y1="988.0" x2="493.6" y2="1000.8" stroke="#f08a8a" stroke-width="1.1"/><line x1="493.6" y1="1000.8" x2="493.0" y2="1013.5" stroke="#3645ad" stroke-width="3.7"/><line x1="493.6" y1="1000.8" x2="493.0" y2="1013.5" stroke="#8f98e6" stroke-width="1.1"/><line x1="470.0" y1="995.0" x2="460.8" y2="1004.2" stroke="#cc2a2a" stroke-width="3.7"/><line x1="470.0" y1="995.0" x2="460.8" y2="1004.2" stroke="#f08a8a" stroke-width="1.1"/><line x1="460.8" y1="1004.2" x2="451.5" y2="1013.5" stroke="#3645ad" stroke-width="3.7"/><line x1="460.8" y1="1004.2" x2="451.5" y2="1013.5" stroke="#8f98e6" stroke-width="1.1"/><line x1="470.0" y1="995.0" x2="478.6" y2="1004.8" stroke="#cc2a2a" stroke-width="3.7"/><line x1="470.0" y1="995.0" x2="478.6" y2="1004.8" stroke="#f08a8a" stroke-width="1.1"/><line x1="478.6" y1="1004.8" x2="487.3" y2="1014.6" stroke="#3645ad" stroke-width="3.7"/><line x1="478.6" y1="1004.8" x2="487.3" y2="1014.6" stroke="#8f98e6" stroke-width="1.1"/><line x1="451.5" y1="1013.5" x2="469.4" y2="1014.0" stroke="#3645ad" stroke-width="3.7"/><line x1="451.5" y1="1013.5" x2="469.4" y2="1014.0" stroke="#8f98e6" stroke-width="1.1"/><line x1="469.4" y1="1014.0" x2="487.3" y2="1014.6" stroke="#3645ad" stroke-width="3.7"/><line x1="469.4" y1="1014.0" x2="487.3" y2="1014.6" stroke="#8f98e6" stroke-width="1.1"/><line x1="444.6" y1="1013.5" x2="432.5" y2="1017.0" stroke="#3645ad" stroke-width="3.7"/><line x1="444.6" y1="1013.5" x2="432.5" y2="1017.0" stroke="#8f98e6" stroke-width="1.1"/><line x1="432.5" y1="1017.0" x2="420.4" y2="1020.4" stroke="#7a5a3c" stroke-width="3.7"/><line x1="432.5" y1="1017.0" x2="420.4" y2="1020.4" stroke="#c0a080" stroke-width="1.1"/><line x1="451.5" y1="1013.5" x2="456.1" y2="1017.5" stroke="#3645ad" stroke-width="3.7"/><line x1="451.5" y1="1013.5" x2="456.1" y2="1017.5" stroke="#8f98e6" stroke-width="1.1"/><line x1="456.1" y1="1017.5" x2="460.8" y2="1021.5" stroke="#7a5a3c" stroke-width="3.7"/><line x1="456.1" y1="1017.5" x2="460.8" y2="1021.5" stroke="#c0a080" stroke-width="1.1"/><line x1="487.3" y1="1014.6" x2="474.1" y2="1018.0" stroke="#3645ad" stroke-width="3.7"/><line x1="487.3" y1="1014.6" x2="474.1" y2="1018.0" stroke="#8f98e6" stroke-width="1.1"/><line x1="474.1" y1="1018.0" x2="460.8" y2="1021.5" stroke="#7a5a3c" stroke-width="3.7"/><line x1="474.1" y1="1018.0" x2="460.8" y2="1021.5" stroke="#c0a080" stroke-width="1.1"/><line x1="493.0" y1="1013.5" x2="497.1" y2="1017.0" stroke="#3645ad" stroke-width="3.7"/><line x1="493.0" y1="1013.5" x2="497.1" y2="1017.0" stroke="#8f98e6" stroke-width="1.1"/><line x1="497.1" y1="1017.0" x2="501.2" y2="1020.4" stroke="#7a5a3c" stroke-width="3.7"/><line x1="497.1" y1="1017.0" x2="501.2" y2="1020.4" stroke="#c0a080" stroke-width="1.1"/><line x1="487.3" y1="1014.6" x2="473.5" y2="1021.0" stroke="#3645ad" stroke-width="3.7"/><line x1="487.3" y1="1014.6" x2="473.5" y2="1021.0" stroke="#8f98e6" stroke-width="1.1"/><line x1="473.5" y1="1021.0" x2="459.6" y2="1027.3" stroke="#7a5a3c" stroke-width="3.7"/><line x1="473.5" y1="1021.0" x2="459.6" y2="1027.3" stroke="#c0a080" stroke-width="1.1"/><line x1="420.4" y1="1020.4" x2="419.2" y2="1036.0" stroke="#7a5a3c" stroke-width="3.7"/><line x1="420.4" y1="1020.4" x2="419.2" y2="1036.0" stroke="#c0a080" stroke-width="1.1"/><line x1="419.2" y1="1036.0" x2="418.0" y2="1051.5" stroke="#3645ad" stroke-width="3.7"/><line x1="419.2" y1="1036.0" x2="418.0" y2="1051.5" stroke="#8f98e6" stroke-width="1.1"/><line x1="460.8" y1="1021.5" x2="460.8" y2="1037.7" stroke="#7a5a3c" stroke-width="3.7"/><line x1="460.8" y1="1021.5" x2="460.8" y2="1037.7" stroke="#c0a080" stroke-width="1.1"/><line x1="460.8" y1="1037.7" x2="460.8" y2="1053.8" stroke="#3645ad" stroke-width="3.7"/><line x1="460.8" y1="1037.7" x2="460.8" y2="1053.8" stroke="#8f98e6" stroke-width="1.1"/><line x1="459.6" y1="1027.3" x2="460.2" y2="1040.5" stroke="#7a5a3c" stroke-width="3.7"/><line x1="459.6" y1="1027.3" x2="460.2" y2="1040.5" stroke="#c0a080" stroke-width="1.1"/><line x1="460.2" y1="1040.5" x2="460.8" y2="1053.8" stroke="#3645ad" stroke-width="3.7"/><line x1="460.2" y1="1040.5" x2="460.8" y2="1053.8" stroke="#8f98e6" stroke-width="1.1"/><line x1="418.0" y1="1051.5" x2="425.0" y2="1057.0" stroke="#3645ad" stroke-width="3.7"/><line x1="418.0" y1="1051.5" x2="425.0" y2="1057.0" stroke="#8f98e6" stroke-width="1.1"/><line x1="425.0" y1="1057.0" x2="432.0" y2="1062.5" stroke="#7a5a3c" stroke-width="3.7"/><line x1="425.0" y1="1057.0" x2="432.0" y2="1062.5" stroke="#c0a080" stroke-width="1.1"/><line x1="460.8" y1="1053.8" x2="446.4" y2="1058.2" stroke="#3645ad" stroke-width="3.7"/><line x1="460.8" y1="1053.8" x2="446.4" y2="1058.2" stroke="#8f98e6" stroke-width="1.1"/><line x1="446.4" y1="1058.2" x2="432.0" y2="1062.5" stroke="#7a5a3c" stroke-width="3.7"/><line x1="446.4" y1="1058.2" x2="432.0" y2="1062.5" stroke="#c0a080" stroke-width="1.1"/><line x1="460.8" y1="1053.8" x2="467.7" y2="1057.9" stroke="#3645ad" stroke-width="3.7"/><line x1="460.8" y1="1053.8" x2="467.7" y2="1057.9" stroke="#8f98e6" stroke-width="1.1"/><line x1="467.7" y1="1057.9" x2="474.6" y2="1062.0" stroke="#7a5a3c" stroke-width="3.7"/><line x1="467.7" y1="1057.9" x2="474.6" y2="1062.0" stroke="#c0a080" stroke-width="1.1"/><line x1="432.0" y1="1062.5" x2="431.4" y2="1077.2" stroke="#7a5a3c" stroke-width="3.7"/><line x1="432.0" y1="1062.5" x2="431.4" y2="1077.2" stroke="#c0a080" stroke-width="1.1"/><line x1="431.4" y1="1077.2" x2="430.8" y2="1092.0" stroke="#3645ad" stroke-width="3.7"/><line x1="431.4" y1="1077.2" x2="430.8" y2="1092.0" stroke="#8f98e6" stroke-width="1.1"/><line x1="474.6" y1="1062.0" x2="474.6" y2="1077.0" stroke="#7a5a3c" stroke-width="3.7"/><line x1="474.6" y1="1062.0" x2="474.6" y2="1077.0" stroke="#c0a080" stroke-width="1.1"/><line x1="474.6" y1="1077.0" x2="474.6" y2="1092.0" stroke="#3645ad" stroke-width="3.7"/><line x1="474.6" y1="1077.0" x2="474.6" y2="1092.0" stroke="#8f98e6" stroke-width="1.1"/><line x1="430.8" y1="1092.0" x2="423.9" y2="1097.2" stroke="#3645ad" stroke-width="3.7"/><line x1="430.8" y1="1092.0" x2="423.9" y2="1097.2" stroke="#8f98e6" stroke-width="1.1"/><line x1="423.9" y1="1097.2" x2="416.9" y2="1102.3" stroke="#7a5a3c" stroke-width="3.7"/><line x1="423.9" y1="1097.2" x2="416.9" y2="1102.3" stroke="#c0a080" stroke-width="1.1"/><line x1="430.8" y1="1092.0" x2="445.8" y2="1096.6" stroke="#3645ad" stroke-width="3.7"/><line x1="430.8" y1="1092.0" x2="445.8" y2="1096.6" stroke="#8f98e6" stroke-width="1.1"/><line x1="445.8" y1="1096.6" x2="460.8" y2="1101.2" stroke="#7a5a3c" stroke-width="3.7"/><line x1="445.8" y1="1096.6" x2="460.8" y2="1101.2" stroke="#c0a080" stroke-width="1.1"/><line x1="474.6" y1="1092.0" x2="467.7" y2="1096.6" stroke="#3645ad" stroke-width="3.7"/><line x1="474.6" y1="1092.0" x2="467.7" y2="1096.6" stroke="#8f98e6" stroke-width="1.1"/><line x1="467.7" y1="1096.6" x2="460.8" y2="1101.2" stroke="#7a5a3c" stroke-width="3.7"/><line x1="467.7" y1="1096.6" x2="460.8" y2="1101.2" stroke="#c0a080" stroke-width="1.1"/><line x1="416.9" y1="1102.3" x2="416.9" y2="1116.8" stroke="#7a5a3c" stroke-width="3.7"/><line x1="416.9" y1="1102.3" x2="416.9" y2="1116.8" stroke="#c0a080" stroke-width="1.1"/><line x1="416.9" y1="1116.8" x2="416.9" y2="1131.2" stroke="#3645ad" stroke-width="3.7"/><line x1="416.9" y1="1116.8" x2="416.9" y2="1131.2" stroke="#8f98e6" stroke-width="1.1"/><line x1="460.8" y1="1101.2" x2="460.8" y2="1116.2" stroke="#7a5a3c" stroke-width="3.7"/><line x1="460.8" y1="1101.2" x2="460.8" y2="1116.2" stroke="#c0a080" stroke-width="1.1"/><line x1="460.8" y1="1116.2" x2="460.8" y2="1131.2" stroke="#3645ad" stroke-width="3.7"/><line x1="460.8" y1="1116.2" x2="460.8" y2="1131.2" stroke="#8f98e6" stroke-width="1.1"/><line x1="416.9" y1="1131.2" x2="431.4" y2="1136.3" stroke="#3645ad" stroke-width="3.7"/><line x1="416.9" y1="1131.2" x2="431.4" y2="1136.3" stroke="#8f98e6" stroke-width="1.1"/><line x1="431.4" y1="1136.3" x2="445.8" y2="1141.5" stroke="#7a5a3c" stroke-width="3.7"/><line x1="431.4" y1="1136.3" x2="445.8" y2="1141.5" stroke="#c0a080" stroke-width="1.1"/><line x1="460.8" y1="1131.2" x2="453.3" y2="1136.3" stroke="#3645ad" stroke-width="3.7"/><line x1="460.8" y1="1131.2" x2="453.3" y2="1136.3" stroke="#8f98e6" stroke-width="1.1"/><line x1="453.3" y1="1136.3" x2="445.8" y2="1141.5" stroke="#7a5a3c" stroke-width="3.7"/><line x1="453.3" y1="1136.3" x2="445.8" y2="1141.5" stroke="#c0a080" stroke-width="1.1"/><line x1="460.8" y1="1131.2" x2="474.6" y2="1136.3" stroke="#3645ad" stroke-width="3.7"/><line x1="460.8" y1="1131.2" x2="474.6" y2="1136.3" stroke="#8f98e6" stroke-width="1.1"/><line x1="474.6" y1="1136.3" x2="488.5" y2="1141.5" stroke="#7a5a3c" stroke-width="3.7"/><line x1="474.6" y1="1136.3" x2="488.5" y2="1141.5" stroke="#c0a080" stroke-width="1.1"/><line x1="445.8" y1="1141.5" x2="445.8" y2="1156.0" stroke="#7a5a3c" stroke-width="3.7"/><line x1="445.8" y1="1141.5" x2="445.8" y2="1156.0" stroke="#c0a080" stroke-width="1.1"/><line x1="445.8" y1="1156.0" x2="445.8" y2="1170.4" stroke="#3645ad" stroke-width="3.7"/><line x1="445.8" y1="1156.0" x2="445.8" y2="1170.4" stroke="#8f98e6" stroke-width="1.1"/><line x1="488.5" y1="1141.5" x2="488.5" y2="1156.0" stroke="#7a5a3c" stroke-width="3.7"/><line x1="488.5" y1="1141.5" x2="488.5" y2="1156.0" stroke="#c0a080" stroke-width="1.1"/><line x1="488.5" y1="1156.0" x2="488.5" y2="1170.4" stroke="#3645ad" stroke-width="3.7"/><line x1="488.5" y1="1156.0" x2="488.5" y2="1170.4" stroke="#8f98e6" stroke-width="1.1"/><line x1="445.8" y1="1170.4" x2="431.4" y2="1175.6" stroke="#3645ad" stroke-width="3.7"/><line x1="445.8" y1="1170.4" x2="431.4" y2="1175.6" stroke="#8f98e6" stroke-width="1.1"/><line x1="431.4" y1="1175.6" x2="416.9" y2="1180.8" stroke="#7a5a3c" stroke-width="3.7"/><line x1="431.4" y1="1175.6" x2="416.9" y2="1180.8" stroke="#c0a080" stroke-width="1.1"/><line x1="445.8" y1="1170.4" x2="452.7" y2="1175.6" stroke="#3645ad" stroke-width="3.7"/><line x1="445.8" y1="1170.4" x2="452.7" y2="1175.6" stroke="#8f98e6" stroke-width="1.1"/><line x1="452.7" y1="1175.6" x2="459.6" y2="1180.8" stroke="#7a5a3c" stroke-width="3.7"/><line x1="452.7" y1="1175.6" x2="459.6" y2="1180.8" stroke="#c0a080" stroke-width="1.1"/><line x1="488.5" y1="1170.4" x2="474.1" y2="1175.6" stroke="#3645ad" stroke-width="3.7"/><line x1="488.5" y1="1170.4" x2="474.1" y2="1175.6" stroke="#8f98e6" stroke-width="1.1"/><line x1="474.1" y1="1175.6" x2="459.6" y2="1180.8" stroke="#7a5a3c" stroke-width="3.7"/><line x1="474.1" y1="1175.6" x2="459.6" y2="1180.8" stroke="#c0a080" stroke-width="1.1"/><line x1="416.9" y1="1180.8" x2="416.9" y2="1195.2" stroke="#7a5a3c" stroke-width="3.7"/><line x1="416.9" y1="1180.8" x2="416.9" y2="1195.2" stroke="#c0a080" stroke-width="1.1"/><line x1="416.9" y1="1195.2" x2="416.9" y2="1209.6" stroke="#3645ad" stroke-width="3.7"/><line x1="416.9" y1="1195.2" x2="416.9" y2="1209.6" stroke="#8f98e6" stroke-width="1.1"/><line x1="459.6" y1="1180.8" x2="459.6" y2="1195.2" stroke="#7a5a3c" stroke-width="3.7"/><line x1="459.6" y1="1180.8" x2="459.6" y2="1195.2" stroke="#c0a080" stroke-width="1.1"/><line x1="459.6" y1="1195.2" x2="459.6" y2="1209.6" stroke="#3645ad" stroke-width="3.7"/><line x1="459.6" y1="1195.2" x2="459.6" y2="1209.6" stroke="#8f98e6" stroke-width="1.1"/><line x1="416.9" y1="1209.6" x2="424.4" y2="1214.8" stroke="#3645ad" stroke-width="3.7"/><line x1="416.9" y1="1209.6" x2="424.4" y2="1214.8" stroke="#8f98e6" stroke-width="1.1"/><line x1="424.4" y1="1214.8" x2="432.0" y2="1220.0" stroke="#7a5a3c" stroke-width="3.7"/><line x1="424.4" y1="1214.8" x2="432.0" y2="1220.0" stroke="#c0a080" stroke-width="1.1"/><line x1="459.6" y1="1209.6" x2="445.8" y2="1214.8" stroke="#3645ad" stroke-width="3.7"/><line x1="459.6" y1="1209.6" x2="445.8" y2="1214.8" stroke="#8f98e6" stroke-width="1.1"/><line x1="445.8" y1="1214.8" x2="432.0" y2="1220.0" stroke="#7a5a3c" stroke-width="3.7"/><line x1="445.8" y1="1214.8" x2="432.0" y2="1220.0" stroke="#c0a080" stroke-width="1.1"/><line x1="459.6" y1="1209.6" x2="467.1" y2="1214.8" stroke="#3645ad" stroke-width="3.7"/><line x1="459.6" y1="1209.6" x2="467.1" y2="1214.8" stroke="#8f98e6" stroke-width="1.1"/><line x1="467.1" y1="1214.8" x2="474.6" y2="1220.0" stroke="#7a5a3c" stroke-width="3.7"/><line x1="467.1" y1="1214.8" x2="474.6" y2="1220.0" stroke="#c0a080" stroke-width="1.1"/><line x1="432.0" y1="1220.0" x2="432.0" y2="1230.0" stroke="#7a5a3c" stroke-width="3.7"/><line x1="432.0" y1="1220.0" x2="432.0" y2="1230.0" stroke="#c0a080" stroke-width="1.1"/><line x1="432.0" y1="1230.0" x2="432.0" y2="1240.0" stroke="#3645ad" stroke-width="3.7"/><line x1="432.0" y1="1230.0" x2="432.0" y2="1240.0" stroke="#8f98e6" stroke-width="1.1"/><line x1="474.6" y1="1220.0" x2="474.6" y2="1230.0" stroke="#7a5a3c" stroke-width="3.7"/><line x1="474.6" y1="1220.0" x2="474.6" y2="1230.0" stroke="#c0a080" stroke-width="1.1"/><line x1="474.6" y1="1230.0" x2="474.6" y2="1240.0" stroke="#3645ad" stroke-width="3.7"/><line x1="474.6" y1="1230.0" x2="474.6" y2="1240.0" stroke="#8f98e6" stroke-width="1.1"/>
<circle cx="449.2" cy="923.5" r="4.6" fill="url(#gO)"/><circle cx="489.6" cy="924.6" r="4.6" fill="url(#gO)"/><circle cx="493.0" cy="924.6" r="4.6" fill="url(#gO)"/><circle cx="449.2" cy="948.8" r="7.7" fill="url(#gB)"/><circle cx="489.6" cy="948.8" r="7.7" fill="url(#gB)"/><circle cx="426.2" cy="954.6" r="4.6" fill="url(#gO)"/><circle cx="426.2" cy="960.4" r="4.6" fill="url(#gO)"/><circle cx="449.2" cy="959.2" r="4.6" fill="url(#gO)"/><circle cx="468.8" cy="955.8" r="4.6" fill="url(#gO)"/><circle cx="492.0" cy="957.0" r="4.6" fill="url(#gO)"/><circle cx="448.0" cy="966.2" r="7.7" fill="url(#gB)"/><circle cx="490.8" cy="963.8" r="7.7" fill="url(#gB)"/><circle cx="449.2" cy="990.4" r="4.6" fill="url(#gO)"/><circle cx="494.2" cy="988.0" r="4.6" fill="url(#gO)"/><circle cx="470.0" cy="995.0" r="4.6" fill="url(#gO)"/><circle cx="444.6" cy="1013.5" r="7.7" fill="url(#gB)"/><circle cx="451.5" cy="1013.5" r="7.7" fill="url(#gB)"/><circle cx="487.3" cy="1014.6" r="7.7" fill="url(#gB)"/><circle cx="493.0" cy="1013.5" r="7.7" fill="url(#gB)"/><circle cx="420.4" cy="1020.4" r="4.8" fill="url(#gN)"/><circle cx="501.2" cy="1020.4" r="4.8" fill="url(#gN)"/><circle cx="460.8" cy="1021.5" r="4.8" fill="url(#gN)"/><circle cx="459.6" cy="1027.3" r="4.8" fill="url(#gN)"/><circle cx="418.0" cy="1051.5" r="7.7" fill="url(#gB)"/><circle cx="460.8" cy="1053.8" r="7.7" fill="url(#gB)"/><circle cx="432.0" cy="1062.5" r="4.8" fill="url(#gN)"/><circle cx="474.6" cy="1062.0" r="4.8" fill="url(#gN)"/><circle cx="430.8" cy="1092.0" r="7.7" fill="url(#gB)"/><circle cx="474.6" cy="1092.0" r="7.7" fill="url(#gB)"/><circle cx="416.9" cy="1102.3" r="4.8" fill="url(#gN)"/><circle cx="460.8" cy="1101.2" r="4.8" fill="url(#gN)"/><circle cx="416.9" cy="1131.2" r="7.7" fill="url(#gB)"/><circle cx="460.8" cy="1131.2" r="7.7" fill="url(#gB)"/><circle cx="445.8" cy="1141.5" r="4.8" fill="url(#gN)"/><circle cx="488.5" cy="1141.5" r="4.8" fill="url(#gN)"/><circle cx="445.8" cy="1170.4" r="7.7" fill="url(#gB)"/><circle cx="488.5" cy="1170.4" r="7.7" fill="url(#gB)"/><circle cx="416.9" cy="1180.8" r="4.8" fill="url(#gN)"/><circle cx="459.6" cy="1180.8" r="4.8" fill="url(#gN)"/><circle cx="416.9" cy="1209.6" r="7.7" fill="url(#gB)"/><circle cx="459.6" cy="1209.6" r="7.7" fill="url(#gB)"/><circle cx="432.0" cy="1220.0" r="4.8" fill="url(#gN)"/><circle cx="474.6" cy="1220.0" r="4.8" fill="url(#gN)"/>
</g>
<line x1="278" y1="1078.8" x2="497" y2="1078.8" stroke="#111" stroke-width="2.9" stroke-dasharray="8.2 6.3" stroke-dashoffset="3.2"/>
<text x="511" y="1027" style="font-family:'Liberation Serif',serif;stroke:#111;stroke-width:0.3px;font-size:36px" fill="#111">1</text>
<text x="511" y="1065.5" style="font-family:'Liberation Serif',serif;stroke:#111;stroke-width:0.3px;font-size:36px" fill="#111">2</text>
<text x="511" y="1105.5" style="font-family:'Liberation Serif',serif;stroke:#111;stroke-width:0.3px;font-size:36px" fill="#111">3</text>
<text x="511" y="1145" style="font-family:'Liberation Serif',serif;stroke:#111;stroke-width:0.3px;font-size:36px" fill="#111">4</text>
<text x="511" y="1184.5" style="font-family:'Liberation Serif',serif;stroke:#111;stroke-width:0.3px;font-size:36px" fill="#111">5</text>
<text x="511" y="1224" style="font-family:'Liberation Serif',serif;stroke:#111;stroke-width:0.3px;font-size:36px" fill="#111">6</text>
<svg x="74.0" y="1334.8" width="329.0" height="314.70000000000005" viewBox="74.0 1334.8 329.0 314.70000000000005" overflow="hidden">
<rect x="74.0" y="1334.8" width="329.0" height="314.70000000000005" fill="#2e3388"/>
<path d="M369 1331.8L406 1331.8 406 1651.8 276.1 1651.8 276.1 1509.8 276.8 1504.8 279 1499.1 279.3 1493.8 278.8 1483.8 279.7 1475.8 279.9 1467.8 278.6 1436.8 279.4 1431.8 280.2 1429.8 282 1427.3 286 1425.9 291 1426.1 293 1427.2 297 1426.2 300 1427.2 302.4 1426.8 302.3 1425.8 304 1424.9 305 1423.4 307.5 1414.8 307.7 1406.8 308.3 1403.8 313 1397.9 316 1395.3 319 1394.7 349 1394.3 351 1393.3 353.2 1389.8 356 1387.1 364 1386.3 366 1385.1 367 1382.9 368 1382.5 368.6 1380.8 368.4 1378.8 367.3 1375.8 367.2 1371.8 368.5 1356.8 368.1 1348.8 368.3 1331.8ZM323.8 1395.8L325 1396.2 326.6 1395.8 325 1395.1 324 1395.3ZM309 1406.8L308.5 1408.8 309 1411.5ZM72 1391.8L98 1392.9 105 1394.7 118 1395.1 120 1396.2 124 1399.5 131.1 1401.8 132.3 1402.8 133.4 1404.8 133.6 1412.8 132.7 1415.8 130 1417.8 124 1419.5 122.1 1420.8 122.3 1421.8 123.7 1422.8 132 1424.6 133.7 1425.8 135 1427.8 136.3 1432.8 136.9 1438.8 137 1445.8 136.3 1452.8 135.3 1455.8 133 1458 131 1458.7 123.2 1459.8 121.7 1460.8 121.3 1461.8 122.2 1463.8 127.2 1467.8 134 1470.7 135.8 1472.8 136.7 1476.8 136.7 1492.8 136.3 1494.8 135 1497 133 1498.4 129 1499.7 127.1 1500.8 122.2 1504.8 121.5 1506.8 122.4 1507.8 124 1508.3 133 1509.5 135 1510.9 136.5 1513.8 136.8 1530.8 136.5 1533.8 135.6 1536.8 134 1539.5 132 1541.6 129 1543.1 123.7 1544.8 122.4 1545.8 122.5 1546.8 124 1547.6 132 1548.5 134 1549.4 135.5 1550.8 136.7 1554.8 136.8 1570.8 135.7 1575.8 133 1580 130 1582 124 1584 122.7 1584.8 122.3 1585.8 124 1586.9 133 1588.2 135.2 1589.8 136.3 1591.8 136.7 1593.8 136.7 1605.8 136.2 1610.8 135 1613.8 133 1615.6 128.2 1617.8 122.3 1622.8 121.6 1624.8 122.4 1625.8 124 1626.3 133 1627.5 135.7 1629.8 136.5 1631.8 136.8 1634.8 136.4 1651.8 71 1651.8 71 1391.8Z" fill="#2e3488" fill-rule="evenodd" stroke="#2a2a2a" stroke-width="0.7"/>
<path d="M372 1331.8L406 1331.8 406 1651.8 278.4 1651.8 279.4 1641.8 278.7 1633.8 279.1 1625.8 277.9 1617.8 278.8 1608.8 278.5 1589.8 279.1 1578.8 278.5 1569.8 278.8 1562.8 278.5 1555.8 279.1 1548.8 278.7 1517.8 279.2 1507.8 282 1493.8 281.2 1484.8 282.8 1475.8 282.8 1465.8 282.1 1456.8 282.5 1447.8 282.2 1444.8 280.6 1438.8 281 1434 283 1430.6 285 1429.6 287 1430.2 291 1432.6 292 1432.8 296 1431.5 302 1431.7 304 1430.8 306.7 1426.8 311 1414.8 312 1410.8 312.5 1403.8 313.8 1401.8 316 1400.4 320 1399.5 328 1401.1 332 1400.1 341 1399.5 346 1401.3 351 1399.4 353 1397.5 355 1394.4 357 1393 361 1393.4 365 1390.8 366 1390.6 367 1391.1 370 1394 371 1394.3 372.5 1393.8 372.8 1391.8 372.1 1385.8 373 1373.8 374.2 1367.8 372.7 1363.8 372.4 1361.8 373.1 1353.8 371.9 1345.8 371.6 1335.8ZM72 1394.4L79 1394.6 85 1396 97 1396.3 104.7 1398.8 116 1399.3 119 1400.3 125.2 1403.8 126.5 1404.8 127.5 1406.8 127.5 1411.8 126.9 1413.8 125 1415.4 118.2 1418.8 116.2 1420.8 116.2 1421.8 118.8 1423.8 131 1427.9 133 1430.3 134.2 1433.8 135.1 1439.8 135.3 1445.8 134.6 1450.8 133 1454.5 130 1456.3 123 1457.5 118.7 1458.8 115.7 1460.8 115.2 1461.8 115.4 1462.8 116.8 1464.8 120.4 1467.8 133 1472.8 134.3 1474.8 134.7 1476.8 134.8 1490.8 133.8 1494.8 132 1496.4 124.7 1498.8 120 1501 116.7 1503.8 115.4 1505.8 115.4 1506.8 117 1508.3 121.1 1509.8 132 1511.5 134 1513.4 134.7 1515.8 134.8 1530.8 134.3 1533.8 133.3 1535.8 130 1538.5 118.4 1543.8 116.2 1545.8 116.2 1546.8 117.3 1547.8 121 1549.1 131.8 1550.8 133.3 1551.8 134.4 1553.8 134.8 1556.8 134.8 1569.8 134.4 1572.8 133.6 1574.8 131 1577.3 118.9 1582.8 116.4 1584.8 116.1 1585.8 116.8 1586.8 118.9 1587.8 123 1588.9 131 1589.8 132.9 1590.8 133.8 1591.8 134.8 1595.8 134.8 1603.8 134.2 1608.8 133.7 1610.8 132.3 1612.8 120 1619 116 1622.8 115.5 1624.8 116.2 1625.8 118 1626.8 120.9 1627.8 131 1629.2 133.6 1630.8 134.5 1632.8 134.8 1635.8 134.7 1643.8 134 1651.8 71 1651.8 71 1394.4Z" fill="#4760a8" fill-rule="evenodd" stroke="#2a2a2a" stroke-width="0.7"/>
<path d="M375 1331.8L406 1331.8 406 1379.2 403 1379.5 401.1 1377.8 400.3 1374.8 400.2 1365.8 399 1363.6 397 1362.4 394 1362.6 392.6 1363.8 392.2 1364.8 393 1374.8 392.5 1376.8 391 1378.2 389 1377.8 388 1376.8 385 1370.1 383 1369.2 381 1369.6 380 1369.3 378.5 1356.8 374.8 1342.8ZM406 1389.3L406 1651.8 281.3 1651.8 282.1 1642.8 280.4 1633.8 281.6 1625.8 279.9 1617.8 281.6 1609.8 280.3 1601.8 281.7 1593.8 280.3 1587.8 281.3 1578.8 280.2 1570.8 280.5 1567.8 282 1562.8 280.9 1555.8 282.1 1547.8 281.7 1539.8 280.6 1533.8 280.5 1529.8 283 1501 284 1497.2 286.5 1493.8 286.6 1492.8 284 1486.9 283.7 1484.8 284 1482.5 286.6 1476.8 286.2 1462.8 286.6 1460.8 288 1459.5 291 1459.6 293 1458.5 294.2 1455.8 294.5 1450.8 295.1 1448.8 296 1447.6 300 1445.2 300.7 1443.8 301.2 1439.8 301.8 1438.8 305 1437 306 1435.6 313.7 1414.8 314.5 1411.8 315.2 1405.8 317 1403.5 319 1402.8 321 1402.8 325.3 1404.8 327 1406.8 327.7 1411.8 329 1412.5 330.3 1411.8 331.6 1407.8 333 1405.8 336 1404.4 339 1404.8 340.1 1405.8 343.8 1411.8 348.6 1417.8 350 1420.3 351 1420.6 352 1418.2 353.4 1404.8 354.5 1401.8 356 1400 358 1399.8 361 1401.8 362 1402 366 1399.8 367 1400.2 369.1 1402.8 371 1404.2 374 1405.4 376 1405.5 378 1404.6 379.5 1402.8 380.2 1396.8 381.1 1394.8 389 1394 396 1395.4 398 1395.3 400 1394.4ZM300.5 1464.8L299.4 1466.8 299.5 1469.8 302 1472.4 304 1473.1 305 1472.7 306.2 1469.8 305.7 1465.8 304 1464.4 302 1464.2ZM72 1396.6L78 1396.8 85 1399.2 98 1399.1 104 1401.1 113 1401.6 118 1403.3 119.8 1404.8 120.9 1407.8 120.6 1412.8 119 1414.8 112 1418.7 99 1419.9 96.3 1420.8 96 1421.8 97.3 1422.8 102 1423.8 112 1424.5 120 1426.5 126.5 1428.8 129 1429.9 131 1431.6 133 1435.8 133.8 1440.8 134 1445.8 133.3 1449.8 131.8 1452.8 129 1454.5 121 1456.2 112.7 1458.8 110.3 1459.8 109 1460.8 108.6 1461.8 110.2 1464.8 113.8 1467.8 118.3 1469.8 131 1473.6 132.4 1474.8 133.1 1476.8 133.2 1490.8 132.4 1493.8 130 1495.4 118.2 1498.8 114 1500.7 110.1 1503.8 108.7 1505.8 108.5 1506.8 108.9 1507.8 110.4 1508.8 113.4 1509.8 130.7 1512.8 132.2 1513.8 133.1 1515.8 133.2 1530.8 132 1534.5 130 1536 119 1540.3 110.3 1544.8 109.2 1545.8 109.1 1546.8 110 1547.8 113 1549 130 1551.9 132 1553 133 1554.8 133.3 1569.8 133 1571.8 132 1573.8 130 1575.4 119 1579.7 110.8 1583.8 109.4 1584.8 108.9 1585.8 109.5 1586.8 113 1588.3 130 1591.2 132 1592.3 132.9 1593.8 133.3 1596.8 133.1 1604.8 132.3 1608.8 131.2 1610.8 129 1612.2 115.1 1617.8 110.3 1621.8 108.8 1623.8 108.7 1624.8 109.4 1625.8 111.5 1626.8 121 1629.2 130 1630.6 132.2 1631.8 133.2 1634.8 133.3 1640.8 131.9 1651.8 71 1651.8 71 1396.6ZM82.9 1420.8L82.8 1421.8 84 1422.5 85 1422.5 86.3 1421.8 86.4 1420.8 85 1419.8ZM283 1434.7L284 1433.8 285 1433.8 286.8 1435.8 286.8 1438.8 286 1440.3 285 1440.8 284 1440.5 282.8 1438.8 282.4 1436.8ZM297 1435.7L298 1435.9 299 1436.7 299.5 1437.8 299 1438.8 297 1439.7 296 1439.6 295.1 1437.8 296 1436.2Z" fill="#84bccc" fill-rule="evenodd" stroke="#2a2a2a" stroke-width="0.7"/>
<path d="M380 1331.8L406 1331.8 406 1335.7 403.5 1338.8 401.7 1344.8 400 1348.6 398 1351.5 393.8 1354.8 391 1355.4 387 1352.6 383 1353.3 382 1352.7 381 1351.1 378 1344.8 377.3 1341.8 377.6 1337.8ZM405 1398.6L406 1397.9 406 1651.8 288.5 1651.8 287.9 1647.8 282.5 1634.8 282.6 1632.8 284.7 1626.8 282.3 1618.8 283 1616 285.8 1613.8 286.3 1611.8 285.6 1608.8 283 1603.8 282.8 1600.8 284 1599.1 287.4 1596.8 288.4 1594.8 288.2 1593.8 287 1592.1 283 1589.3 282.1 1586.8 282.5 1583.8 284.9 1578.8 282.3 1572.8 282.3 1569.8 283 1568.4 286.3 1565.8 287 1563.8 286.2 1555.8 287.1 1550.8 285.6 1539.8 285.1 1537.8 283 1534 282.5 1530.8 283 1527.9 284 1526.3 286.6 1524.8 287.2 1523.8 286.7 1506.8 287.8 1504.8 291.4 1500.8 292.3 1497.8 292.9 1492.8 292.6 1489.8 288.3 1486.8 287.6 1485.8 287.3 1483.8 289 1480.9 292.1 1478.8 294.6 1475.8 296 1474.8 298 1475.4 301 1478.4 304 1479.7 306 1479.2 307.8 1476.8 308.8 1472.8 310.1 1460.8 308.1 1446.8 309.7 1440.8 310.6 1429.8 313 1423 315 1419.2 316 1418.2 318 1418 322 1418.8 331 1417.7 332.8 1415.8 335 1412 336 1410.9 337 1410.6 339 1412.1 344.9 1418.8 348 1424 349 1424.6 351 1424.7 353 1423.6 354.6 1421.8 358 1412.8 359 1411.5 361 1410 366 1407.9 368 1407.7 371 1408.1 376 1409.8 382 1409.8 394 1403 399 1403.4 401.7 1402.8ZM302.6 1487.8L301.8 1488.8 301.6 1490.8 302 1492.8 303 1494 304 1493.7 304.5 1492.8 305 1489.8 304 1487.7ZM72 1399.5L78 1399.8 85 1402.7 90 1402.7 96 1401.4 98 1401.4 104 1403.6 112 1404.3 114 1405.4 114.7 1406.8 114.6 1412.8 113 1414.7 111 1415.5 105 1415.8 100 1417 96 1417.4 92 1417.3 87 1416.1 85 1416.1 78 1419.6 71 1419.9 71 1399.5ZM72 1424.1L77 1424.2 84 1425.7 92 1424.6 104 1427.4 119 1428.5 129 1433.5 131 1435.9 132 1438.6 132.7 1442.8 132.6 1446.8 131.5 1449.8 130 1451.5 127 1452.9 105 1458.8 103.1 1459.8 102 1461.8 103.8 1464.8 108.6 1468.8 113 1470.6 129.3 1474.8 130.7 1475.8 131.5 1477.8 131.6 1489.8 130.7 1492.8 129 1493.9 113.7 1497.8 109 1499.6 104.8 1502.8 103.7 1504.8 103.3 1506.8 104.1 1508.8 106 1510 110 1511 119 1512.1 128.2 1513.8 130.4 1514.8 131.4 1516.8 131.5 1529.8 131.2 1531.8 130 1533.5 127.6 1534.8 113 1540.2 106 1541.9 104 1543.5 103.4 1545.8 104.2 1547.8 108.3 1549.8 128 1553.1 130 1553.8 131.3 1555.8 131.4 1569.8 131 1571.6 130.1 1572.8 128 1574 113 1579.6 106 1581.2 104 1582.8 103.4 1584.8 104 1587.3 106.3 1588.8 110.4 1589.8 119 1590.7 128 1592.5 130 1593.2 131.2 1594.8 131.3 1603.8 130.5 1606.8 129.2 1608.8 121.7 1612.8 111 1615.9 105.8 1619.8 104.2 1621.8 103.5 1623.8 103.7 1625.8 106 1627.4 128 1631.8 130.4 1632.8 131.1 1633.8 131.5 1635.8 131.4 1642.8 130.7 1645.8 128.5 1649.8 128 1651.8 71 1651.8 71 1424.1Z" fill="#7ab06a" fill-rule="evenodd" stroke="#2a2a2a" stroke-width="0.7"/>
<path d="M383 1338.7L385 1339.3 386 1340.5 386.4 1341.8 385.9 1344.8 384 1346.7 383 1346.6 382 1345.7 380.7 1342.8 381 1340.1ZM72 1403.3L78 1403.6 80 1404.7 81 1405.8 82.2 1408.8 82.6 1411.8 82.1 1413.8 80 1416.3 77 1417.3 71 1417.4 71 1403.3ZM96 1404.7L97 1404.3 99 1404.6 100.4 1405.8 100.8 1406.8 100.9 1411.8 100 1413.7 99 1414.3 97 1414.5 95.5 1413.8 94.8 1412.8 94.6 1406.8ZM395 1408.7L397 1409 399 1410.1 400.5 1411.8 403.3 1416.8 406 1418.7 406 1651.8 293 1651.8 293.7 1645.8 293 1637.8 295 1631.5 295.4 1628.8 293.7 1622.8 293.5 1616.8 291.7 1603.8 294 1595.8 294.1 1593.8 292.9 1585.8 293.6 1579.8 295.7 1571.8 295.2 1567.8 292.3 1559.8 293.7 1551.8 292.1 1540.8 293.9 1533.8 293.6 1531.8 291.9 1527.8 291.8 1524.8 292.4 1520.8 294.1 1514.8 293.6 1507.8 294.6 1504.8 296 1503.9 300 1505.1 306 1503.8 308 1501.8 308.6 1499.8 308.9 1491.8 310.6 1485.8 311.9 1475.8 311.7 1466.8 312.9 1459.8 312.3 1432.8 313.2 1426.8 315 1423.6 317 1422.3 319 1422.5 323 1424 327 1422.5 331 1422.1 333 1420.9 336 1417.8 337 1417.3 339 1418 342 1420.4 347 1426.8 348 1427.5 350 1427.7 354 1425.4 357 1422.8 361 1418.5 363 1417.4 365 1417.1 368.6 1419.8 370 1420.3 371.5 1419.8 373.9 1416.8 375 1416.3 377 1416.4 382 1417.7 386 1416.8 389 1416.7 390 1415.8 391.6 1410.8 393 1409.4ZM300.5 1513.8L299.9 1515.8 300.5 1518.8 300.3 1521.8 297.3 1531.8 298.6 1536.8 297.7 1542.8 298 1544.3 299 1545.5 304 1543.1 305.3 1541.8 306.6 1538.8 307.3 1533.8 306.7 1525.8 304.8 1518.8 305 1514.7 304 1513.3 303 1513ZM302 1559.8L301.4 1561.8 302.5 1564.8 305 1566.3 307.2 1565.8 308.1 1564.8 308.8 1562.8 308.6 1560.8 308 1559.6 306 1558.9ZM301.1 1575.8L300.8 1576.8 301.2 1578.8 303 1580.8 305 1581.3 307 1580.2 307.4 1577.8 306 1575.6 303 1574.8ZM303.1 1596.8L301 1597.7 300 1598.8 299.1 1600.8 299 1602.8 301 1610.8 302 1612.2 304 1613.1 306 1612.5 308 1610 309 1605.8 309.1 1601.8 308 1598.7 306 1597.4ZM304.5 1622.8L302.9 1623.8 302 1626.8 303 1630.2 304 1631.4 305 1631.6 306 1631.2 307 1629.8 307.4 1626.8 306.4 1623.8 305.1 1622.8ZM301.7 1639.8L301 1642.8 302 1643.9 303.3 1642.8 303.8 1640.8 303 1639.2 302 1639.3ZM369 1413.5L370 1413.3 370.2 1413.8 369 1413.9ZM72 1427.6L84 1428 93 1427.8 98 1428.3 104 1430.1 113 1430.4 118 1431.2 121 1432.6 128 1437.2 130 1439.6 131 1442.5 130.8 1446.8 130 1448.2 128 1449.7 114 1454.9 103 1456.9 96.8 1459.8 95.5 1461.8 96 1463.8 96.7 1464.8 104 1470 109 1472 119.7 1473.8 125.5 1475.8 128 1477.3 129.1 1479.8 129.4 1484.8 129.1 1488.8 128.4 1490.8 127.4 1491.8 120 1494.7 110 1496.3 104 1498.4 101.3 1500.8 100 1505.8 100.5 1508.8 103 1511.2 108 1512.5 120.8 1513.8 126.3 1515.8 127.8 1517.8 127.9 1528.8 127.5 1530.8 126.8 1531.8 123.7 1533.8 119 1535.6 112 1537.2 103 1538.2 102 1538.8 100.7 1540.8 100 1544.8 100.7 1547.8 103.1 1549.8 110 1552 119 1552.8 123.1 1553.8 125.7 1554.8 127.1 1555.8 127.7 1556.8 128 1567.8 127.1 1570.8 124.3 1572.8 119 1574.9 112 1576.6 105 1576.8 103 1577.5 100.8 1579.8 100 1583.8 100.1 1585.8 100.9 1587.8 104 1590.2 109 1591.3 121 1592.5 124.9 1593.8 126.8 1594.8 127.6 1595.8 128 1598.8 127.7 1602.8 126.7 1604.8 124.9 1606.8 120 1610.7 111 1612.2 103.3 1616.8 101.3 1618.8 100.1 1622.8 100.3 1625.8 100.9 1626.8 103 1628.4 120.3 1631.8 126.2 1633.8 127.4 1634.8 128 1637.8 127.4 1642.8 126.2 1644.8 122.3 1648.8 121.1 1651.8 71 1651.8 71 1427.6ZM83.4 1503.8L81.8 1505.8 82.1 1507.8 84 1508.9 86 1508.5 87.2 1506.8 86.7 1504.8 85 1503.6ZM78.2 1581.8L75.3 1582.8 74.2 1584.8 74.8 1586.8 77 1587.8 91 1587.8 93 1587 93.8 1585.8 93.9 1584.8 93 1582.9 91 1581.9ZM84.3 1615.8L82.5 1616.8 79 1620.5 75 1622.7 74.3 1623.8 74.6 1625.8 76 1626.8 78 1627.2 86 1627.4 91 1627.2 93.7 1625.8 94.4 1623.8 94.4 1620.8 94.3 1618.8 93.3 1616.8 92 1616 90 1615.5Z" fill="#76a832" fill-rule="evenodd" stroke="#2a2a2a" stroke-width="0.7"/>
<path d="M72 1408.6L76 1408.7 78 1409.5 79.1 1411.8 78.6 1413.8 76.7 1414.8 71 1414.9 71 1408.6ZM377 1422.5L379 1422.3 383 1424.2 389 1423.7 391 1424.4 395.1 1426.8 398 1427.6 400 1427.4 403 1425.4 406 1424.7 406 1541.3 405 1541.9 404.3 1544.8 405 1547.8 406 1549 406 1558.2 403 1560.4 402.3 1562.8 403 1566 404 1566.8 406 1567.3 406 1594.7 404 1595.1 403.2 1596.8 404 1598.9 406 1600.1 406 1651.8 347.6 1651.8 346.7 1644.8 348 1635.8 348.3 1625.8 348.9 1623.8 351.6 1618.8 353.4 1611.8 352.8 1603.8 354.2 1594.8 353.3 1590.8 352.2 1576.8 354.3 1567.8 353.9 1561.8 353 1559.8 349 1558.2 345 1554.3 340.2 1551.8 338 1551.7 335 1552.7 333 1552.8 331 1552.2 327 1549.7 326 1550 325 1551.3 324.1 1554.8 326.2 1564.8 324.5 1573.8 324.2 1577.8 325 1584.8 325 1590.8 326.1 1597.8 326.1 1613.8 327 1619.8 325.5 1626.8 324.9 1634.8 326.5 1642.8 326.9 1651.8 313.7 1651.8 312.5 1632.8 311.4 1624.8 311.6 1621.8 313.3 1614.8 312.8 1603.8 314.1 1593.8 313.5 1586.8 315.7 1578.8 313.6 1564.8 313.5 1553.8 314.4 1546.8 312.6 1537.8 313.6 1528.8 313 1519.8 313.7 1512.8 312.2 1505.8 314.4 1487.8 314.5 1480.8 315.6 1473.8 314.6 1467.8 315.9 1460.8 315.3 1441.8 314.2 1431.8 314.4 1428.8 315.3 1426.8 317 1425.6 319 1426.4 320.4 1428.8 320.3 1432.8 318.8 1441.8 319.2 1450.8 320.3 1457.8 317.6 1472.8 319.8 1479.8 320.9 1487.8 323 1490.1 325 1491.1 326 1490.4 327.7 1486.8 328.9 1482.8 329.2 1479.8 328.2 1472.8 326.2 1467.8 328.4 1455.8 328.1 1443.8 326.7 1428.8 328.4 1426.8 332 1426.2 337 1423.8 339 1424 341 1424.8 342.8 1426.8 343.8 1429.8 344.2 1436.8 342 1445.8 341.5 1451.8 342.1 1454.8 345 1459.8 343 1461.8 341.5 1465.8 340.7 1486.8 339 1489.2 336 1490.8 335.4 1492.8 336.1 1494.8 338 1495.9 343 1495.9 348 1494.4 351 1495.5 353 1495.7 354.2 1494.8 354.1 1491.8 353.1 1488.8 352.2 1483.8 348.5 1477.8 348 1473.8 348.6 1470.8 350.4 1466.8 350.4 1460.8 353.8 1451.8 353.8 1445.8 354.5 1438.8 352.8 1433.8 352.8 1430.8 354.6 1427.8 357 1426.3 362 1425.1 365 1425 372 1427.2 374 1426ZM382.5 1441.8L381.5 1442.8 381.3 1443.8 382 1445.8 384 1447.3 386 1447.1 386.9 1444.8 386.3 1442.8 385 1441.7ZM342 1512.8L339.1 1517.8 336 1520.6 335.3 1521.8 335.3 1523.8 337.1 1530.8 337 1533.8 334.9 1538.8 335 1540.1 336 1541.1 337 1540.7 338.7 1536.8 339.7 1535.8 342 1534.8 346 1534.4 347 1533.3 349 1529 350 1528.2 353 1527.7 354.2 1525.8 354.3 1521.8 353.3 1519.8 350 1519.7 348.4 1518.8 345.9 1512.8 344 1512.1ZM84 1430.8L97 1430.9 104 1432.5 114 1433.1 119.3 1435.8 124.2 1439.8 126.9 1442.8 127.3 1444.8 126.1 1446.8 121.3 1449.8 114 1452.8 111 1453.6 104 1454.3 99 1456.3 91 1458.3 77 1458.4 74.5 1459.8 73.7 1461.8 74 1468.4 74.9 1469.8 76.8 1470.8 98 1470.6 106 1474.2 118 1475.6 121.4 1476.8 125 1480.2 126 1482.8 126.1 1484.8 124.7 1488.8 121.4 1491.8 118 1493 110 1493.7 99 1495.3 93 1497.4 90 1497.9 84 1498.2 78 1497.5 71 1497.5 71 1431.1ZM72 1510.2L77 1510.5 84 1511.7 91 1510.4 93 1510.4 104 1514.2 117 1515.1 119.7 1515.8 120.9 1516.8 121.3 1517.8 121.1 1530.8 119 1532.8 117 1533.3 103 1534.2 98 1535.2 92 1534.9 85 1537 77 1537.2 75 1538.2 72.6 1540.8 71 1541.8 71 1510.2ZM78 1549.8L97 1549.6 111 1554 119 1554.8 120.6 1555.8 121.3 1557.8 121.4 1568.8 121 1570.3 119.6 1571.8 118 1572.4 105 1573.1 103 1573.6 99 1575.8 96 1576.6 85 1576.9 71 1576.3 71 1549.8ZM72 1589.7L77 1590.4 89 1590.5 98 1589.4 105 1592.9 118 1593.9 120.3 1594.8 121.1 1595.8 121.4 1597.8 121 1601.8 119.8 1604.8 118 1606.9 116 1607.8 109 1609.2 105 1612.1 103 1612.8 98 1613.2 92 1612.1 86 1612 82 1612.4 77 1613.9 71 1613.4 71 1589.5ZM72 1628.8L77 1629.7 88 1629.8 92 1629.7 98 1628.6 104 1630.5 114.3 1631.8 117.3 1632.8 120.4 1634.8 121 1636.8 120.8 1641.8 119.4 1644.8 116.1 1648.8 115 1651.8 71 1651.8 71 1628.6Z" fill="#94b62a" fill-rule="evenodd" stroke="#2a2a2a" stroke-width="0.7"/>
<path d="M336 1430.8L338 1430.4 339 1430.9 340 1432.7 340.3 1434.8 338.8 1450.8 339.2 1457.8 338.4 1464.8 338.9 1473.8 338 1478.6 336 1484.4 335 1484.3 334.8 1483.8 334.9 1479.8 332.8 1465.8 332.8 1463.8 334 1459.8 334.2 1455.8 332 1445.8 332.9 1434.8 334 1432.4ZM368 1432.7L370 1433.2 371.4 1435.8 371 1438.2 369 1439.6 367.2 1438.8 366.6 1436.8 367 1433.8ZM394 1432.5L396 1432.4 399 1433.5 400.4 1434.8 400.8 1436.8 400.1 1438.8 398.2 1440.8 396 1442.5 394 1443 393 1442.3 392.3 1440.8 391.9 1437.8 392.7 1433.8ZM79 1434.8L85 1434.2 97 1434.2 112 1435.6 114.1 1436.8 119.6 1441.8 120.8 1443.8 120.9 1444.8 119.6 1446.8 117.7 1447.8 111 1449.8 104 1450.2 99 1453.6 97 1454.2 90 1455 77 1454.7 71 1455.6 71 1434.9ZM405 1453.6L406 1452.9 406 1471.2 404 1472 402.1 1473.8 399.2 1480.8 397 1483.1 396 1483.2 391 1480.6 385 1482.8 380 1480.1 377 1479.1 374 1479.5 371 1481.1 370 1481.1 367 1476.9 365 1475.9 363 1476.8 361 1479.3 359 1480.5 357 1479.9 355 1477.8 354.2 1473.8 354.9 1466.8 354.8 1460.8 355 1459.5 356 1457.9 357 1457.5 361 1458.2 366 1455.3 373 1455.6 378 1457.4 382 1456.7 385 1457.1 389 1456.8 393 1457.8 400 1457.9 402 1457.1ZM72 1473.8L77 1474.6 96 1474 99 1474.6 100.2 1475.8 101 1477.8 101 1483.8 100.3 1486.8 99 1488.3 96 1490 93 1493.2 91 1494.1 85 1494.6 78 1494 71 1493.9 71 1473.6ZM111 1479.6L117 1479.4 119.8 1480.8 121.3 1483.8 121.1 1485.8 120 1487.6 118 1488.9 115 1489.2 111 1489 109 1487.9 108.1 1485.8 108 1482.8 109 1480.7ZM370 1485.5L373 1487.3 376.4 1490.8 380.2 1496.8 380.9 1498.8 380.8 1500.8 380.2 1501.8 379 1502.5 376 1503 374.6 1503.8 372 1509.8 370 1511.9 368 1512.3 362 1511.4 361 1510.8 360.1 1508.8 359.5 1499.8 359.7 1490.8 361 1489.8 365 1489ZM72 1513.7L84 1514.2 90 1513.8 93 1514.6 94 1515.8 94.4 1517.8 94.4 1522.8 93.8 1525.8 93 1527.1 90 1528.9 87 1532 85 1533.2 76 1533.5 71 1535.2 71 1513.7ZM359 1516.9L361 1517.4 367 1522.2 375 1524 378 1523.5 383 1520.5 387 1520.7 392 1518.6 394 1518.7 397.2 1520.8 402 1526.1 404 1527 406 1526.9 406 1534.8 403 1534.3 402 1535 395 1548.6 391 1551.2 389.4 1552.8 388.1 1557.8 387 1559.4 386 1559.9 381 1560.2 379 1561.4 376 1564.3 375 1564.6 374 1564.3 372.5 1560.8 371 1559.3 368 1558.3 363 1558.2 362 1557.6 359 1550.9 354.7 1548.8 353.7 1545.8 353.6 1539.8 354.3 1536.8 357.9 1531.8 357.4 1520.8 358 1517.9ZM387.6 1537.8L386.9 1538.8 386.8 1540.8 387.7 1542.8 389 1543.5 390.2 1542.8 390.3 1539.8 389 1537.9 388 1537.5ZM110 1519.3L112 1519.1 113 1519.5 114.5 1521.8 114.4 1525.8 113 1527.6 112 1528 110 1527.8 109 1527 108 1524.8 108.1 1521.8 109 1520ZM322 1526.1L323 1525.9 323.9 1526.8 324 1528.8 323 1529.3 322 1528.8 321.7 1527.8ZM72 1553.3L96 1552.9 104 1554.1 106 1554.8 110 1557.5 113.1 1558.8 114.4 1560.8 114.5 1564.8 113.2 1566.8 112 1567.4 105 1568 103 1568.6 99.6 1571.8 97 1572.9 86 1573.4 71 1572.7 71 1553.3ZM363 1566.3L371 1566.4 372 1566.8 372.8 1569.8 372.7 1577.8 373.1 1579.8 375 1582.3 378.3 1583.8 379.5 1584.8 380.4 1587.8 380.1 1589.8 379 1592 373 1594.9 368 1599.3 366.4 1601.8 366.1 1604.8 367 1605.7 368 1605.7 372 1604.7 376 1605.5 378 1605.1 379.2 1603.8 380.8 1598.8 382 1598 384 1599 388 1603.7 390 1604 393 1603.6 395 1604.2 397 1605.5 399 1607.8 401 1612.9 403 1614 406 1614.2 406 1629.1 403 1631 400 1631.7 397 1633.2 393.6 1633.8 389 1637.2 384 1637.4 379 1636.4 377 1636.4 371 1639.1 364 1638.1 355 1638.3 352.7 1636.8 351.8 1633.8 352 1630.5 355.5 1616.8 358 1613.3 362.8 1610.8 362.5 1608.8 359 1606.3 358.3 1604.8 358 1602.8 361.7 1590.8 362.1 1587.8 361.9 1584.8 359 1577.8 358.7 1571.8 360 1568.6ZM396 1575.8L399 1575.3 401 1575.5 402.2 1576.8 402.4 1578.8 402.3 1584.8 401.4 1587.8 399 1590.3 396 1591.3 394 1590.9 393 1590 391.9 1587.8 391.6 1585.8 391.9 1582.8 393.1 1578.8 394.3 1576.8ZM72 1592.8L98.3 1592.8 99.8 1593.8 100.9 1595.8 101 1601.8 100.3 1604.8 99 1606.2 97 1606.9 78 1607 71 1608.2 71 1592.7ZM111 1597.7L112.1 1597.8 113.7 1598.8 114.6 1601.8 113.6 1603.8 111 1604.7 108.7 1603.8 108 1601.8 108.9 1598.8ZM72 1631.8L77 1632.3 88 1632.3 98 1631.7 112 1633.4 114 1634.5 114.7 1635.8 114.7 1641.8 113 1645.1 110 1646.5 71 1646.7 71 1631.7ZM374 1647.3L375 1647.3 376 1648 377.1 1649.8 377.6 1651.8 371.4 1651.8 372.5 1648.8Z" fill="#e6e244" fill-rule="evenodd" stroke="#2a2a2a" stroke-width="0.7"/>
<path d="M72 1440.1L78 1440.4 80 1441.6 80.9 1443.8 80.9 1445.8 80.3 1447.8 79.5 1448.8 77 1449.7 71 1449.6 71 1440.1ZM361 1463.8L366 1462.8 367 1463.7 367.5 1466.8 367.1 1468.8 366.3 1469.8 362 1471.4 361 1471.5 359.5 1470.8 358.8 1468.8 359 1465.9 360 1464.2ZM72 1479.6L77 1479.6 79.9 1480.8 80.8 1482.8 80.9 1484.8 79.8 1487.8 77 1489 71 1489.1 71 1479.6ZM76 1519.3L79 1519.5 80 1520.3 80.7 1521.8 81 1523.8 80.6 1525.8 80 1526.9 78 1528.1 76 1527.9 75 1527.3 73.6 1524.8 74 1521.2ZM369 1544.7L371 1544.2 372 1544.5 372.8 1546.8 372 1550 371 1550.9 369 1551.4 367.2 1550.8 366.1 1549.8 365.5 1547.8 366.9 1545.8ZM72 1558.1L78 1558.4 80 1559.6 80.9 1561.8 80.9 1563.8 80.3 1565.8 79.5 1566.8 77 1567.7 71 1567.8 71 1558.1ZM368 1583.4L369 1582.8 371 1583.4 373.7 1586.8 373.2 1588.8 370 1591.2 368 1591.1 366.7 1588.8 366.7 1585.8ZM72 1598.6L72.9 1599.8 73.2 1601.8 72 1603.8 71 1604.2 71 1598.1ZM379 1620.6L383.9 1621.8 386.4 1623.8 386.9 1626.8 386.2 1628.8 385 1630 382 1630.5 380 1629.4 378.7 1627.8 377.3 1624.8 377 1622.8 378 1621ZM364 1627.1L365 1627.2 366.6 1628.8 366.9 1629.8 365.9 1630.8 364 1631.2 363 1630.6 363 1628.3Z" fill="#c8692a" fill-rule="evenodd" stroke="#2a2a2a" stroke-width="0.7"/>
</svg>
<path d="M104.4 1334.8v5M104.4 1649.5v-5M137.6 1334.8v5M137.6 1649.5v-5M170.8 1334.8v5M170.8 1649.5v-5M204.0 1334.8v5M204.0 1649.5v-5M237.2 1334.8v5M237.2 1649.5v-5M270.4 1334.8v5M270.4 1649.5v-5M303.6 1334.8v5M303.6 1649.5v-5M336.8 1334.8v5M336.8 1649.5v-5M370.0 1334.8v5M370.0 1649.5v-5M74.0 1610.2h5M403.0 1610.2h-5M74.0 1570.8h5M403.0 1570.8h-5M74.0 1531.5h5M403.0 1531.5h-5M74.0 1492.2h5M403.0 1492.2h-5M74.0 1452.8h5M403.0 1452.8h-5M74.0 1413.5h5M403.0 1413.5h-5M74.0 1374.1h5M403.0 1374.1h-5" stroke="#111" stroke-width="1" fill="none"/>
<rect x="74.0" y="1334.8" width="329.0" height="314.70000000000005" fill="none" stroke="#111" stroke-width="1.8"/>
<text x="55.7" y="1344.0" text-anchor="middle" style="font-family:'Liberation Serif',serif;stroke:#111;stroke-width:0.3px;font-size:36px" fill="#111">10</text>
<text x="62.6" y="1426.0" text-anchor="middle" style="font-family:'Liberation Serif',serif;stroke:#111;stroke-width:0.3px;font-size:36px" fill="#111">5</text>
<text x="64.6" y="1505.0" text-anchor="middle" style="font-family:'Liberation Serif',serif;stroke:#111;stroke-width:0.3px;font-size:36px" fill="#111">0</text>
<text x="51.85" y="1581.1" text-anchor="middle" style="font-family:'Liberation Serif',serif;stroke:#111;stroke-width:0.3px;font-size:36px" fill="#111">−5</text>
<text x="45.7" y="1660.6" text-anchor="middle" style="font-family:'Liberation Serif',serif;stroke:#111;stroke-width:0.3px;font-size:36px" fill="#111">−10</text>
<text x="137.4" y="1679.2" text-anchor="middle" style="font-family:'Liberation Serif',serif;stroke:#111;stroke-width:0.3px;font-size:36px" fill="#111">−1</text>
<text x="207.9" y="1679.2" text-anchor="middle" style="font-family:'Liberation Serif',serif;stroke:#111;stroke-width:0.3px;font-size:36px" fill="#111">0</text>
<text x="274.4" y="1679.2" text-anchor="middle" style="font-family:'Liberation Serif',serif;stroke:#111;stroke-width:0.3px;font-size:36px" fill="#111">1</text>
<text x="341.2" y="1679.2" text-anchor="middle" style="font-family:'Liberation Serif',serif;stroke:#111;stroke-width:0.3px;font-size:36px" fill="#111">2</text>
<text x="407.1" y="1679.2" text-anchor="middle" style="font-family:'Liberation Serif',serif;stroke:#111;stroke-width:0.3px;font-size:36px" fill="#111">3</text>
<text x="156.1" y="1709.4" style="font-family:'Liberation Serif',serif;stroke:#111;stroke-width:0.3px;font-size:36px" fill="#111">Energy (eV)</text>
<text transform="translate(30.1 1496.7) rotate(-90)" text-anchor="middle" style="font-family:'Liberation Serif',serif;stroke:#111;stroke-width:0.3px;font-size:36px" fill="#111"><tspan font-style="italic">z</tspan> (Å)</text>
<text x="30" y="1298.8" style="font-family:'Liberation Sans',sans-serif;font-size:34px" fill="#111">(d)</text>
<clipPath id="cld"><rect x="380" y="1333.8" width="150" height="316.70000000000005"/></clipPath><g clip-path="url(#cld)">
<line x1="420.4" y1="1325.0" x2="420.4" y2="1336.2" stroke="#cc2a2a" stroke-width="3.7"/><line x1="420.4" y1="1325.0" x2="420.4" y2="1336.2" stroke="#f08a8a" stroke-width="1.1"/><line x1="420.4" y1="1336.2" x2="420.4" y2="1347.3" stroke="#3645ad" stroke-width="3.7"/><line x1="420.4" y1="1336.2" x2="420.4" y2="1347.3" stroke="#8f98e6" stroke-width="1.1"/><line x1="461.9" y1="1325.0" x2="461.9" y2="1335.6" stroke="#cc2a2a" stroke-width="3.7"/><line x1="461.9" y1="1325.0" x2="461.9" y2="1335.6" stroke="#f08a8a" stroke-width="1.1"/><line x1="461.9" y1="1335.6" x2="461.9" y2="1346.2" stroke="#3645ad" stroke-width="3.7"/><line x1="461.9" y1="1335.6" x2="461.9" y2="1346.2" stroke="#8f98e6" stroke-width="1.1"/><line x1="420.4" y1="1347.3" x2="430.8" y2="1350.8" stroke="#3645ad" stroke-width="3.7"/><line x1="420.4" y1="1347.3" x2="430.8" y2="1350.8" stroke="#8f98e6" stroke-width="1.1"/><line x1="430.8" y1="1350.8" x2="441.2" y2="1354.2" stroke="#cc2a2a" stroke-width="3.7"/><line x1="430.8" y1="1350.8" x2="441.2" y2="1354.2" stroke="#f08a8a" stroke-width="1.1"/><line x1="420.4" y1="1361.2" x2="430.8" y2="1357.7" stroke="#3645ad" stroke-width="3.7"/><line x1="420.4" y1="1361.2" x2="430.8" y2="1357.7" stroke="#8f98e6" stroke-width="1.1"/><line x1="430.8" y1="1357.7" x2="441.2" y2="1354.2" stroke="#cc2a2a" stroke-width="3.7"/><line x1="430.8" y1="1357.7" x2="441.2" y2="1354.2" stroke="#f08a8a" stroke-width="1.1"/><line x1="441.2" y1="1354.2" x2="451.5" y2="1350.2" stroke="#cc2a2a" stroke-width="3.7"/><line x1="441.2" y1="1354.2" x2="451.5" y2="1350.2" stroke="#f08a8a" stroke-width="1.1"/><line x1="451.5" y1="1350.2" x2="461.9" y2="1346.2" stroke="#3645ad" stroke-width="3.7"/><line x1="451.5" y1="1350.2" x2="461.9" y2="1346.2" stroke="#8f98e6" stroke-width="1.1"/><line x1="441.2" y1="1354.2" x2="451.5" y2="1358.2" stroke="#cc2a2a" stroke-width="3.7"/><line x1="441.2" y1="1354.2" x2="451.5" y2="1358.2" stroke="#f08a8a" stroke-width="1.1"/><line x1="451.5" y1="1358.2" x2="461.9" y2="1362.3" stroke="#3645ad" stroke-width="3.7"/><line x1="451.5" y1="1358.2" x2="461.9" y2="1362.3" stroke="#8f98e6" stroke-width="1.1"/><line x1="461.9" y1="1346.2" x2="463.0" y2="1349.6" stroke="#3645ad" stroke-width="3.7"/><line x1="461.9" y1="1346.2" x2="463.0" y2="1349.6" stroke="#8f98e6" stroke-width="1.1"/><line x1="463.0" y1="1349.6" x2="464.2" y2="1353.0" stroke="#cc2a2a" stroke-width="3.7"/><line x1="463.0" y1="1349.6" x2="464.2" y2="1353.0" stroke="#f08a8a" stroke-width="1.1"/><line x1="461.9" y1="1362.3" x2="463.0" y2="1357.7" stroke="#3645ad" stroke-width="3.7"/><line x1="461.9" y1="1362.3" x2="463.0" y2="1357.7" stroke="#8f98e6" stroke-width="1.1"/><line x1="463.0" y1="1357.7" x2="464.2" y2="1353.0" stroke="#cc2a2a" stroke-width="3.7"/><line x1="463.0" y1="1357.7" x2="464.2" y2="1353.0" stroke="#f08a8a" stroke-width="1.1"/><line x1="461.9" y1="1346.2" x2="472.9" y2="1350.2" stroke="#3645ad" stroke-width="3.7"/><line x1="461.9" y1="1346.2" x2="472.9" y2="1350.2" stroke="#8f98e6" stroke-width="1.1"/><line x1="472.9" y1="1350.2" x2="483.8" y2="1354.2" stroke="#cc2a2a" stroke-width="3.7"/><line x1="472.9" y1="1350.2" x2="483.8" y2="1354.2" stroke="#f08a8a" stroke-width="1.1"/><line x1="461.9" y1="1362.3" x2="472.9" y2="1358.2" stroke="#3645ad" stroke-width="3.7"/><line x1="461.9" y1="1362.3" x2="472.9" y2="1358.2" stroke="#8f98e6" stroke-width="1.1"/><line x1="472.9" y1="1358.2" x2="483.8" y2="1354.2" stroke="#cc2a2a" stroke-width="3.7"/><line x1="472.9" y1="1358.2" x2="483.8" y2="1354.2" stroke="#f08a8a" stroke-width="1.1"/><line x1="420.4" y1="1347.3" x2="420.4" y2="1354.2" stroke="#3645ad" stroke-width="3.7"/><line x1="420.4" y1="1347.3" x2="420.4" y2="1354.2" stroke="#8f98e6" stroke-width="1.1"/><line x1="420.4" y1="1354.2" x2="420.4" y2="1361.2" stroke="#3645ad" stroke-width="3.7"/><line x1="420.4" y1="1354.2" x2="420.4" y2="1361.2" stroke="#8f98e6" stroke-width="1.1"/><line x1="461.9" y1="1346.2" x2="461.9" y2="1354.2" stroke="#3645ad" stroke-width="3.7"/><line x1="461.9" y1="1346.2" x2="461.9" y2="1354.2" stroke="#8f98e6" stroke-width="1.1"/><line x1="461.9" y1="1354.2" x2="461.9" y2="1362.3" stroke="#3645ad" stroke-width="3.7"/><line x1="461.9" y1="1354.2" x2="461.9" y2="1362.3" stroke="#8f98e6" stroke-width="1.1"/><line x1="420.4" y1="1361.2" x2="419.8" y2="1373.8" stroke="#3645ad" stroke-width="3.7"/><line x1="420.4" y1="1361.2" x2="419.8" y2="1373.8" stroke="#8f98e6" stroke-width="1.1"/><line x1="419.8" y1="1373.8" x2="419.2" y2="1386.5" stroke="#cc2a2a" stroke-width="3.7"/><line x1="419.8" y1="1373.8" x2="419.2" y2="1386.5" stroke="#f08a8a" stroke-width="1.1"/><line x1="419.2" y1="1386.5" x2="419.8" y2="1398.7" stroke="#cc2a2a" stroke-width="3.7"/><line x1="419.2" y1="1386.5" x2="419.8" y2="1398.7" stroke="#f08a8a" stroke-width="1.1"/><line x1="419.8" y1="1398.7" x2="420.4" y2="1410.8" stroke="#3645ad" stroke-width="3.7"/><line x1="419.8" y1="1398.7" x2="420.4" y2="1410.8" stroke="#8f98e6" stroke-width="1.1"/><line x1="461.9" y1="1362.3" x2="461.4" y2="1374.4" stroke="#3645ad" stroke-width="3.7"/><line x1="461.9" y1="1362.3" x2="461.4" y2="1374.4" stroke="#8f98e6" stroke-width="1.1"/><line x1="461.4" y1="1374.4" x2="460.8" y2="1386.5" stroke="#cc2a2a" stroke-width="3.7"/><line x1="461.4" y1="1374.4" x2="460.8" y2="1386.5" stroke="#f08a8a" stroke-width="1.1"/><line x1="460.8" y1="1386.5" x2="461.4" y2="1398.7" stroke="#cc2a2a" stroke-width="3.7"/><line x1="460.8" y1="1386.5" x2="461.4" y2="1398.7" stroke="#f08a8a" stroke-width="1.1"/><line x1="461.4" y1="1398.7" x2="461.9" y2="1410.8" stroke="#3645ad" stroke-width="3.7"/><line x1="461.4" y1="1398.7" x2="461.9" y2="1410.8" stroke="#8f98e6" stroke-width="1.1"/><line x1="420.4" y1="1410.8" x2="432.5" y2="1415.4" stroke="#3645ad" stroke-width="3.7"/><line x1="420.4" y1="1410.8" x2="432.5" y2="1415.4" stroke="#8f98e6" stroke-width="1.1"/><line x1="432.5" y1="1415.4" x2="444.6" y2="1420.0" stroke="#cc2a2a" stroke-width="3.7"/><line x1="432.5" y1="1415.4" x2="444.6" y2="1420.0" stroke="#f08a8a" stroke-width="1.1"/><line x1="420.4" y1="1410.8" x2="435.4" y2="1415.4" stroke="#3645ad" stroke-width="3.7"/><line x1="420.4" y1="1410.8" x2="435.4" y2="1415.4" stroke="#8f98e6" stroke-width="1.1"/><line x1="435.4" y1="1415.4" x2="450.4" y2="1420.0" stroke="#cc2a2a" stroke-width="3.7"/><line x1="435.4" y1="1415.4" x2="450.4" y2="1420.0" stroke="#f08a8a" stroke-width="1.1"/><line x1="461.9" y1="1410.8" x2="474.0" y2="1415.4" stroke="#3645ad" stroke-width="3.7"/><line x1="461.9" y1="1410.8" x2="474.0" y2="1415.4" stroke="#8f98e6" stroke-width="1.1"/><line x1="474.0" y1="1415.4" x2="486.2" y2="1420.0" stroke="#cc2a2a" stroke-width="3.7"/><line x1="474.0" y1="1415.4" x2="486.2" y2="1420.0" stroke="#f08a8a" stroke-width="1.1"/><line x1="461.9" y1="1410.8" x2="476.9" y2="1415.4" stroke="#3645ad" stroke-width="3.7"/><line x1="461.9" y1="1410.8" x2="476.9" y2="1415.4" stroke="#8f98e6" stroke-width="1.1"/><line x1="476.9" y1="1415.4" x2="492.0" y2="1420.0" stroke="#cc2a2a" stroke-width="3.7"/><line x1="476.9" y1="1415.4" x2="492.0" y2="1420.0" stroke="#f08a8a" stroke-width="1.1"/><line x1="444.6" y1="1420.0" x2="446.3" y2="1432.1" stroke="#cc2a2a" stroke-width="3.7"/><line x1="444.6" y1="1420.0" x2="446.3" y2="1432.1" stroke="#f08a8a" stroke-width="1.1"/><line x1="446.3" y1="1432.1" x2="448.0" y2="1444.2" stroke="#3645ad" stroke-width="3.7"/><line x1="446.3" y1="1432.1" x2="448.0" y2="1444.2" stroke="#8f98e6" stroke-width="1.1"/><line x1="450.4" y1="1420.0" x2="449.2" y2="1432.1" stroke="#cc2a2a" stroke-width="3.7"/><line x1="450.4" y1="1420.0" x2="449.2" y2="1432.1" stroke="#f08a8a" stroke-width="1.1"/><line x1="449.2" y1="1432.1" x2="448.0" y2="1444.2" stroke="#3645ad" stroke-width="3.7"/><line x1="449.2" y1="1432.1" x2="448.0" y2="1444.2" stroke="#8f98e6" stroke-width="1.1"/><line x1="486.2" y1="1420.0" x2="487.9" y2="1432.1" stroke="#cc2a2a" stroke-width="3.7"/><line x1="486.2" y1="1420.0" x2="487.9" y2="1432.1" stroke="#f08a8a" stroke-width="1.1"/><line x1="487.9" y1="1432.1" x2="489.6" y2="1444.2" stroke="#3645ad" stroke-width="3.7"/><line x1="487.9" y1="1432.1" x2="489.6" y2="1444.2" stroke="#8f98e6" stroke-width="1.1"/><line x1="492.0" y1="1420.0" x2="490.8" y2="1432.1" stroke="#cc2a2a" stroke-width="3.7"/><line x1="492.0" y1="1420.0" x2="490.8" y2="1432.1" stroke="#f08a8a" stroke-width="1.1"/><line x1="490.8" y1="1432.1" x2="489.6" y2="1444.2" stroke="#3645ad" stroke-width="3.7"/><line x1="490.8" y1="1432.1" x2="489.6" y2="1444.2" stroke="#8f98e6" stroke-width="1.1"/><line x1="448.0" y1="1444.2" x2="434.2" y2="1449.4" stroke="#3645ad" stroke-width="3.7"/><line x1="448.0" y1="1444.2" x2="434.2" y2="1449.4" stroke="#8f98e6" stroke-width="1.1"/><line x1="434.2" y1="1449.4" x2="420.4" y2="1454.6" stroke="#7a5a3c" stroke-width="3.7"/><line x1="434.2" y1="1449.4" x2="420.4" y2="1454.6" stroke="#c0a080" stroke-width="1.1"/><line x1="448.0" y1="1444.2" x2="454.9" y2="1449.4" stroke="#3645ad" stroke-width="3.7"/><line x1="448.0" y1="1444.2" x2="454.9" y2="1449.4" stroke="#8f98e6" stroke-width="1.1"/><line x1="454.9" y1="1449.4" x2="461.9" y2="1454.6" stroke="#7a5a3c" stroke-width="3.7"/><line x1="454.9" y1="1449.4" x2="461.9" y2="1454.6" stroke="#c0a080" stroke-width="1.1"/><line x1="489.6" y1="1444.2" x2="475.8" y2="1449.4" stroke="#3645ad" stroke-width="3.7"/><line x1="489.6" y1="1444.2" x2="475.8" y2="1449.4" stroke="#8f98e6" stroke-width="1.1"/><line x1="475.8" y1="1449.4" x2="461.9" y2="1454.6" stroke="#7a5a3c" stroke-width="3.7"/><line x1="475.8" y1="1449.4" x2="461.9" y2="1454.6" stroke="#c0a080" stroke-width="1.1"/><line x1="420.4" y1="1454.6" x2="419.8" y2="1468.5" stroke="#7a5a3c" stroke-width="3.7"/><line x1="420.4" y1="1454.6" x2="419.8" y2="1468.5" stroke="#c0a080" stroke-width="1.1"/><line x1="419.8" y1="1468.5" x2="419.2" y2="1482.5" stroke="#3645ad" stroke-width="3.7"/><line x1="419.8" y1="1468.5" x2="419.2" y2="1482.5" stroke="#8f98e6" stroke-width="1.1"/><line x1="461.9" y1="1454.6" x2="461.9" y2="1469.1" stroke="#7a5a3c" stroke-width="3.7"/><line x1="461.9" y1="1454.6" x2="461.9" y2="1469.1" stroke="#c0a080" stroke-width="1.1"/><line x1="461.9" y1="1469.1" x2="461.9" y2="1483.6" stroke="#3645ad" stroke-width="3.7"/><line x1="461.9" y1="1469.1" x2="461.9" y2="1483.6" stroke="#8f98e6" stroke-width="1.1"/><line x1="419.2" y1="1482.5" x2="426.1" y2="1487.8" stroke="#3645ad" stroke-width="3.7"/><line x1="419.2" y1="1482.5" x2="426.1" y2="1487.8" stroke="#8f98e6" stroke-width="1.1"/><line x1="426.1" y1="1487.8" x2="433.0" y2="1493.0" stroke="#7a5a3c" stroke-width="3.7"/><line x1="426.1" y1="1487.8" x2="433.0" y2="1493.0" stroke="#c0a080" stroke-width="1.1"/><line x1="461.9" y1="1483.6" x2="447.4" y2="1488.3" stroke="#3645ad" stroke-width="3.7"/><line x1="461.9" y1="1483.6" x2="447.4" y2="1488.3" stroke="#8f98e6" stroke-width="1.1"/><line x1="447.4" y1="1488.3" x2="433.0" y2="1493.0" stroke="#7a5a3c" stroke-width="3.7"/><line x1="447.4" y1="1488.3" x2="433.0" y2="1493.0" stroke="#c0a080" stroke-width="1.1"/><line x1="461.9" y1="1483.6" x2="468.9" y2="1488.3" stroke="#3645ad" stroke-width="3.7"/><line x1="461.9" y1="1483.6" x2="468.9" y2="1488.3" stroke="#8f98e6" stroke-width="1.1"/><line x1="468.9" y1="1488.3" x2="475.8" y2="1493.0" stroke="#7a5a3c" stroke-width="3.7"/><line x1="468.9" y1="1488.3" x2="475.8" y2="1493.0" stroke="#c0a080" stroke-width="1.1"/><line x1="433.0" y1="1493.0" x2="433.0" y2="1507.5" stroke="#7a5a3c" stroke-width="3.7"/><line x1="433.0" y1="1493.0" x2="433.0" y2="1507.5" stroke="#c0a080" stroke-width="1.1"/><line x1="433.0" y1="1507.5" x2="433.0" y2="1522.0" stroke="#3645ad" stroke-width="3.7"/><line x1="433.0" y1="1507.5" x2="433.0" y2="1522.0" stroke="#8f98e6" stroke-width="1.1"/><line x1="475.8" y1="1493.0" x2="475.8" y2="1507.5" stroke="#7a5a3c" stroke-width="3.7"/><line x1="475.8" y1="1493.0" x2="475.8" y2="1507.5" stroke="#c0a080" stroke-width="1.1"/><line x1="475.8" y1="1507.5" x2="475.8" y2="1522.0" stroke="#3645ad" stroke-width="3.7"/><line x1="475.8" y1="1507.5" x2="475.8" y2="1522.0" stroke="#8f98e6" stroke-width="1.1"/><line x1="433.0" y1="1522.0" x2="426.1" y2="1526.6" stroke="#3645ad" stroke-width="3.7"/><line x1="433.0" y1="1522.0" x2="426.1" y2="1526.6" stroke="#8f98e6" stroke-width="1.1"/><line x1="426.1" y1="1526.6" x2="419.2" y2="1531.2" stroke="#7a5a3c" stroke-width="3.7"/><line x1="426.1" y1="1526.6" x2="419.2" y2="1531.2" stroke="#c0a080" stroke-width="1.1"/><line x1="433.0" y1="1522.0" x2="447.4" y2="1526.6" stroke="#3645ad" stroke-width="3.7"/><line x1="433.0" y1="1522.0" x2="447.4" y2="1526.6" stroke="#8f98e6" stroke-width="1.1"/><line x1="447.4" y1="1526.6" x2="461.9" y2="1531.2" stroke="#7a5a3c" stroke-width="3.7"/><line x1="447.4" y1="1526.6" x2="461.9" y2="1531.2" stroke="#c0a080" stroke-width="1.1"/><line x1="475.8" y1="1522.0" x2="468.9" y2="1526.6" stroke="#3645ad" stroke-width="3.7"/><line x1="475.8" y1="1522.0" x2="468.9" y2="1526.6" stroke="#8f98e6" stroke-width="1.1"/><line x1="468.9" y1="1526.6" x2="461.9" y2="1531.2" stroke="#7a5a3c" stroke-width="3.7"/><line x1="468.9" y1="1526.6" x2="461.9" y2="1531.2" stroke="#c0a080" stroke-width="1.1"/><line x1="419.2" y1="1531.2" x2="419.2" y2="1545.0" stroke="#7a5a3c" stroke-width="3.7"/><line x1="419.2" y1="1531.2" x2="419.2" y2="1545.0" stroke="#c0a080" stroke-width="1.1"/><line x1="419.2" y1="1545.0" x2="419.2" y2="1558.8" stroke="#3645ad" stroke-width="3.7"/><line x1="419.2" y1="1545.0" x2="419.2" y2="1558.8" stroke="#8f98e6" stroke-width="1.1"/><line x1="461.9" y1="1531.2" x2="461.9" y2="1545.6" stroke="#7a5a3c" stroke-width="3.7"/><line x1="461.9" y1="1531.2" x2="461.9" y2="1545.6" stroke="#c0a080" stroke-width="1.1"/><line x1="461.9" y1="1545.6" x2="461.9" y2="1560.0" stroke="#3645ad" stroke-width="3.7"/><line x1="461.9" y1="1545.6" x2="461.9" y2="1560.0" stroke="#8f98e6" stroke-width="1.1"/><line x1="419.2" y1="1558.8" x2="433.6" y2="1564.0" stroke="#3645ad" stroke-width="3.7"/><line x1="419.2" y1="1558.8" x2="433.6" y2="1564.0" stroke="#8f98e6" stroke-width="1.1"/><line x1="433.6" y1="1564.0" x2="448.0" y2="1569.2" stroke="#7a5a3c" stroke-width="3.7"/><line x1="433.6" y1="1564.0" x2="448.0" y2="1569.2" stroke="#c0a080" stroke-width="1.1"/><line x1="461.9" y1="1560.0" x2="454.9" y2="1564.6" stroke="#3645ad" stroke-width="3.7"/><line x1="461.9" y1="1560.0" x2="454.9" y2="1564.6" stroke="#8f98e6" stroke-width="1.1"/><line x1="454.9" y1="1564.6" x2="448.0" y2="1569.2" stroke="#7a5a3c" stroke-width="3.7"/><line x1="454.9" y1="1564.6" x2="448.0" y2="1569.2" stroke="#c0a080" stroke-width="1.1"/><line x1="461.9" y1="1560.0" x2="475.8" y2="1564.6" stroke="#3645ad" stroke-width="3.7"/><line x1="461.9" y1="1560.0" x2="475.8" y2="1564.6" stroke="#8f98e6" stroke-width="1.1"/><line x1="475.8" y1="1564.6" x2="489.6" y2="1569.2" stroke="#7a5a3c" stroke-width="3.7"/><line x1="475.8" y1="1564.6" x2="489.6" y2="1569.2" stroke="#c0a080" stroke-width="1.1"/><line x1="448.0" y1="1569.2" x2="448.0" y2="1583.6" stroke="#7a5a3c" stroke-width="3.7"/><line x1="448.0" y1="1569.2" x2="448.0" y2="1583.6" stroke="#c0a080" stroke-width="1.1"/><line x1="448.0" y1="1583.6" x2="448.0" y2="1598.0" stroke="#3645ad" stroke-width="3.7"/><line x1="448.0" y1="1583.6" x2="448.0" y2="1598.0" stroke="#8f98e6" stroke-width="1.1"/><line x1="489.6" y1="1569.2" x2="489.6" y2="1583.6" stroke="#7a5a3c" stroke-width="3.7"/><line x1="489.6" y1="1569.2" x2="489.6" y2="1583.6" stroke="#c0a080" stroke-width="1.1"/><line x1="489.6" y1="1583.6" x2="489.6" y2="1598.0" stroke="#3645ad" stroke-width="3.7"/><line x1="489.6" y1="1583.6" x2="489.6" y2="1598.0" stroke="#8f98e6" stroke-width="1.1"/><line x1="448.0" y1="1598.0" x2="433.6" y2="1603.2" stroke="#3645ad" stroke-width="3.7"/><line x1="448.0" y1="1598.0" x2="433.6" y2="1603.2" stroke="#8f98e6" stroke-width="1.1"/><line x1="433.6" y1="1603.2" x2="419.2" y2="1608.5" stroke="#7a5a3c" stroke-width="3.7"/><line x1="433.6" y1="1603.2" x2="419.2" y2="1608.5" stroke="#c0a080" stroke-width="1.1"/><line x1="448.0" y1="1598.0" x2="454.9" y2="1603.2" stroke="#3645ad" stroke-width="3.7"/><line x1="448.0" y1="1598.0" x2="454.9" y2="1603.2" stroke="#8f98e6" stroke-width="1.1"/><line x1="454.9" y1="1603.2" x2="461.9" y2="1608.5" stroke="#7a5a3c" stroke-width="3.7"/><line x1="454.9" y1="1603.2" x2="461.9" y2="1608.5" stroke="#c0a080" stroke-width="1.1"/><line x1="489.6" y1="1598.0" x2="475.8" y2="1603.2" stroke="#3645ad" stroke-width="3.7"/><line x1="489.6" y1="1598.0" x2="475.8" y2="1603.2" stroke="#8f98e6" stroke-width="1.1"/><line x1="475.8" y1="1603.2" x2="461.9" y2="1608.5" stroke="#7a5a3c" stroke-width="3.7"/><line x1="475.8" y1="1603.2" x2="461.9" y2="1608.5" stroke="#c0a080" stroke-width="1.1"/><line x1="419.2" y1="1608.5" x2="419.2" y2="1622.3" stroke="#7a5a3c" stroke-width="3.7"/><line x1="419.2" y1="1608.5" x2="419.2" y2="1622.3" stroke="#c0a080" stroke-width="1.1"/><line x1="419.2" y1="1622.3" x2="419.2" y2="1636.2" stroke="#3645ad" stroke-width="3.7"/><line x1="419.2" y1="1622.3" x2="419.2" y2="1636.2" stroke="#8f98e6" stroke-width="1.1"/><line x1="461.9" y1="1608.5" x2="461.9" y2="1622.3" stroke="#7a5a3c" stroke-width="3.7"/><line x1="461.9" y1="1608.5" x2="461.9" y2="1622.3" stroke="#c0a080" stroke-width="1.1"/><line x1="461.9" y1="1622.3" x2="461.9" y2="1636.2" stroke="#3645ad" stroke-width="3.7"/><line x1="461.9" y1="1622.3" x2="461.9" y2="1636.2" stroke="#8f98e6" stroke-width="1.1"/><line x1="419.2" y1="1636.2" x2="426.1" y2="1641.3" stroke="#3645ad" stroke-width="3.7"/><line x1="419.2" y1="1636.2" x2="426.1" y2="1641.3" stroke="#8f98e6" stroke-width="1.1"/><line x1="426.1" y1="1641.3" x2="433.0" y2="1646.5" stroke="#7a5a3c" stroke-width="3.7"/><line x1="426.1" y1="1641.3" x2="433.0" y2="1646.5" stroke="#c0a080" stroke-width="1.1"/><line x1="461.9" y1="1636.2" x2="447.4" y2="1641.3" stroke="#3645ad" stroke-width="3.7"/><line x1="461.9" y1="1636.2" x2="447.4" y2="1641.3" stroke="#8f98e6" stroke-width="1.1"/><line x1="447.4" y1="1641.3" x2="433.0" y2="1646.5" stroke="#7a5a3c" stroke-width="3.7"/><line x1="447.4" y1="1641.3" x2="433.0" y2="1646.5" stroke="#c0a080" stroke-width="1.1"/><line x1="461.9" y1="1636.2" x2="468.9" y2="1641.3" stroke="#3645ad" stroke-width="3.7"/><line x1="461.9" y1="1636.2" x2="468.9" y2="1641.3" stroke="#8f98e6" stroke-width="1.1"/><line x1="468.9" y1="1641.3" x2="475.8" y2="1646.5" stroke="#7a5a3c" stroke-width="3.7"/><line x1="468.9" y1="1641.3" x2="475.8" y2="1646.5" stroke="#c0a080" stroke-width="1.1"/>
<circle cx="420.4" cy="1347.3" r="7.7" fill="url(#gB)"/><circle cx="461.9" cy="1346.2" r="7.7" fill="url(#gB)"/><circle cx="441.2" cy="1354.2" r="4.6" fill="url(#gO)"/><circle cx="464.2" cy="1353.0" r="4.6" fill="url(#gO)"/><circle cx="483.8" cy="1354.2" r="4.6" fill="url(#gO)"/><circle cx="420.4" cy="1361.2" r="7.7" fill="url(#gB)"/><circle cx="461.9" cy="1362.3" r="7.7" fill="url(#gB)"/><circle cx="419.2" cy="1386.5" r="4.6" fill="url(#gO)"/><circle cx="460.8" cy="1386.5" r="4.6" fill="url(#gO)"/><circle cx="420.4" cy="1410.8" r="7.7" fill="url(#gB)"/><circle cx="461.9" cy="1410.8" r="7.7" fill="url(#gB)"/><circle cx="444.6" cy="1420.0" r="4.6" fill="url(#gO)"/><circle cx="450.4" cy="1420.0" r="4.6" fill="url(#gO)"/><circle cx="486.2" cy="1420.0" r="4.6" fill="url(#gO)"/><circle cx="492.0" cy="1420.0" r="4.6" fill="url(#gO)"/><circle cx="448.0" cy="1444.2" r="7.7" fill="url(#gB)"/><circle cx="489.6" cy="1444.2" r="7.7" fill="url(#gB)"/><circle cx="420.4" cy="1454.6" r="4.8" fill="url(#gN)"/><circle cx="461.9" cy="1454.6" r="4.8" fill="url(#gN)"/><circle cx="419.2" cy="1482.5" r="7.7" fill="url(#gB)"/><circle cx="461.9" cy="1483.6" r="7.7" fill="url(#gB)"/><circle cx="433.0" cy="1493.0" r="4.8" fill="url(#gN)"/><circle cx="475.8" cy="1493.0" r="4.8" fill="url(#gN)"/><circle cx="433.0" cy="1522.0" r="7.7" fill="url(#gB)"/><circle cx="475.8" cy="1522.0" r="7.7" fill="url(#gB)"/><circle cx="419.2" cy="1531.2" r="4.8" fill="url(#gN)"/><circle cx="461.9" cy="1531.2" r="4.8" fill="url(#gN)"/><circle cx="419.2" cy="1558.8" r="7.7" fill="url(#gB)"/><circle cx="461.9" cy="1560.0" r="7.7" fill="url(#gB)"/><circle cx="448.0" cy="1569.2" r="4.8" fill="url(#gN)"/><circle cx="489.6" cy="1569.2" r="4.8" fill="url(#gN)"/><circle cx="448.0" cy="1598.0" r="7.7" fill="url(#gB)"/><circle cx="489.6" cy="1598.0" r="7.7" fill="url(#gB)"/><circle cx="419.2" cy="1608.5" r="4.8" fill="url(#gN)"/><circle cx="461.9" cy="1608.5" r="4.8" fill="url(#gN)"/><circle cx="419.2" cy="1636.2" r="7.7" fill="url(#gB)"/><circle cx="461.9" cy="1636.2" r="7.7" fill="url(#gB)"/><circle cx="433.0" cy="1646.5" r="4.8" fill="url(#gN)"/><circle cx="475.8" cy="1646.5" r="4.8" fill="url(#gN)"/>
</g>
<line x1="278" y1="1506.5" x2="496" y2="1506.5" stroke="#111" stroke-width="2.9" stroke-dasharray="8.2 6.3" stroke-dashoffset="3.2"/>
<text x="505" y="1455.5" style="font-family:'Liberation Serif',serif;stroke:#111;stroke-width:0.3px;font-size:36px" fill="#111">1</text>
<text x="505" y="1495" style="font-family:'Liberation Serif',serif;stroke:#111;stroke-width:0.3px;font-size:36px" fill="#111">2</text>
<text x="505" y="1534" style="font-family:'Liberation Serif',serif;stroke:#111;stroke-width:0.3px;font-size:36px" fill="#111">3</text>
<text x="505" y="1573.5" style="font-family:'Liberation Serif',serif;stroke:#111;stroke-width:0.3px;font-size:36px" fill="#111">4</text>
<text x="505" y="1612.5" style="font-family:'Liberation Serif',serif;stroke:#111;stroke-width:0.3px;font-size:36px" fill="#111">5</text>
<text x="505" y="1652" style="font-family:'Liberation Serif',serif;stroke:#111;stroke-width:0.3px;font-size:36px" fill="#111">6</text>
<rect x="585.7" y="483.20" width="35.9" height="39.28" fill="#b01e24" stroke="#111" stroke-width="1.6"/>
<rect x="585.7" y="522.48" width="35.9" height="39.28" fill="#b01e24" stroke="#111" stroke-width="1.6"/>
<rect x="585.7" y="561.76" width="35.9" height="39.28" fill="#c8692a" stroke="#111" stroke-width="1.6"/>
<rect x="585.7" y="601.05" width="35.9" height="39.28" fill="#e6e244" stroke="#111" stroke-width="1.6"/>
<rect x="585.7" y="640.33" width="35.9" height="39.28" fill="#94b62a" stroke="#111" stroke-width="1.6"/>
<rect x="585.7" y="679.61" width="35.9" height="39.28" fill="#76a832" stroke="#111" stroke-width="1.6"/>
<rect x="585.7" y="718.89" width="35.9" height="39.28" fill="#7ab06a" stroke="#111" stroke-width="1.6"/>
<rect x="585.7" y="758.17" width="35.9" height="39.28" fill="#84bccc" stroke="#111" stroke-width="1.6"/>
<rect x="585.7" y="797.45" width="35.9" height="39.28" fill="#4760a8" stroke="#111" stroke-width="1.6"/>
<rect x="585.7" y="836.74" width="35.9" height="39.28" fill="#2e3488" stroke="#111" stroke-width="1.6"/>
<rect x="585.7" y="876.02" width="35.9" height="39.28" fill="#2e3488" stroke="#111" stroke-width="1.6"/>
<text x="558.5" y="432.8" style="font-family:'Liberation Serif',serif;stroke:#111;stroke-width:0.3px;font-size:35.5px" fill="#111">LDOS</text>
<text x="576.7" y="471.5" style="font-family:'Liberation Serif',serif;stroke:#111;stroke-width:0.3px;font-size:29px" fill="#111">High</text>
<text x="576.5" y="943" style="font-family:'Liberation Serif',serif;stroke:#111;stroke-width:0.3px;font-size:29px" fill="#111">Low</text>
</svg></body></html>
